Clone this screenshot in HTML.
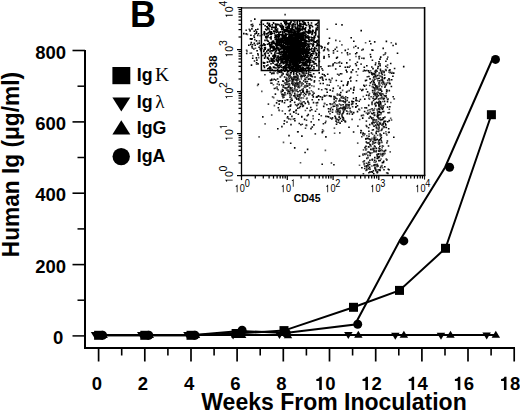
<!DOCTYPE html>
<html><head><meta charset="utf-8"><style>
html,body{margin:0;padding:0;background:#fff;width:520px;height:412px;overflow:hidden}
svg{display:block}
</style></head><body>
<svg width="520" height="412" viewBox="0 0 520 412">
<defs>
<path id="one_b" d="M372,0 L372,-710 L262,-710 C248,-650 200,-602 78,-592 L78,-486 L233,-486 L233,0 Z"/>
<path id="one_r" d="M309,0 L309,-709 L252,-709 C238,-650 190,-612 109,-602 L109,-535 L223,-535 L223,0 Z"/>
</defs>
<rect width="520" height="412" fill="#fff"/>
<g stroke="#000" fill="none" stroke-linecap="butt">
<path d="M85,50 V348.2" stroke-width="2"/>
<path d="M84,348 H515" stroke-width="1.8"/>
<path d="M72.5,335.9 H85" stroke-width="1.5"/>
<path d="M77.5,300.2 H85" stroke-width="1.5"/>
<path d="M72.5,264.6 H85" stroke-width="1.6"/>
<path d="M77.5,228.9 H85" stroke-width="1.5"/>
<path d="M72.5,193.2 H85" stroke-width="1.6"/>
<path d="M77.5,157.5 H85" stroke-width="1.5"/>
<path d="M72.5,121.9 H85" stroke-width="1.6"/>
<path d="M77.5,86.2 H85" stroke-width="1.5"/>
<path d="M72.5,50.5 H85" stroke-width="1.6"/>
<path d="M98.6,348 V361.5" stroke-width="1.7"/>
<path d="M121.7,348 V355.5" stroke-width="1.6"/>
<path d="M144.8,348 V361.5" stroke-width="1.7"/>
<path d="M167.9,348 V355.5" stroke-width="1.6"/>
<path d="M191.0,348 V361.5" stroke-width="1.7"/>
<path d="M214.1,348 V355.5" stroke-width="1.6"/>
<path d="M237.1,348 V361.5" stroke-width="1.7"/>
<path d="M260.2,348 V355.5" stroke-width="1.6"/>
<path d="M283.3,348 V361.5" stroke-width="1.7"/>
<path d="M306.4,348 V355.5" stroke-width="1.6"/>
<path d="M329.5,348 V361.5" stroke-width="1.7"/>
<path d="M352.6,348 V355.5" stroke-width="1.6"/>
<path d="M375.7,348 V361.5" stroke-width="1.7"/>
<path d="M398.8,348 V355.5" stroke-width="1.6"/>
<path d="M421.9,348 V361.5" stroke-width="1.7"/>
<path d="M445.0,348 V355.5" stroke-width="1.6"/>
<path d="M468.0,348 V361.5" stroke-width="1.7"/>
<path d="M491.1,348 V355.5" stroke-width="1.6"/>
<path d="M514.2,348 V361.5" stroke-width="1.7"/>
</g>
<g font-family="Liberation Sans" font-weight="bold" font-size="18.5" fill="#000">
<text x="66" y="58.6" text-anchor="end">800</text>
<text x="66" y="129.5" text-anchor="end">600</text>
<text x="66" y="201.2" text-anchor="end">400</text>
<text x="66" y="273" text-anchor="end">200</text>
<text x="63.2" y="343.5" text-anchor="end">0</text>
<text x="96.8" y="390" text-anchor="middle">0</text>
<text x="143.0" y="390" text-anchor="middle">2</text>
<text x="189.2" y="390" text-anchor="middle">4</text>
<text x="235.3" y="390" text-anchor="middle">6</text>
<text x="281.5" y="390" text-anchor="middle">8</text>
<use href="#one_b" transform="translate(314.91,390) scale(0.0185)"/>
<text x="325.20" y="390">0</text>
<use href="#one_b" transform="translate(361.09,390) scale(0.0185)"/>
<text x="371.38" y="390">2</text>
<use href="#one_b" transform="translate(407.27,390) scale(0.0185)"/>
<text x="417.56" y="390">4</text>
<use href="#one_b" transform="translate(453.45,390) scale(0.0185)"/>
<text x="463.74" y="390">6</text>
<use href="#one_b" transform="translate(499.63,390) scale(0.0185)"/>
<text x="509.92" y="390">8</text>
</g>
<text x="334" y="410.3" text-anchor="middle" font-family="Liberation Sans" font-weight="bold" font-size="23">Weeks From Inoculation</text>
<text transform="translate(18.6,164.6) rotate(-90) scale(0.962,1)" text-anchor="middle" font-family="Liberation Sans" font-weight="bold" font-size="23.6">Human Ig (μg/ml)</text>
<text x="143" y="26.9" text-anchor="middle" font-family="Liberation Sans" font-weight="bold" font-size="36">B</text>
<g stroke="#000" stroke-width="2" fill="none">
<path d="M98.6,335.3 L144.8,335.3 L191.0,335.3 L236.1,333.5 L284.0,330.6 L353.5,307.3 L399.5,290.4 L445.5,248.3 L491.4,114.7"/>
<path d="M98.6,335.3 L144.8,335.3 L191.0,335.3 L240.0,331.0 L285.3,333.0 L355.0,324.5 L399.5,241.0 L445.0,167.5 L492.0,60.0"/>
<path d="M98.6,335 H496"/>
</g>
<g fill="#000">
<path d="M90.8,332.0 H99.3 L95.1,339.0 Z"/>
<path d="M137.0,332.0 H145.5 L141.3,339.0 Z"/>
<path d="M183.2,332.0 H191.7 L187.5,339.0 Z"/>
<path d="M228.9,332.5 H237.4 L233.1,339.5 Z"/>
<path d="M275.2,332.0 H283.8 L279.5,339.0 Z"/>
<path d="M344.1,332.0 H352.6 L348.3,339.0 Z"/>
<path d="M391.1,332.7 H399.6 L395.3,339.7 Z"/>
<path d="M436.7,332.7 H445.2 L441.0,339.7 Z"/>
<path d="M482.4,332.5 H490.9 L486.7,339.5 Z"/>
<path d="M99.3,338.0 H107.8 L103.6,331.0 Z"/>
<path d="M145.5,338.0 H154.0 L149.8,331.0 Z"/>
<path d="M191.7,338.0 H200.2 L196.0,331.0 Z"/>
<path d="M237.9,338.0 H246.4 L242.1,331.0 Z"/>
<path d="M283.8,338.3 H292.2 L288.0,331.3 Z"/>
<path d="M354.1,337.7 H362.6 L358.3,330.7 Z"/>
<path d="M399.6,337.7 H408.1 L403.9,330.7 Z"/>
<path d="M446.2,337.7 H454.7 L450.5,330.7 Z"/>
<path d="M491.6,337.7 H500.1 L495.8,330.7 Z"/>
<rect x="94.1" y="330.8" width="9" height="9"/>
<rect x="140.3" y="330.8" width="9" height="9"/>
<rect x="186.5" y="330.8" width="9" height="9"/>
<rect x="231.6" y="329.0" width="9" height="9"/>
<rect x="279.5" y="326.1" width="9" height="9"/>
<rect x="349.0" y="302.8" width="9" height="9"/>
<rect x="395.0" y="285.9" width="9" height="9"/>
<rect x="441.0" y="243.8" width="9" height="9"/>
<rect x="486.9" y="110.2" width="9" height="9"/>
<circle cx="102.6" cy="335.3" r="4.5"/>
<circle cx="148.8" cy="335.3" r="4.5"/>
<circle cx="195.0" cy="335.3" r="4.5"/>
<circle cx="242.1" cy="330.3" r="4.5"/>
<circle cx="286.3" cy="333.0" r="4.5"/>
<circle cx="357.7" cy="324.3" r="4.5"/>
<circle cx="403.8" cy="240.9" r="4.5"/>
<circle cx="449.6" cy="167.3" r="4.5"/>
<circle cx="495.5" cy="59.4" r="4.5"/>
</g>
<g fill="#000">
<rect x="112.4" y="67" width="17.9" height="17.2"/>
<path d="M112.4,97.4 H130.3 L121.3,111.5 Z"/>
<path d="M112.4,134.4 H130.3 L121.3,120.3 Z"/>
<circle cx="121.2" cy="156.6" r="8.7"/>
</g>
<g font-family="Liberation Sans" font-weight="bold" font-size="17.8" fill="#000">
<text x="136.8" y="80.9">Ig<tspan font-family="Liberation Serif" font-weight="normal" font-size="19.5" dx="2.4">K</tspan></text>
<text x="136.8" y="107.5">Ig<tspan font-family="Liberation Serif" font-weight="normal" font-size="19" dx="2.6">λ</tspan></text>
<text x="136.8" y="134.4">IgG</text>
<text x="136.8" y="162">IgA</text>
</g>
<path fill="#000" d="M291.0 54.6h1.6v1.6h-1.6zM291.2 43.9h1.6v1.6h-1.6zM285.6 45.2h1.6v1.6h-1.6zM301.9 53.5h1.6v1.6h-1.6zM301.3 51.2h1.6v1.6h-1.6zM296.2 50.4h1.6v1.6h-1.6zM279.7 59.1h1.6v1.6h-1.6zM297.1 54.5h1.6v1.6h-1.6zM279.5 25.3h1.6v1.6h-1.6zM285.9 41.9h1.6v1.6h-1.6zM295.4 47.4h1.6v1.6h-1.6zM297.2 39.7h1.6v1.6h-1.6zM295.5 53.1h1.6v1.6h-1.6zM287.7 70.3h1.6v1.6h-1.6zM297.5 63.6h1.6v1.6h-1.6zM288.0 38.4h1.6v1.6h-1.6zM290.2 46.6h1.6v1.6h-1.6zM298.1 51.2h1.6v1.6h-1.6zM289.4 35.6h1.6v1.6h-1.6zM288.8 63.9h1.6v1.6h-1.6zM286.5 51.2h1.6v1.6h-1.6zM296.4 28.6h1.6v1.6h-1.6zM293.4 65.0h1.6v1.6h-1.6zM276.9 43.8h1.6v1.6h-1.6zM292.2 37.4h1.6v1.6h-1.6zM297.0 47.2h1.6v1.6h-1.6zM281.3 58.8h1.6v1.6h-1.6zM298.4 60.3h1.6v1.6h-1.6zM304.5 52.7h1.6v1.6h-1.6zM294.0 31.1h1.6v1.6h-1.6zM297.9 40.0h1.6v1.6h-1.6zM289.4 31.6h1.6v1.6h-1.6zM285.3 41.1h1.6v1.6h-1.6zM303.3 21.6h1.6v1.6h-1.6zM281.3 51.1h1.6v1.6h-1.6zM304.5 55.5h1.6v1.6h-1.6zM295.9 38.4h1.6v1.6h-1.6zM284.0 60.7h1.6v1.6h-1.6zM301.8 50.0h1.6v1.6h-1.6zM295.0 53.6h1.6v1.6h-1.6zM305.8 56.0h1.6v1.6h-1.6zM297.1 55.1h1.6v1.6h-1.6zM280.5 64.7h1.6v1.6h-1.6zM300.6 54.9h1.6v1.6h-1.6zM277.2 39.8h1.6v1.6h-1.6zM299.7 24.5h1.6v1.6h-1.6zM291.5 61.3h1.6v1.6h-1.6zM282.5 68.9h1.6v1.6h-1.6zM297.4 46.0h1.6v1.6h-1.6zM295.6 56.4h1.6v1.6h-1.6zM294.0 62.9h1.6v1.6h-1.6zM287.7 42.6h1.6v1.6h-1.6zM301.3 48.3h1.6v1.6h-1.6zM286.0 60.3h1.6v1.6h-1.6zM304.7 42.2h1.6v1.6h-1.6zM282.0 46.2h1.6v1.6h-1.6zM291.8 44.1h1.6v1.6h-1.6zM304.2 34.6h1.6v1.6h-1.6zM303.1 31.5h1.6v1.6h-1.6zM286.7 56.2h1.6v1.6h-1.6zM302.0 59.2h1.6v1.6h-1.6zM295.8 49.9h1.6v1.6h-1.6zM294.2 55.5h1.6v1.6h-1.6zM291.6 51.6h1.6v1.6h-1.6zM297.6 48.0h1.6v1.6h-1.6zM299.1 55.4h1.6v1.6h-1.6zM309.1 52.2h1.6v1.6h-1.6zM289.6 43.2h1.6v1.6h-1.6zM292.9 60.0h1.6v1.6h-1.6zM290.3 53.0h1.6v1.6h-1.6zM284.0 51.2h1.6v1.6h-1.6zM296.2 51.1h1.6v1.6h-1.6zM289.6 56.5h1.6v1.6h-1.6zM295.3 41.2h1.6v1.6h-1.6zM312.4 52.6h1.6v1.6h-1.6zM288.6 46.7h1.6v1.6h-1.6zM291.2 47.2h1.6v1.6h-1.6zM271.2 41.7h1.6v1.6h-1.6zM301.1 32.8h1.6v1.6h-1.6zM292.5 60.4h1.6v1.6h-1.6zM299.8 67.4h1.6v1.6h-1.6zM279.4 43.4h1.6v1.6h-1.6zM290.3 56.1h1.6v1.6h-1.6zM301.7 29.2h1.6v1.6h-1.6zM298.5 28.6h1.6v1.6h-1.6zM294.4 63.5h1.6v1.6h-1.6zM291.8 50.5h1.6v1.6h-1.6zM299.4 49.8h1.6v1.6h-1.6zM292.3 67.9h1.6v1.6h-1.6zM301.4 44.2h1.6v1.6h-1.6zM315.0 33.1h1.6v1.6h-1.6zM300.3 44.5h1.6v1.6h-1.6zM294.1 57.2h1.6v1.6h-1.6zM294.8 56.3h1.6v1.6h-1.6zM280.8 28.4h1.6v1.6h-1.6zM297.9 35.5h1.6v1.6h-1.6zM284.8 28.9h1.6v1.6h-1.6zM303.1 57.7h1.6v1.6h-1.6zM304.8 35.8h1.6v1.6h-1.6zM293.0 33.2h1.6v1.6h-1.6zM299.1 68.7h1.6v1.6h-1.6zM285.9 68.3h1.6v1.6h-1.6zM300.9 45.7h1.6v1.6h-1.6zM277.2 66.3h1.6v1.6h-1.6zM292.2 40.2h1.6v1.6h-1.6zM296.2 53.3h1.6v1.6h-1.6zM305.0 34.7h1.6v1.6h-1.6zM302.1 67.3h1.6v1.6h-1.6zM304.6 45.7h1.6v1.6h-1.6zM287.0 61.2h1.6v1.6h-1.6zM293.9 49.6h1.6v1.6h-1.6zM304.4 44.6h1.6v1.6h-1.6zM274.6 43.0h1.6v1.6h-1.6zM278.2 58.6h1.6v1.6h-1.6zM295.5 40.1h1.6v1.6h-1.6zM292.9 58.8h1.6v1.6h-1.6zM293.6 65.2h1.6v1.6h-1.6zM292.5 61.5h1.6v1.6h-1.6zM304.9 68.9h1.6v1.6h-1.6zM287.6 59.4h1.6v1.6h-1.6zM278.0 33.9h1.6v1.6h-1.6zM277.3 61.9h1.6v1.6h-1.6zM283.1 47.8h1.6v1.6h-1.6zM291.5 47.6h1.6v1.6h-1.6zM288.3 51.0h1.6v1.6h-1.6zM307.3 48.6h1.6v1.6h-1.6zM297.2 61.0h1.6v1.6h-1.6zM291.4 31.6h1.6v1.6h-1.6zM288.6 62.0h1.6v1.6h-1.6zM279.8 40.2h1.6v1.6h-1.6zM301.1 58.3h1.6v1.6h-1.6zM293.1 58.5h1.6v1.6h-1.6zM294.3 32.7h1.6v1.6h-1.6zM280.5 39.7h1.6v1.6h-1.6zM300.4 40.6h1.6v1.6h-1.6zM285.8 38.0h1.6v1.6h-1.6zM280.7 46.5h1.6v1.6h-1.6zM283.6 52.7h1.6v1.6h-1.6zM274.1 52.3h1.6v1.6h-1.6zM287.9 22.8h1.6v1.6h-1.6zM298.8 44.4h1.6v1.6h-1.6zM275.2 36.6h1.6v1.6h-1.6zM295.3 42.0h1.6v1.6h-1.6zM299.2 57.7h1.6v1.6h-1.6zM298.3 52.2h1.6v1.6h-1.6zM303.7 56.6h1.6v1.6h-1.6zM296.6 20.9h1.6v1.6h-1.6zM300.2 65.0h1.6v1.6h-1.6zM290.6 41.9h1.6v1.6h-1.6zM308.5 25.1h1.6v1.6h-1.6zM285.6 57.0h1.6v1.6h-1.6zM308.1 46.4h1.6v1.6h-1.6zM297.5 59.7h1.6v1.6h-1.6zM285.8 46.8h1.6v1.6h-1.6zM295.3 58.7h1.6v1.6h-1.6zM292.7 45.5h1.6v1.6h-1.6zM284.9 43.3h1.6v1.6h-1.6zM300.1 49.3h1.6v1.6h-1.6zM286.2 37.1h1.6v1.6h-1.6zM314.3 62.8h1.6v1.6h-1.6zM298.0 54.2h1.6v1.6h-1.6zM306.5 53.6h1.6v1.6h-1.6zM292.5 54.8h1.6v1.6h-1.6zM277.4 61.4h1.6v1.6h-1.6zM295.6 38.9h1.6v1.6h-1.6zM281.8 39.3h1.6v1.6h-1.6zM295.3 50.4h1.6v1.6h-1.6zM289.8 35.3h1.6v1.6h-1.6zM310.0 61.5h1.6v1.6h-1.6zM283.4 30.5h1.6v1.6h-1.6zM306.6 60.9h1.6v1.6h-1.6zM307.6 58.5h1.6v1.6h-1.6zM286.0 51.4h1.6v1.6h-1.6zM275.7 38.3h1.6v1.6h-1.6zM292.5 54.8h1.6v1.6h-1.6zM287.2 46.4h1.6v1.6h-1.6zM296.7 52.9h1.6v1.6h-1.6zM298.1 50.7h1.6v1.6h-1.6zM290.4 58.3h1.6v1.6h-1.6zM293.4 37.3h1.6v1.6h-1.6zM288.0 48.0h1.6v1.6h-1.6zM292.1 50.0h1.6v1.6h-1.6zM293.0 50.3h1.6v1.6h-1.6zM291.9 31.6h1.6v1.6h-1.6zM296.4 61.7h1.6v1.6h-1.6zM296.5 45.5h1.6v1.6h-1.6zM296.6 35.4h1.6v1.6h-1.6zM277.8 48.8h1.6v1.6h-1.6zM285.6 57.6h1.6v1.6h-1.6zM284.7 68.5h1.6v1.6h-1.6zM289.9 30.2h1.6v1.6h-1.6zM286.9 54.8h1.6v1.6h-1.6zM297.0 50.3h1.6v1.6h-1.6zM304.9 57.2h1.6v1.6h-1.6zM292.8 55.8h1.6v1.6h-1.6zM306.2 60.6h1.6v1.6h-1.6zM301.2 33.9h1.6v1.6h-1.6zM291.8 57.5h1.6v1.6h-1.6zM290.6 61.9h1.6v1.6h-1.6zM297.8 59.8h1.6v1.6h-1.6zM302.9 45.2h1.6v1.6h-1.6zM290.3 59.4h1.6v1.6h-1.6zM300.8 48.1h1.6v1.6h-1.6zM283.7 50.4h1.6v1.6h-1.6zM295.9 62.7h1.6v1.6h-1.6zM299.3 48.3h1.6v1.6h-1.6zM299.8 55.0h1.6v1.6h-1.6zM294.6 48.7h1.6v1.6h-1.6zM291.1 56.9h1.6v1.6h-1.6zM284.6 39.8h1.6v1.6h-1.6zM293.0 29.0h1.6v1.6h-1.6zM289.5 21.9h1.6v1.6h-1.6zM287.5 55.4h1.6v1.6h-1.6zM297.5 47.3h1.6v1.6h-1.6zM291.1 29.6h1.6v1.6h-1.6zM307.6 54.7h1.6v1.6h-1.6zM301.7 36.5h1.6v1.6h-1.6zM291.5 24.3h1.6v1.6h-1.6zM299.2 60.2h1.6v1.6h-1.6zM277.8 47.3h1.6v1.6h-1.6zM298.0 25.1h1.6v1.6h-1.6zM278.4 34.2h1.6v1.6h-1.6zM288.0 29.8h1.6v1.6h-1.6zM293.3 51.2h1.6v1.6h-1.6zM298.1 57.1h1.6v1.6h-1.6zM305.0 63.1h1.6v1.6h-1.6zM282.5 41.4h1.6v1.6h-1.6zM284.5 34.0h1.6v1.6h-1.6zM292.3 48.1h1.6v1.6h-1.6zM296.9 27.4h1.6v1.6h-1.6zM283.1 47.7h1.6v1.6h-1.6zM291.4 44.0h1.6v1.6h-1.6zM292.5 38.1h1.6v1.6h-1.6zM298.6 52.6h1.6v1.6h-1.6zM292.3 39.3h1.6v1.6h-1.6zM285.1 48.5h1.6v1.6h-1.6zM281.0 50.6h1.6v1.6h-1.6zM294.2 30.1h1.6v1.6h-1.6zM291.0 43.9h1.6v1.6h-1.6zM296.7 56.0h1.6v1.6h-1.6zM292.7 36.9h1.6v1.6h-1.6zM291.8 47.1h1.6v1.6h-1.6zM298.9 51.8h1.6v1.6h-1.6zM287.2 30.4h1.6v1.6h-1.6zM290.0 38.4h1.6v1.6h-1.6zM284.1 46.5h1.6v1.6h-1.6zM289.1 49.4h1.6v1.6h-1.6zM297.2 42.6h1.6v1.6h-1.6zM311.6 43.8h1.6v1.6h-1.6zM301.8 49.6h1.6v1.6h-1.6zM287.0 51.2h1.6v1.6h-1.6zM297.8 78.4h1.6v1.6h-1.6zM295.6 64.6h1.6v1.6h-1.6zM299.1 60.3h1.6v1.6h-1.6zM297.1 46.0h1.6v1.6h-1.6zM297.1 34.0h1.6v1.6h-1.6zM302.5 34.8h1.6v1.6h-1.6zM291.2 48.3h1.6v1.6h-1.6zM302.3 48.3h1.6v1.6h-1.6zM286.5 51.4h1.6v1.6h-1.6zM297.7 57.2h1.6v1.6h-1.6zM286.8 70.8h1.6v1.6h-1.6zM306.3 48.2h1.6v1.6h-1.6zM295.1 42.4h1.6v1.6h-1.6zM304.3 38.8h1.6v1.6h-1.6zM298.4 41.8h1.6v1.6h-1.6zM287.4 57.3h1.6v1.6h-1.6zM303.7 47.9h1.6v1.6h-1.6zM287.6 58.5h1.6v1.6h-1.6zM292.6 52.0h1.6v1.6h-1.6zM305.2 62.7h1.6v1.6h-1.6zM288.8 77.7h1.6v1.6h-1.6zM293.0 58.2h1.6v1.6h-1.6zM287.8 47.4h1.6v1.6h-1.6zM279.0 71.2h1.6v1.6h-1.6zM303.9 32.2h1.6v1.6h-1.6zM281.0 26.9h1.6v1.6h-1.6zM302.4 42.0h1.6v1.6h-1.6zM292.5 43.9h1.6v1.6h-1.6zM292.0 33.9h1.6v1.6h-1.6zM293.2 29.3h1.6v1.6h-1.6zM292.4 52.0h1.6v1.6h-1.6zM296.7 45.0h1.6v1.6h-1.6zM285.8 50.1h1.6v1.6h-1.6zM289.1 68.4h1.6v1.6h-1.6zM299.1 46.5h1.6v1.6h-1.6zM289.2 38.9h1.6v1.6h-1.6zM285.5 43.4h1.6v1.6h-1.6zM295.4 54.7h1.6v1.6h-1.6zM287.4 48.2h1.6v1.6h-1.6zM315.4 23.7h1.6v1.6h-1.6zM288.8 50.2h1.6v1.6h-1.6zM294.2 53.3h1.6v1.6h-1.6zM291.1 52.8h1.6v1.6h-1.6zM293.4 58.0h1.6v1.6h-1.6zM277.9 36.5h1.6v1.6h-1.6zM293.0 34.6h1.6v1.6h-1.6zM284.6 56.2h1.6v1.6h-1.6zM287.8 56.3h1.6v1.6h-1.6zM299.0 52.0h1.6v1.6h-1.6zM297.1 46.6h1.6v1.6h-1.6zM281.7 47.6h1.6v1.6h-1.6zM296.6 41.1h1.6v1.6h-1.6zM292.2 57.7h1.6v1.6h-1.6zM286.0 56.3h1.6v1.6h-1.6zM307.9 40.8h1.6v1.6h-1.6zM294.2 46.0h1.6v1.6h-1.6zM305.3 52.1h1.6v1.6h-1.6zM300.2 39.0h1.6v1.6h-1.6zM292.9 47.9h1.6v1.6h-1.6zM278.8 66.7h1.6v1.6h-1.6zM300.2 25.3h1.6v1.6h-1.6zM299.0 46.3h1.6v1.6h-1.6zM296.6 52.8h1.6v1.6h-1.6zM281.0 45.2h1.6v1.6h-1.6zM304.9 40.5h1.6v1.6h-1.6zM284.8 30.3h1.6v1.6h-1.6zM283.2 52.4h1.6v1.6h-1.6zM306.5 53.6h1.6v1.6h-1.6zM288.8 39.2h1.6v1.6h-1.6zM297.2 55.1h1.6v1.6h-1.6zM284.9 32.8h1.6v1.6h-1.6zM295.3 51.2h1.6v1.6h-1.6zM282.5 45.4h1.6v1.6h-1.6zM288.7 54.0h1.6v1.6h-1.6zM292.1 46.9h1.6v1.6h-1.6zM290.2 61.7h1.6v1.6h-1.6zM304.1 43.2h1.6v1.6h-1.6zM299.8 38.2h1.6v1.6h-1.6zM293.6 57.7h1.6v1.6h-1.6zM305.1 43.0h1.6v1.6h-1.6zM292.4 50.6h1.6v1.6h-1.6zM281.0 48.2h1.6v1.6h-1.6zM287.6 52.8h1.6v1.6h-1.6zM284.0 22.3h1.6v1.6h-1.6zM293.3 51.4h1.6v1.6h-1.6zM288.6 59.6h1.6v1.6h-1.6zM290.8 40.1h1.6v1.6h-1.6zM296.8 27.6h1.6v1.6h-1.6zM287.6 47.7h1.6v1.6h-1.6zM299.8 45.9h1.6v1.6h-1.6zM295.5 39.5h1.6v1.6h-1.6zM295.4 69.6h1.6v1.6h-1.6zM287.8 48.2h1.6v1.6h-1.6zM294.4 61.3h1.6v1.6h-1.6zM283.1 20.7h1.6v1.6h-1.6zM297.8 58.3h1.6v1.6h-1.6zM298.0 82.2h1.6v1.6h-1.6zM294.6 51.3h1.6v1.6h-1.6zM300.4 52.8h1.6v1.6h-1.6zM306.3 31.9h1.6v1.6h-1.6zM299.5 43.2h1.6v1.6h-1.6zM300.4 76.0h1.6v1.6h-1.6zM293.0 44.7h1.6v1.6h-1.6zM289.0 37.1h1.6v1.6h-1.6zM288.0 56.3h1.6v1.6h-1.6zM293.3 48.9h1.6v1.6h-1.6zM291.6 59.9h1.6v1.6h-1.6zM297.0 46.2h1.6v1.6h-1.6zM298.3 46.0h1.6v1.6h-1.6zM283.8 66.9h1.6v1.6h-1.6zM296.7 35.6h1.6v1.6h-1.6zM301.6 52.5h1.6v1.6h-1.6zM280.5 68.9h1.6v1.6h-1.6zM295.7 59.6h1.6v1.6h-1.6zM294.6 46.1h1.6v1.6h-1.6zM280.6 60.6h1.6v1.6h-1.6zM293.2 44.3h1.6v1.6h-1.6zM295.8 49.0h1.6v1.6h-1.6zM298.4 43.2h1.6v1.6h-1.6zM292.7 20.2h1.6v1.6h-1.6zM289.6 56.8h1.6v1.6h-1.6zM303.7 43.3h1.6v1.6h-1.6zM292.0 68.6h1.6v1.6h-1.6zM290.4 57.5h1.6v1.6h-1.6zM306.4 48.5h1.6v1.6h-1.6zM302.8 38.8h1.6v1.6h-1.6zM294.7 47.0h1.6v1.6h-1.6zM293.9 62.7h1.6v1.6h-1.6zM312.1 39.3h1.6v1.6h-1.6zM288.4 54.5h1.6v1.6h-1.6zM284.6 54.5h1.6v1.6h-1.6zM297.6 44.4h1.6v1.6h-1.6zM297.2 27.9h1.6v1.6h-1.6zM299.1 27.9h1.6v1.6h-1.6zM287.4 40.8h1.6v1.6h-1.6zM289.8 59.2h1.6v1.6h-1.6zM293.7 42.8h1.6v1.6h-1.6zM297.3 68.6h1.6v1.6h-1.6zM293.0 52.8h1.6v1.6h-1.6zM302.9 51.5h1.6v1.6h-1.6zM282.7 80.4h1.6v1.6h-1.6zM310.7 22.2h1.6v1.6h-1.6zM292.7 53.4h1.6v1.6h-1.6zM300.7 56.7h1.6v1.6h-1.6zM290.8 34.3h1.6v1.6h-1.6zM293.8 61.4h1.6v1.6h-1.6zM284.3 34.6h1.6v1.6h-1.6zM292.8 22.8h1.6v1.6h-1.6zM290.9 42.3h1.6v1.6h-1.6zM296.6 38.9h1.6v1.6h-1.6zM285.9 42.9h1.6v1.6h-1.6zM292.6 39.4h1.6v1.6h-1.6zM293.1 57.8h1.6v1.6h-1.6zM302.5 70.2h1.6v1.6h-1.6zM286.7 42.5h1.6v1.6h-1.6zM273.1 72.7h1.6v1.6h-1.6zM287.2 47.6h1.6v1.6h-1.6zM297.2 30.3h1.6v1.6h-1.6zM296.7 47.7h1.6v1.6h-1.6zM278.4 51.8h1.6v1.6h-1.6zM302.6 23.7h1.6v1.6h-1.6zM299.5 50.7h1.6v1.6h-1.6zM296.8 53.7h1.6v1.6h-1.6zM303.4 45.1h1.6v1.6h-1.6zM300.0 42.7h1.6v1.6h-1.6zM298.8 37.4h1.6v1.6h-1.6zM292.1 70.5h1.6v1.6h-1.6zM296.6 45.9h1.6v1.6h-1.6zM283.8 37.7h1.6v1.6h-1.6zM294.5 60.2h1.6v1.6h-1.6zM296.4 54.8h1.6v1.6h-1.6zM292.7 65.6h1.6v1.6h-1.6zM289.9 40.9h1.6v1.6h-1.6zM300.1 48.8h1.6v1.6h-1.6zM290.8 40.5h1.6v1.6h-1.6zM290.9 56.1h1.6v1.6h-1.6zM295.8 32.3h1.6v1.6h-1.6zM296.4 50.3h1.6v1.6h-1.6zM285.0 58.0h1.6v1.6h-1.6zM290.8 43.6h1.6v1.6h-1.6zM299.4 65.2h1.6v1.6h-1.6zM287.5 53.7h1.6v1.6h-1.6zM286.0 78.1h1.6v1.6h-1.6zM289.0 63.5h1.6v1.6h-1.6zM287.8 58.5h1.6v1.6h-1.6zM289.5 54.5h1.6v1.6h-1.6zM292.3 39.3h1.6v1.6h-1.6zM310.2 49.0h1.6v1.6h-1.6zM279.8 59.1h1.6v1.6h-1.6zM279.2 63.0h1.6v1.6h-1.6zM288.4 49.9h1.6v1.6h-1.6zM303.1 49.5h1.6v1.6h-1.6zM281.9 26.0h1.6v1.6h-1.6zM302.5 57.6h1.6v1.6h-1.6zM286.5 59.2h1.6v1.6h-1.6zM297.0 56.4h1.6v1.6h-1.6zM274.9 44.1h1.6v1.6h-1.6zM300.2 57.5h1.6v1.6h-1.6zM294.4 54.4h1.6v1.6h-1.6zM313.4 35.6h1.6v1.6h-1.6zM290.4 48.5h1.6v1.6h-1.6zM300.1 42.2h1.6v1.6h-1.6zM302.2 37.8h1.6v1.6h-1.6zM295.1 41.1h1.6v1.6h-1.6zM294.3 39.0h1.6v1.6h-1.6zM280.2 62.2h1.6v1.6h-1.6zM295.4 40.7h1.6v1.6h-1.6zM294.6 60.9h1.6v1.6h-1.6zM285.2 46.6h1.6v1.6h-1.6zM297.3 54.8h1.6v1.6h-1.6zM290.3 20.6h1.6v1.6h-1.6zM302.9 52.3h1.6v1.6h-1.6zM293.1 44.4h1.6v1.6h-1.6zM295.1 42.5h1.6v1.6h-1.6zM284.8 38.4h1.6v1.6h-1.6zM288.2 40.0h1.6v1.6h-1.6zM283.7 56.3h1.6v1.6h-1.6zM282.5 56.6h1.6v1.6h-1.6zM284.9 52.6h1.6v1.6h-1.6zM304.0 50.6h1.6v1.6h-1.6zM287.2 48.6h1.6v1.6h-1.6zM294.2 25.5h1.6v1.6h-1.6zM288.1 50.1h1.6v1.6h-1.6zM289.2 49.0h1.6v1.6h-1.6zM298.9 58.0h1.6v1.6h-1.6zM300.2 55.7h1.6v1.6h-1.6zM290.7 47.8h1.6v1.6h-1.6zM290.8 43.9h1.6v1.6h-1.6zM291.6 25.6h1.6v1.6h-1.6zM290.3 47.7h1.6v1.6h-1.6zM285.2 47.7h1.6v1.6h-1.6zM297.1 45.9h1.6v1.6h-1.6zM291.3 24.3h1.6v1.6h-1.6zM300.8 82.5h1.6v1.6h-1.6zM273.0 49.7h1.6v1.6h-1.6zM297.2 44.1h1.6v1.6h-1.6zM299.8 52.8h1.6v1.6h-1.6zM293.2 40.4h1.6v1.6h-1.6zM298.1 41.7h1.6v1.6h-1.6zM294.8 41.4h1.6v1.6h-1.6zM275.0 47.6h1.6v1.6h-1.6zM294.6 57.8h1.6v1.6h-1.6zM286.0 47.6h1.6v1.6h-1.6zM297.9 49.9h1.6v1.6h-1.6zM285.7 23.0h1.6v1.6h-1.6zM299.9 67.9h1.6v1.6h-1.6zM300.4 58.6h1.6v1.6h-1.6zM288.1 38.7h1.6v1.6h-1.6zM300.1 36.1h1.6v1.6h-1.6zM278.5 35.0h1.6v1.6h-1.6zM287.5 38.5h1.6v1.6h-1.6zM294.9 38.3h1.6v1.6h-1.6zM303.5 47.0h1.6v1.6h-1.6zM284.3 65.0h1.6v1.6h-1.6zM288.3 50.9h1.6v1.6h-1.6zM292.9 43.9h1.6v1.6h-1.6zM295.6 39.0h1.6v1.6h-1.6zM282.9 38.1h1.6v1.6h-1.6zM292.8 48.7h1.6v1.6h-1.6zM297.4 49.6h1.6v1.6h-1.6zM286.7 38.8h1.6v1.6h-1.6zM276.0 45.8h1.6v1.6h-1.6zM296.9 54.9h1.6v1.6h-1.6zM292.0 45.7h1.6v1.6h-1.6zM300.5 48.2h1.6v1.6h-1.6zM298.9 55.6h1.6v1.6h-1.6zM294.7 65.0h1.6v1.6h-1.6zM288.4 43.3h1.6v1.6h-1.6zM286.5 37.6h1.6v1.6h-1.6zM305.4 70.9h1.6v1.6h-1.6zM293.2 55.4h1.6v1.6h-1.6zM302.4 58.5h1.6v1.6h-1.6zM302.6 31.6h1.6v1.6h-1.6zM287.9 53.9h1.6v1.6h-1.6zM304.5 49.4h1.6v1.6h-1.6zM286.1 43.4h1.6v1.6h-1.6zM287.7 36.8h1.6v1.6h-1.6zM305.0 39.9h1.6v1.6h-1.6zM302.5 52.4h1.6v1.6h-1.6zM288.1 53.3h1.6v1.6h-1.6zM306.0 56.1h1.6v1.6h-1.6zM303.1 49.3h1.6v1.6h-1.6zM297.1 45.4h1.6v1.6h-1.6zM296.4 64.9h1.6v1.6h-1.6zM281.6 47.2h1.6v1.6h-1.6zM294.9 40.6h1.6v1.6h-1.6zM290.5 58.2h1.6v1.6h-1.6zM309.0 56.2h1.6v1.6h-1.6zM295.6 27.8h1.6v1.6h-1.6zM308.4 49.0h1.6v1.6h-1.6zM292.7 33.5h1.6v1.6h-1.6zM292.5 33.8h1.6v1.6h-1.6zM293.6 54.1h1.6v1.6h-1.6zM293.2 51.6h1.6v1.6h-1.6zM286.2 66.6h1.6v1.6h-1.6zM287.8 24.4h1.6v1.6h-1.6zM291.5 38.1h1.6v1.6h-1.6zM284.9 43.4h1.6v1.6h-1.6zM295.3 32.6h1.6v1.6h-1.6zM291.9 66.5h1.6v1.6h-1.6zM298.5 46.0h1.6v1.6h-1.6zM294.0 46.4h1.6v1.6h-1.6zM292.6 57.5h1.6v1.6h-1.6zM292.8 36.4h1.6v1.6h-1.6zM298.2 40.1h1.6v1.6h-1.6zM284.6 33.4h1.6v1.6h-1.6zM278.0 52.7h1.6v1.6h-1.6zM287.9 23.7h1.6v1.6h-1.6zM281.1 56.0h1.6v1.6h-1.6zM286.8 43.2h1.6v1.6h-1.6zM295.6 65.6h1.6v1.6h-1.6zM308.5 61.4h1.6v1.6h-1.6zM294.1 50.4h1.6v1.6h-1.6zM307.4 66.6h1.6v1.6h-1.6zM290.5 54.0h1.6v1.6h-1.6zM295.3 48.7h1.6v1.6h-1.6zM289.0 30.8h1.6v1.6h-1.6zM288.7 27.9h1.6v1.6h-1.6zM302.8 55.0h1.6v1.6h-1.6zM283.4 66.1h1.6v1.6h-1.6zM300.1 23.2h1.6v1.6h-1.6zM307.7 58.5h1.6v1.6h-1.6zM309.5 32.0h1.6v1.6h-1.6zM297.2 53.5h1.6v1.6h-1.6zM294.6 50.2h1.6v1.6h-1.6zM301.4 28.6h1.6v1.6h-1.6zM283.1 29.9h1.6v1.6h-1.6zM288.5 40.1h1.6v1.6h-1.6zM295.9 51.5h1.6v1.6h-1.6zM293.3 39.2h1.6v1.6h-1.6zM289.5 60.4h1.6v1.6h-1.6zM299.1 49.3h1.6v1.6h-1.6zM290.4 68.2h1.6v1.6h-1.6zM288.2 56.4h1.6v1.6h-1.6zM302.2 44.5h1.6v1.6h-1.6zM299.6 33.5h1.6v1.6h-1.6zM301.1 50.6h1.6v1.6h-1.6zM280.3 56.7h1.6v1.6h-1.6zM285.9 64.7h1.6v1.6h-1.6zM287.6 45.9h1.6v1.6h-1.6zM295.3 43.7h1.6v1.6h-1.6zM295.1 40.8h1.6v1.6h-1.6zM298.4 48.1h1.6v1.6h-1.6zM302.3 48.4h1.6v1.6h-1.6zM278.7 49.2h1.6v1.6h-1.6zM296.7 61.9h1.6v1.6h-1.6zM284.3 68.1h1.6v1.6h-1.6zM291.7 79.1h1.6v1.6h-1.6zM291.8 56.8h1.6v1.6h-1.6zM290.1 33.5h1.6v1.6h-1.6zM301.8 59.8h1.6v1.6h-1.6zM305.3 59.1h1.6v1.6h-1.6zM288.4 26.4h1.6v1.6h-1.6zM287.8 39.2h1.6v1.6h-1.6zM286.5 55.6h1.6v1.6h-1.6zM295.6 44.5h1.6v1.6h-1.6zM294.4 46.1h1.6v1.6h-1.6zM294.7 57.8h1.6v1.6h-1.6zM300.7 39.1h1.6v1.6h-1.6zM280.9 66.6h1.6v1.6h-1.6zM293.9 62.4h1.6v1.6h-1.6zM279.9 43.7h1.6v1.6h-1.6zM293.2 29.3h1.6v1.6h-1.6zM288.9 57.4h1.6v1.6h-1.6zM301.6 68.7h1.6v1.6h-1.6zM286.1 29.8h1.6v1.6h-1.6zM297.2 60.2h1.6v1.6h-1.6zM294.5 31.1h1.6v1.6h-1.6zM299.3 58.3h1.6v1.6h-1.6zM297.4 41.7h1.6v1.6h-1.6zM295.4 58.3h1.6v1.6h-1.6zM288.5 24.0h1.6v1.6h-1.6zM295.6 54.3h1.6v1.6h-1.6zM293.1 59.6h1.6v1.6h-1.6zM288.3 46.9h1.6v1.6h-1.6zM290.6 55.4h1.6v1.6h-1.6zM305.8 44.7h1.6v1.6h-1.6zM309.4 67.9h1.6v1.6h-1.6zM299.3 55.6h1.6v1.6h-1.6zM307.2 45.7h1.6v1.6h-1.6zM292.1 34.2h1.6v1.6h-1.6zM296.8 65.5h1.6v1.6h-1.6zM297.3 53.5h1.6v1.6h-1.6zM291.4 50.2h1.6v1.6h-1.6zM281.6 61.6h1.6v1.6h-1.6zM289.7 33.6h1.6v1.6h-1.6zM287.0 37.3h1.6v1.6h-1.6zM299.8 61.8h1.6v1.6h-1.6zM282.1 60.0h1.6v1.6h-1.6zM300.1 40.5h1.6v1.6h-1.6zM281.1 38.3h1.6v1.6h-1.6zM287.9 52.5h1.6v1.6h-1.6zM290.1 21.6h1.6v1.6h-1.6zM294.9 28.1h1.6v1.6h-1.6zM300.2 32.3h1.6v1.6h-1.6zM287.5 36.9h1.6v1.6h-1.6zM288.7 64.9h1.6v1.6h-1.6zM299.8 55.8h1.6v1.6h-1.6zM295.6 27.9h1.6v1.6h-1.6zM288.8 40.8h1.6v1.6h-1.6zM285.2 54.6h1.6v1.6h-1.6zM287.1 38.8h1.6v1.6h-1.6zM284.6 21.3h1.6v1.6h-1.6zM297.8 65.3h1.6v1.6h-1.6zM294.4 35.3h1.6v1.6h-1.6zM271.4 50.2h1.6v1.6h-1.6zM302.7 51.9h1.6v1.6h-1.6zM300.4 67.2h1.6v1.6h-1.6zM302.0 42.3h1.6v1.6h-1.6zM301.4 58.1h1.6v1.6h-1.6zM280.7 42.7h1.6v1.6h-1.6zM281.6 46.6h1.6v1.6h-1.6zM297.6 34.1h1.6v1.6h-1.6zM276.6 64.9h1.6v1.6h-1.6zM296.0 67.1h1.6v1.6h-1.6zM282.4 61.8h1.6v1.6h-1.6zM291.3 51.5h1.6v1.6h-1.6zM291.8 61.0h1.6v1.6h-1.6zM301.3 49.1h1.6v1.6h-1.6zM282.1 57.6h1.6v1.6h-1.6zM289.2 56.2h1.6v1.6h-1.6zM295.1 69.1h1.6v1.6h-1.6zM302.1 42.1h1.6v1.6h-1.6zM295.8 70.9h1.6v1.6h-1.6zM288.7 53.6h1.6v1.6h-1.6zM302.5 64.3h1.6v1.6h-1.6zM297.1 30.8h1.6v1.6h-1.6zM282.9 51.2h1.6v1.6h-1.6zM286.1 62.8h1.6v1.6h-1.6zM299.2 26.3h1.6v1.6h-1.6zM286.5 50.2h1.6v1.6h-1.6zM289.1 46.0h1.6v1.6h-1.6zM296.8 37.5h1.6v1.6h-1.6zM296.7 39.7h1.6v1.6h-1.6zM288.6 55.0h1.6v1.6h-1.6zM288.4 51.7h1.6v1.6h-1.6zM305.8 48.4h1.6v1.6h-1.6zM291.8 57.6h1.6v1.6h-1.6zM290.1 62.1h1.6v1.6h-1.6zM282.7 56.0h1.6v1.6h-1.6zM288.9 37.6h1.6v1.6h-1.6zM307.2 36.9h1.6v1.6h-1.6zM307.1 56.6h1.6v1.6h-1.6zM304.6 35.3h1.6v1.6h-1.6zM302.6 66.9h1.6v1.6h-1.6zM292.1 46.3h1.6v1.6h-1.6zM312.6 50.3h1.6v1.6h-1.6zM289.6 39.8h1.6v1.6h-1.6zM296.6 52.3h1.6v1.6h-1.6zM294.4 70.4h1.6v1.6h-1.6zM290.4 54.2h1.6v1.6h-1.6zM304.7 34.9h1.6v1.6h-1.6zM282.2 33.7h1.6v1.6h-1.6zM284.7 24.0h1.6v1.6h-1.6zM296.6 23.9h1.6v1.6h-1.6zM297.0 66.9h1.6v1.6h-1.6zM280.1 43.9h1.6v1.6h-1.6zM277.7 58.1h1.6v1.6h-1.6zM287.1 44.5h1.6v1.6h-1.6zM293.4 55.1h1.6v1.6h-1.6zM290.2 48.2h1.6v1.6h-1.6zM288.6 49.5h1.6v1.6h-1.6zM283.6 48.8h1.6v1.6h-1.6zM277.5 41.6h1.6v1.6h-1.6zM308.3 49.0h1.6v1.6h-1.6zM282.9 51.3h1.6v1.6h-1.6zM285.2 26.5h1.6v1.6h-1.6zM287.1 57.6h1.6v1.6h-1.6zM296.1 46.7h1.6v1.6h-1.6zM285.6 34.0h1.6v1.6h-1.6zM303.8 51.2h1.6v1.6h-1.6zM285.4 20.6h1.6v1.6h-1.6zM282.0 80.2h1.6v1.6h-1.6zM283.8 47.0h1.6v1.6h-1.6zM294.7 46.0h1.6v1.6h-1.6zM290.8 30.1h1.6v1.6h-1.6zM284.6 70.0h1.6v1.6h-1.6zM286.9 59.0h1.6v1.6h-1.6zM279.4 44.4h1.6v1.6h-1.6zM295.1 61.5h1.6v1.6h-1.6zM284.0 55.7h1.6v1.6h-1.6zM296.1 38.4h1.6v1.6h-1.6zM296.8 36.3h1.6v1.6h-1.6zM286.6 47.8h1.6v1.6h-1.6zM271.3 46.6h1.6v1.6h-1.6zM285.0 29.0h1.6v1.6h-1.6zM289.6 57.9h1.6v1.6h-1.6zM289.8 64.5h1.6v1.6h-1.6zM283.7 30.9h1.6v1.6h-1.6zM305.4 53.2h1.6v1.6h-1.6zM300.6 37.3h1.6v1.6h-1.6zM299.4 51.4h1.6v1.6h-1.6zM298.2 48.3h1.6v1.6h-1.6zM302.7 39.6h1.6v1.6h-1.6zM285.3 28.8h1.6v1.6h-1.6zM302.3 38.4h1.6v1.6h-1.6zM284.7 35.8h1.6v1.6h-1.6zM289.4 31.5h1.6v1.6h-1.6zM290.7 39.8h1.6v1.6h-1.6zM288.6 35.5h1.6v1.6h-1.6zM293.3 42.0h1.6v1.6h-1.6zM293.9 51.2h1.6v1.6h-1.6zM288.7 37.7h1.6v1.6h-1.6zM299.2 27.5h1.6v1.6h-1.6zM287.3 44.2h1.6v1.6h-1.6zM290.3 60.9h1.6v1.6h-1.6zM289.5 60.5h1.6v1.6h-1.6zM281.3 24.4h1.6v1.6h-1.6zM302.8 53.7h1.6v1.6h-1.6zM296.9 49.6h1.6v1.6h-1.6zM296.9 32.2h1.6v1.6h-1.6zM300.6 41.1h1.6v1.6h-1.6zM300.9 49.1h1.6v1.6h-1.6zM277.2 31.3h1.6v1.6h-1.6zM302.0 46.2h1.6v1.6h-1.6zM289.8 51.2h1.6v1.6h-1.6zM289.6 40.9h1.6v1.6h-1.6zM293.8 49.9h1.6v1.6h-1.6zM305.1 48.6h1.6v1.6h-1.6zM306.7 61.8h1.6v1.6h-1.6zM294.0 49.8h1.6v1.6h-1.6zM291.9 38.5h1.6v1.6h-1.6zM292.5 39.7h1.6v1.6h-1.6zM306.1 54.9h1.6v1.6h-1.6zM289.4 23.1h1.6v1.6h-1.6zM292.6 42.6h1.6v1.6h-1.6zM284.3 33.2h1.6v1.6h-1.6zM275.0 55.4h1.6v1.6h-1.6zM292.8 46.1h1.6v1.6h-1.6zM304.6 49.7h1.6v1.6h-1.6zM294.3 43.2h1.6v1.6h-1.6zM288.2 67.5h1.6v1.6h-1.6zM301.0 70.3h1.6v1.6h-1.6zM290.2 48.4h1.6v1.6h-1.6zM286.0 60.6h1.6v1.6h-1.6zM281.9 55.3h1.6v1.6h-1.6zM301.8 66.3h1.6v1.6h-1.6zM285.5 62.2h1.6v1.6h-1.6zM287.3 38.2h1.6v1.6h-1.6zM282.4 63.0h1.6v1.6h-1.6zM306.2 40.3h1.6v1.6h-1.6zM286.9 43.6h1.6v1.6h-1.6zM313.1 61.1h1.6v1.6h-1.6zM288.7 24.7h1.6v1.6h-1.6zM287.6 63.4h1.6v1.6h-1.6zM307.9 44.5h1.6v1.6h-1.6zM287.5 41.4h1.6v1.6h-1.6zM277.9 59.8h1.6v1.6h-1.6zM284.3 61.8h1.6v1.6h-1.6zM279.3 31.5h1.6v1.6h-1.6zM295.3 38.1h1.6v1.6h-1.6zM299.3 48.1h1.6v1.6h-1.6zM283.6 56.1h1.6v1.6h-1.6zM299.7 23.1h1.6v1.6h-1.6zM307.6 54.5h1.6v1.6h-1.6zM299.1 23.8h1.6v1.6h-1.6zM287.2 43.5h1.6v1.6h-1.6zM301.6 29.0h1.6v1.6h-1.6zM285.9 21.6h1.6v1.6h-1.6zM291.1 52.5h1.6v1.6h-1.6zM279.5 40.3h1.6v1.6h-1.6zM297.1 68.6h1.6v1.6h-1.6zM298.3 44.1h1.6v1.6h-1.6zM283.6 35.8h1.6v1.6h-1.6zM287.7 49.9h1.6v1.6h-1.6zM292.6 69.7h1.6v1.6h-1.6zM295.3 34.1h1.6v1.6h-1.6zM305.4 60.3h1.6v1.6h-1.6zM293.8 38.6h1.6v1.6h-1.6zM278.0 34.7h1.6v1.6h-1.6zM300.3 37.6h1.6v1.6h-1.6zM282.4 50.5h1.6v1.6h-1.6zM295.0 55.9h1.6v1.6h-1.6zM298.2 66.3h1.6v1.6h-1.6zM286.3 60.7h1.6v1.6h-1.6zM285.1 57.0h1.6v1.6h-1.6zM294.4 51.2h1.6v1.6h-1.6zM300.7 47.8h1.6v1.6h-1.6zM301.9 59.4h1.6v1.6h-1.6zM294.1 40.6h1.6v1.6h-1.6zM287.0 41.1h1.6v1.6h-1.6zM291.4 47.7h1.6v1.6h-1.6zM316.8 56.3h1.6v1.6h-1.6zM299.2 36.8h1.6v1.6h-1.6zM287.3 43.9h1.6v1.6h-1.6zM294.5 34.5h1.6v1.6h-1.6zM305.9 40.7h1.6v1.6h-1.6zM292.9 51.6h1.6v1.6h-1.6zM294.5 55.8h1.6v1.6h-1.6zM295.2 50.1h1.6v1.6h-1.6zM277.9 38.7h1.6v1.6h-1.6zM274.3 56.2h1.6v1.6h-1.6zM295.5 45.5h1.6v1.6h-1.6zM286.4 40.4h1.6v1.6h-1.6zM307.8 70.5h1.6v1.6h-1.6zM292.5 64.7h1.6v1.6h-1.6zM280.3 22.8h1.6v1.6h-1.6zM289.1 36.6h1.6v1.6h-1.6zM288.5 50.4h1.6v1.6h-1.6zM317.2 39.4h1.6v1.6h-1.6zM293.4 51.6h1.6v1.6h-1.6zM292.7 60.1h1.6v1.6h-1.6zM307.2 31.8h1.6v1.6h-1.6zM294.3 44.6h1.6v1.6h-1.6zM295.9 28.1h1.6v1.6h-1.6zM297.2 50.5h1.6v1.6h-1.6zM290.0 38.2h1.6v1.6h-1.6zM281.7 36.1h1.6v1.6h-1.6zM298.6 55.1h1.6v1.6h-1.6zM292.8 54.7h1.6v1.6h-1.6zM288.2 48.9h1.6v1.6h-1.6zM293.3 55.2h1.6v1.6h-1.6zM292.4 46.1h1.6v1.6h-1.6zM291.9 39.6h1.6v1.6h-1.6zM310.9 54.7h1.6v1.6h-1.6zM296.4 77.8h1.6v1.6h-1.6zM304.2 27.8h1.6v1.6h-1.6zM298.6 58.9h1.6v1.6h-1.6zM308.1 65.1h1.6v1.6h-1.6zM299.2 32.7h1.6v1.6h-1.6zM286.0 51.5h1.6v1.6h-1.6zM297.0 34.7h1.6v1.6h-1.6zM289.9 42.8h1.6v1.6h-1.6zM293.5 52.4h1.6v1.6h-1.6zM290.7 31.9h1.6v1.6h-1.6zM302.9 68.7h1.6v1.6h-1.6zM292.2 61.3h1.6v1.6h-1.6zM296.6 56.6h1.6v1.6h-1.6zM296.9 38.1h1.6v1.6h-1.6zM297.6 61.1h1.6v1.6h-1.6zM285.8 73.6h1.6v1.6h-1.6zM308.9 57.7h1.6v1.6h-1.6zM290.3 40.2h1.6v1.6h-1.6zM286.5 49.5h1.6v1.6h-1.6zM292.7 56.7h1.6v1.6h-1.6zM311.2 47.6h1.6v1.6h-1.6zM298.4 54.2h1.6v1.6h-1.6zM295.2 45.3h1.6v1.6h-1.6zM292.0 37.3h1.6v1.6h-1.6zM294.4 47.7h1.6v1.6h-1.6zM295.6 36.9h1.6v1.6h-1.6zM293.3 48.6h1.6v1.6h-1.6zM297.8 34.2h1.6v1.6h-1.6zM296.4 60.8h1.6v1.6h-1.6zM297.8 43.2h1.6v1.6h-1.6zM289.1 44.9h1.6v1.6h-1.6zM298.8 68.2h1.6v1.6h-1.6zM291.7 39.6h1.6v1.6h-1.6zM296.0 50.7h1.6v1.6h-1.6zM285.7 38.4h1.6v1.6h-1.6zM292.2 56.7h1.6v1.6h-1.6zM283.5 34.8h1.6v1.6h-1.6zM297.0 32.1h1.6v1.6h-1.6zM293.9 52.6h1.6v1.6h-1.6zM292.1 34.8h1.6v1.6h-1.6zM292.5 43.7h1.6v1.6h-1.6zM295.7 37.1h1.6v1.6h-1.6zM301.7 26.2h1.6v1.6h-1.6zM291.6 48.1h1.6v1.6h-1.6zM300.7 40.1h1.6v1.6h-1.6zM297.4 40.6h1.6v1.6h-1.6zM298.9 70.6h1.6v1.6h-1.6zM289.8 53.8h1.6v1.6h-1.6zM285.6 60.7h1.6v1.6h-1.6zM302.7 48.5h1.6v1.6h-1.6zM283.9 53.2h1.6v1.6h-1.6zM302.2 62.2h1.6v1.6h-1.6zM299.5 24.2h1.6v1.6h-1.6zM287.6 66.5h1.6v1.6h-1.6zM283.2 62.7h1.6v1.6h-1.6zM308.1 57.9h1.6v1.6h-1.6zM302.0 43.7h1.6v1.6h-1.6zM283.2 46.7h1.6v1.6h-1.6zM291.4 47.4h1.6v1.6h-1.6zM298.6 46.1h1.6v1.6h-1.6zM294.5 53.5h1.6v1.6h-1.6zM293.0 72.0h1.6v1.6h-1.6zM296.5 49.1h1.6v1.6h-1.6zM291.3 39.9h1.6v1.6h-1.6zM303.8 50.0h1.6v1.6h-1.6zM284.4 40.7h1.6v1.6h-1.6zM291.9 42.2h1.6v1.6h-1.6zM301.7 32.9h1.6v1.6h-1.6zM296.9 49.9h1.6v1.6h-1.6zM283.6 48.6h1.6v1.6h-1.6zM292.2 54.5h1.6v1.6h-1.6zM289.4 51.9h1.6v1.6h-1.6zM279.7 33.9h1.6v1.6h-1.6zM299.3 61.5h1.6v1.6h-1.6zM292.9 40.2h1.6v1.6h-1.6zM301.7 20.8h1.6v1.6h-1.6zM286.6 56.7h1.6v1.6h-1.6zM298.2 34.6h1.6v1.6h-1.6zM277.9 66.9h1.6v1.6h-1.6zM294.2 36.3h1.6v1.6h-1.6zM293.4 59.7h1.6v1.6h-1.6zM272.3 62.4h1.6v1.6h-1.6zM298.9 20.9h1.6v1.6h-1.6zM299.2 24.9h1.6v1.6h-1.6zM302.1 53.2h1.6v1.6h-1.6zM311.0 40.1h1.6v1.6h-1.6zM293.0 61.6h1.6v1.6h-1.6zM287.9 38.8h1.6v1.6h-1.6zM290.0 47.1h1.6v1.6h-1.6zM284.3 54.3h1.6v1.6h-1.6zM297.3 48.9h1.6v1.6h-1.6zM306.6 43.7h1.6v1.6h-1.6zM303.5 40.9h1.6v1.6h-1.6zM299.0 22.8h1.6v1.6h-1.6zM294.6 45.7h1.6v1.6h-1.6zM289.0 40.1h1.6v1.6h-1.6zM290.2 38.6h1.6v1.6h-1.6zM275.5 40.2h1.6v1.6h-1.6zM288.6 41.2h1.6v1.6h-1.6zM284.5 46.2h1.6v1.6h-1.6zM299.3 44.7h1.6v1.6h-1.6zM289.1 65.6h1.6v1.6h-1.6zM300.8 60.0h1.6v1.6h-1.6zM302.2 43.7h1.6v1.6h-1.6zM292.0 62.5h1.6v1.6h-1.6zM288.6 46.4h1.6v1.6h-1.6zM296.0 52.8h1.6v1.6h-1.6zM290.8 60.8h1.6v1.6h-1.6zM291.6 57.4h1.6v1.6h-1.6zM301.6 56.6h1.6v1.6h-1.6zM298.9 32.9h1.6v1.6h-1.6zM282.5 40.0h1.6v1.6h-1.6zM296.8 67.5h1.6v1.6h-1.6zM283.2 52.0h1.6v1.6h-1.6zM286.2 38.5h1.6v1.6h-1.6zM290.8 57.0h1.6v1.6h-1.6zM294.7 63.3h1.6v1.6h-1.6zM285.1 59.6h1.6v1.6h-1.6zM300.4 48.9h1.6v1.6h-1.6zM296.8 40.7h1.6v1.6h-1.6zM284.3 42.7h1.6v1.6h-1.6zM287.9 85.6h1.6v1.6h-1.6zM289.1 69.5h1.6v1.6h-1.6zM294.6 52.1h1.6v1.6h-1.6zM298.9 37.9h1.6v1.6h-1.6zM300.3 52.9h1.6v1.6h-1.6zM280.9 55.8h1.6v1.6h-1.6zM297.4 53.9h1.6v1.6h-1.6zM305.7 42.6h1.6v1.6h-1.6zM297.1 57.7h1.6v1.6h-1.6zM285.8 63.6h1.6v1.6h-1.6zM281.4 31.1h1.6v1.6h-1.6zM297.2 33.8h1.6v1.6h-1.6zM292.1 26.6h1.6v1.6h-1.6zM293.6 33.3h1.6v1.6h-1.6zM295.7 28.1h1.6v1.6h-1.6zM296.6 44.5h1.6v1.6h-1.6zM293.5 47.1h1.6v1.6h-1.6zM294.0 30.8h1.6v1.6h-1.6zM272.5 48.4h1.6v1.6h-1.6zM285.5 42.1h1.6v1.6h-1.6zM296.4 22.2h1.6v1.6h-1.6zM286.9 40.1h1.6v1.6h-1.6zM284.5 52.2h1.6v1.6h-1.6zM291.9 37.3h1.6v1.6h-1.6zM285.1 58.5h1.6v1.6h-1.6zM287.7 55.6h1.6v1.6h-1.6zM296.6 23.4h1.6v1.6h-1.6zM284.3 48.0h1.6v1.6h-1.6zM295.7 58.1h1.6v1.6h-1.6zM299.4 61.4h1.6v1.6h-1.6zM290.0 45.3h1.6v1.6h-1.6zM299.2 42.5h1.6v1.6h-1.6zM301.5 27.3h1.6v1.6h-1.6zM298.2 45.7h1.6v1.6h-1.6zM277.3 60.7h1.6v1.6h-1.6zM295.5 48.3h1.6v1.6h-1.6zM284.4 42.0h1.6v1.6h-1.6zM305.1 37.2h1.6v1.6h-1.6zM265.2 36.9h1.6v1.6h-1.6zM283.4 46.3h1.6v1.6h-1.6zM289.9 36.1h1.6v1.6h-1.6zM286.3 61.6h1.6v1.6h-1.6zM288.6 33.8h1.6v1.6h-1.6zM299.3 55.3h1.6v1.6h-1.6zM284.7 57.7h1.6v1.6h-1.6zM278.3 36.0h1.6v1.6h-1.6zM302.0 44.7h1.6v1.6h-1.6zM282.6 54.7h1.6v1.6h-1.6zM300.3 47.7h1.6v1.6h-1.6zM278.5 43.5h1.6v1.6h-1.6zM296.3 58.0h1.6v1.6h-1.6zM307.8 44.7h1.6v1.6h-1.6zM289.1 47.5h1.6v1.6h-1.6zM302.6 35.8h1.6v1.6h-1.6zM299.4 39.2h1.6v1.6h-1.6zM296.7 57.0h1.6v1.6h-1.6zM283.5 46.9h1.6v1.6h-1.6zM294.9 55.6h1.6v1.6h-1.6zM285.6 35.1h1.6v1.6h-1.6zM277.6 81.0h1.6v1.6h-1.6zM291.5 45.1h1.6v1.6h-1.6zM281.0 60.1h1.6v1.6h-1.6zM288.7 66.7h1.6v1.6h-1.6zM299.8 48.3h1.6v1.6h-1.6zM298.8 33.5h1.6v1.6h-1.6zM290.4 40.5h1.6v1.6h-1.6zM282.8 48.2h1.6v1.6h-1.6zM291.8 66.7h1.6v1.6h-1.6zM266.2 39.3h1.6v1.6h-1.6zM285.7 42.0h1.6v1.6h-1.6zM296.4 53.2h1.6v1.6h-1.6zM293.2 41.8h1.6v1.6h-1.6zM297.0 52.7h1.6v1.6h-1.6zM278.3 44.6h1.6v1.6h-1.6zM282.0 32.6h1.6v1.6h-1.6zM294.2 48.8h1.6v1.6h-1.6zM293.9 36.6h1.6v1.6h-1.6zM291.4 36.1h1.6v1.6h-1.6zM296.1 57.0h1.6v1.6h-1.6zM307.0 64.5h1.6v1.6h-1.6zM286.6 42.0h1.6v1.6h-1.6zM285.5 52.0h1.6v1.6h-1.6zM308.8 57.2h1.6v1.6h-1.6zM275.4 31.7h1.6v1.6h-1.6zM282.7 54.7h1.6v1.6h-1.6zM293.0 51.9h1.6v1.6h-1.6zM307.3 37.2h1.6v1.6h-1.6zM286.2 73.6h1.6v1.6h-1.6zM295.7 37.9h1.6v1.6h-1.6zM276.8 28.2h1.6v1.6h-1.6zM273.4 48.9h1.6v1.6h-1.6zM293.4 60.9h1.6v1.6h-1.6zM291.9 39.0h1.6v1.6h-1.6zM278.9 50.3h1.6v1.6h-1.6zM293.2 56.0h1.6v1.6h-1.6zM289.8 54.5h1.6v1.6h-1.6zM299.5 46.1h1.6v1.6h-1.6zM289.3 45.6h1.6v1.6h-1.6zM285.3 45.3h1.6v1.6h-1.6zM290.6 50.7h1.6v1.6h-1.6zM303.7 65.0h1.6v1.6h-1.6zM289.4 55.8h1.6v1.6h-1.6zM295.4 57.9h1.6v1.6h-1.6zM293.2 51.5h1.6v1.6h-1.6zM289.2 37.8h1.6v1.6h-1.6zM300.0 64.9h1.6v1.6h-1.6zM298.3 53.7h1.6v1.6h-1.6zM295.1 42.1h1.6v1.6h-1.6zM278.7 56.6h1.6v1.6h-1.6zM294.6 40.8h1.6v1.6h-1.6zM285.3 64.6h1.6v1.6h-1.6zM278.6 70.9h1.6v1.6h-1.6zM287.3 47.7h1.6v1.6h-1.6zM288.9 50.0h1.6v1.6h-1.6zM291.3 38.3h1.6v1.6h-1.6zM301.6 37.8h1.6v1.6h-1.6zM288.9 55.2h1.6v1.6h-1.6zM288.7 42.4h1.6v1.6h-1.6zM295.8 43.2h1.6v1.6h-1.6zM283.0 46.7h1.6v1.6h-1.6zM291.2 70.2h1.6v1.6h-1.6zM284.2 60.6h1.6v1.6h-1.6zM286.7 43.4h1.6v1.6h-1.6zM290.4 51.5h1.6v1.6h-1.6zM299.9 70.7h1.6v1.6h-1.6zM287.9 65.3h1.6v1.6h-1.6zM301.0 58.6h1.6v1.6h-1.6zM286.9 59.7h1.6v1.6h-1.6zM292.1 52.6h1.6v1.6h-1.6zM290.8 56.6h1.6v1.6h-1.6zM301.9 62.7h1.6v1.6h-1.6zM291.4 60.9h1.6v1.6h-1.6zM304.6 35.8h1.6v1.6h-1.6zM304.8 30.6h1.6v1.6h-1.6zM297.3 55.7h1.6v1.6h-1.6zM304.9 51.6h1.6v1.6h-1.6zM289.2 37.6h1.6v1.6h-1.6zM283.0 58.0h1.6v1.6h-1.6zM291.1 38.7h1.6v1.6h-1.6zM297.3 38.1h1.6v1.6h-1.6zM289.5 42.0h1.6v1.6h-1.6zM306.2 67.0h1.6v1.6h-1.6zM291.7 27.6h1.6v1.6h-1.6zM295.2 48.9h1.6v1.6h-1.6zM295.8 55.4h1.6v1.6h-1.6zM290.4 60.0h1.6v1.6h-1.6zM299.7 50.7h1.6v1.6h-1.6zM289.7 41.8h1.6v1.6h-1.6zM298.5 33.7h1.6v1.6h-1.6zM291.7 38.3h1.6v1.6h-1.6zM281.9 55.8h1.6v1.6h-1.6zM292.8 48.5h1.6v1.6h-1.6zM300.0 28.6h1.6v1.6h-1.6zM292.5 51.8h1.6v1.6h-1.6zM299.7 33.9h1.6v1.6h-1.6zM298.7 50.9h1.6v1.6h-1.6zM303.8 62.8h1.6v1.6h-1.6zM293.0 42.5h1.6v1.6h-1.6zM290.3 35.8h1.6v1.6h-1.6zM292.8 23.6h1.6v1.6h-1.6zM292.3 53.5h1.6v1.6h-1.6zM300.9 43.5h1.6v1.6h-1.6zM304.1 39.5h1.6v1.6h-1.6zM291.9 23.6h1.6v1.6h-1.6zM286.9 37.7h1.6v1.6h-1.6zM304.7 54.7h1.6v1.6h-1.6zM284.4 54.8h1.6v1.6h-1.6zM296.8 45.0h1.6v1.6h-1.6zM293.2 44.1h1.6v1.6h-1.6zM288.8 25.5h1.6v1.6h-1.6zM292.3 64.3h1.6v1.6h-1.6zM304.2 44.5h1.6v1.6h-1.6zM287.2 45.3h1.6v1.6h-1.6zM300.0 52.5h1.6v1.6h-1.6zM288.4 52.6h1.6v1.6h-1.6zM291.4 54.5h1.6v1.6h-1.6zM289.8 29.3h1.6v1.6h-1.6zM293.5 57.6h1.6v1.6h-1.6zM284.4 46.6h1.6v1.6h-1.6zM299.8 43.3h1.6v1.6h-1.6zM299.5 61.0h1.6v1.6h-1.6zM285.6 68.7h1.6v1.6h-1.6zM280.1 41.4h1.6v1.6h-1.6zM298.8 64.8h1.6v1.6h-1.6zM285.8 39.6h1.6v1.6h-1.6zM294.5 23.6h1.6v1.6h-1.6zM298.0 55.1h1.6v1.6h-1.6zM289.5 54.8h1.6v1.6h-1.6zM299.0 51.9h1.6v1.6h-1.6zM297.1 67.1h1.6v1.6h-1.6zM289.3 50.0h1.6v1.6h-1.6zM288.9 61.0h1.6v1.6h-1.6zM289.8 54.0h1.6v1.6h-1.6zM294.1 48.8h1.6v1.6h-1.6zM306.3 46.9h1.6v1.6h-1.6zM304.0 58.4h1.6v1.6h-1.6zM303.2 45.9h1.6v1.6h-1.6zM300.2 57.5h1.6v1.6h-1.6zM288.2 51.4h1.6v1.6h-1.6zM292.0 47.6h1.6v1.6h-1.6zM303.1 38.9h1.6v1.6h-1.6zM280.0 26.1h1.6v1.6h-1.6zM289.5 39.9h1.6v1.6h-1.6zM293.1 55.1h1.6v1.6h-1.6zM306.6 51.9h1.6v1.6h-1.6zM296.6 38.8h1.6v1.6h-1.6zM297.5 65.0h1.6v1.6h-1.6zM303.3 23.5h1.6v1.6h-1.6zM299.9 67.9h1.6v1.6h-1.6zM299.4 29.3h1.6v1.6h-1.6zM290.6 55.4h1.6v1.6h-1.6zM296.2 37.8h1.6v1.6h-1.6zM286.1 60.1h1.6v1.6h-1.6zM282.7 66.0h1.6v1.6h-1.6zM293.2 51.8h1.6v1.6h-1.6zM282.7 40.5h1.6v1.6h-1.6zM298.3 29.6h1.6v1.6h-1.6zM308.9 30.4h1.6v1.6h-1.6zM283.6 48.5h1.6v1.6h-1.6zM296.7 57.2h1.6v1.6h-1.6zM290.1 45.4h1.6v1.6h-1.6zM291.2 40.8h1.6v1.6h-1.6zM273.2 60.0h1.6v1.6h-1.6zM294.9 50.0h1.6v1.6h-1.6zM288.2 51.1h1.6v1.6h-1.6zM292.9 47.0h1.6v1.6h-1.6zM301.5 26.5h1.6v1.6h-1.6zM294.9 34.7h1.6v1.6h-1.6zM290.6 66.7h1.6v1.6h-1.6zM284.7 46.8h1.6v1.6h-1.6zM288.5 59.9h1.6v1.6h-1.6zM285.5 27.0h1.6v1.6h-1.6zM296.9 43.6h1.6v1.6h-1.6zM290.5 61.5h1.6v1.6h-1.6zM286.2 43.3h1.6v1.6h-1.6zM294.1 53.2h1.6v1.6h-1.6zM289.0 60.9h1.6v1.6h-1.6zM310.2 42.9h1.6v1.6h-1.6zM307.4 21.7h1.6v1.6h-1.6zM303.8 43.7h1.6v1.6h-1.6zM294.1 43.8h1.6v1.6h-1.6zM288.1 32.1h1.6v1.6h-1.6zM290.0 64.2h1.6v1.6h-1.6zM301.8 43.7h1.6v1.6h-1.6zM288.9 39.2h1.6v1.6h-1.6zM283.8 70.5h1.6v1.6h-1.6zM298.1 49.5h1.6v1.6h-1.6zM289.2 35.2h1.6v1.6h-1.6zM303.1 57.7h1.6v1.6h-1.6zM285.7 60.3h1.6v1.6h-1.6zM284.5 56.0h1.6v1.6h-1.6zM285.6 42.8h1.6v1.6h-1.6zM296.8 53.4h1.6v1.6h-1.6zM300.8 37.6h1.6v1.6h-1.6zM305.1 64.8h1.6v1.6h-1.6zM292.9 53.8h1.6v1.6h-1.6zM287.0 46.1h1.6v1.6h-1.6zM282.9 49.1h1.6v1.6h-1.6zM294.5 64.8h1.6v1.6h-1.6zM300.3 58.2h1.6v1.6h-1.6zM290.2 45.2h1.6v1.6h-1.6zM290.4 50.8h1.6v1.6h-1.6zM278.2 57.6h1.6v1.6h-1.6zM281.0 41.6h1.6v1.6h-1.6zM293.2 41.6h1.6v1.6h-1.6zM305.8 46.8h1.6v1.6h-1.6zM305.1 62.6h1.6v1.6h-1.6zM289.2 53.0h1.6v1.6h-1.6zM303.0 43.8h1.6v1.6h-1.6zM293.7 41.0h1.6v1.6h-1.6zM293.5 43.6h1.6v1.6h-1.6zM293.6 60.5h1.6v1.6h-1.6zM303.7 49.7h1.6v1.6h-1.6zM294.6 58.7h1.6v1.6h-1.6zM290.8 34.8h1.6v1.6h-1.6zM301.5 36.3h1.6v1.6h-1.6zM300.1 36.0h1.6v1.6h-1.6zM307.1 35.0h1.6v1.6h-1.6zM299.5 66.7h1.6v1.6h-1.6zM285.6 66.5h1.6v1.6h-1.6zM286.7 26.0h1.6v1.6h-1.6zM298.5 56.8h1.6v1.6h-1.6zM292.6 44.2h1.6v1.6h-1.6zM290.1 44.4h1.6v1.6h-1.6zM279.3 40.9h1.6v1.6h-1.6zM306.8 67.3h1.6v1.6h-1.6zM290.2 39.1h1.6v1.6h-1.6zM296.0 61.3h1.6v1.6h-1.6zM298.6 33.4h1.6v1.6h-1.6zM294.2 49.8h1.6v1.6h-1.6zM304.0 62.9h1.6v1.6h-1.6zM297.0 63.2h1.6v1.6h-1.6zM290.0 67.2h1.6v1.6h-1.6zM289.7 52.9h1.6v1.6h-1.6zM300.1 36.6h1.6v1.6h-1.6zM287.6 26.1h1.6v1.6h-1.6zM294.3 47.3h1.6v1.6h-1.6zM290.5 54.2h1.6v1.6h-1.6zM276.7 47.7h1.6v1.6h-1.6zM293.7 44.7h1.6v1.6h-1.6zM299.1 69.9h1.6v1.6h-1.6zM289.6 36.3h1.6v1.6h-1.6zM288.4 49.2h1.6v1.6h-1.6zM297.5 37.3h1.6v1.6h-1.6zM300.7 35.2h1.6v1.6h-1.6zM299.4 53.3h1.6v1.6h-1.6zM296.6 74.9h1.6v1.6h-1.6zM291.0 45.9h1.6v1.6h-1.6zM296.7 58.8h1.6v1.6h-1.6zM282.7 51.4h1.6v1.6h-1.6zM287.3 55.9h1.6v1.6h-1.6zM303.5 48.6h1.6v1.6h-1.6zM292.2 50.3h1.6v1.6h-1.6zM270.3 57.6h1.6v1.6h-1.6zM297.3 50.1h1.6v1.6h-1.6zM290.0 38.9h1.6v1.6h-1.6zM291.6 63.1h1.6v1.6h-1.6zM289.5 63.1h1.6v1.6h-1.6zM294.9 44.8h1.6v1.6h-1.6zM267.1 36.1h1.6v1.6h-1.6zM309.0 27.6h1.6v1.6h-1.6zM276.7 30.3h1.6v1.6h-1.6zM283.1 53.6h1.6v1.6h-1.6zM312.0 37.0h1.6v1.6h-1.6zM282.5 67.4h1.6v1.6h-1.6zM289.8 28.3h1.6v1.6h-1.6zM281.8 35.2h1.6v1.6h-1.6zM276.5 40.5h1.6v1.6h-1.6zM303.6 49.7h1.6v1.6h-1.6zM276.7 46.6h1.6v1.6h-1.6zM291.5 55.2h1.6v1.6h-1.6zM286.3 51.1h1.6v1.6h-1.6zM321.3 46.3h1.6v1.6h-1.6zM275.4 49.4h1.6v1.6h-1.6zM279.4 40.0h1.6v1.6h-1.6zM293.7 49.5h1.6v1.6h-1.6zM286.9 56.4h1.6v1.6h-1.6zM288.2 27.5h1.6v1.6h-1.6zM303.6 40.1h1.6v1.6h-1.6zM308.5 36.2h1.6v1.6h-1.6zM299.2 49.2h1.6v1.6h-1.6zM274.9 63.9h1.6v1.6h-1.6zM263.8 57.3h1.6v1.6h-1.6zM306.7 51.7h1.6v1.6h-1.6zM300.7 38.3h1.6v1.6h-1.6zM290.8 48.0h1.6v1.6h-1.6zM297.1 54.5h1.6v1.6h-1.6zM288.0 35.6h1.6v1.6h-1.6zM282.9 50.5h1.6v1.6h-1.6zM267.1 28.2h1.6v1.6h-1.6zM285.1 37.6h1.6v1.6h-1.6zM286.1 41.6h1.6v1.6h-1.6zM286.6 51.4h1.6v1.6h-1.6zM298.0 61.1h1.6v1.6h-1.6zM306.2 30.9h1.6v1.6h-1.6zM300.2 40.5h1.6v1.6h-1.6zM279.4 65.6h1.6v1.6h-1.6zM281.9 33.5h1.6v1.6h-1.6zM285.1 33.5h1.6v1.6h-1.6zM305.5 50.1h1.6v1.6h-1.6zM311.2 50.5h1.6v1.6h-1.6zM282.1 59.1h1.6v1.6h-1.6zM281.6 38.8h1.6v1.6h-1.6zM288.6 45.5h1.6v1.6h-1.6zM308.2 36.8h1.6v1.6h-1.6zM296.1 44.6h1.6v1.6h-1.6zM272.8 30.3h1.6v1.6h-1.6zM287.8 50.4h1.6v1.6h-1.6zM295.6 51.5h1.6v1.6h-1.6zM291.7 39.0h1.6v1.6h-1.6zM297.2 31.5h1.6v1.6h-1.6zM271.6 40.5h1.6v1.6h-1.6zM270.3 38.1h1.6v1.6h-1.6zM280.2 37.5h1.6v1.6h-1.6zM290.4 34.2h1.6v1.6h-1.6zM284.9 21.9h1.6v1.6h-1.6zM293.1 33.1h1.6v1.6h-1.6zM279.4 48.3h1.6v1.6h-1.6zM255.7 40.1h1.6v1.6h-1.6zM292.4 46.4h1.6v1.6h-1.6zM269.4 48.1h1.6v1.6h-1.6zM293.2 31.9h1.6v1.6h-1.6zM301.8 44.3h1.6v1.6h-1.6zM291.3 38.9h1.6v1.6h-1.6zM298.9 46.3h1.6v1.6h-1.6zM307.5 51.1h1.6v1.6h-1.6zM282.1 42.0h1.6v1.6h-1.6zM304.3 40.1h1.6v1.6h-1.6zM296.5 52.1h1.6v1.6h-1.6zM292.9 47.9h1.6v1.6h-1.6zM293.0 34.7h1.6v1.6h-1.6zM308.5 43.2h1.6v1.6h-1.6zM282.0 35.3h1.6v1.6h-1.6zM296.2 30.2h1.6v1.6h-1.6zM310.0 59.3h1.6v1.6h-1.6zM310.8 53.1h1.6v1.6h-1.6zM266.6 61.2h1.6v1.6h-1.6zM309.0 51.6h1.6v1.6h-1.6zM262.6 61.8h1.6v1.6h-1.6zM310.8 38.3h1.6v1.6h-1.6zM292.9 55.5h1.6v1.6h-1.6zM289.8 59.9h1.6v1.6h-1.6zM292.2 54.4h1.6v1.6h-1.6zM292.2 24.9h1.6v1.6h-1.6zM295.1 62.8h1.6v1.6h-1.6zM307.5 68.3h1.6v1.6h-1.6zM299.1 36.9h1.6v1.6h-1.6zM288.3 57.3h1.6v1.6h-1.6zM259.6 47.7h1.6v1.6h-1.6zM303.0 63.0h1.6v1.6h-1.6zM277.5 36.1h1.6v1.6h-1.6zM263.7 31.2h1.6v1.6h-1.6zM298.8 73.1h1.6v1.6h-1.6zM274.3 63.7h1.6v1.6h-1.6zM297.2 38.3h1.6v1.6h-1.6zM290.0 48.0h1.6v1.6h-1.6zM324.0 46.8h1.6v1.6h-1.6zM305.3 63.6h1.6v1.6h-1.6zM298.5 49.9h1.6v1.6h-1.6zM288.3 39.4h1.6v1.6h-1.6zM294.8 44.5h1.6v1.6h-1.6zM293.6 69.7h1.6v1.6h-1.6zM289.5 41.4h1.6v1.6h-1.6zM280.1 44.7h1.6v1.6h-1.6zM284.6 47.8h1.6v1.6h-1.6zM278.5 71.3h1.6v1.6h-1.6zM303.6 56.1h1.6v1.6h-1.6zM301.4 56.2h1.6v1.6h-1.6zM300.8 64.2h1.6v1.6h-1.6zM305.7 63.4h1.6v1.6h-1.6zM283.7 45.0h1.6v1.6h-1.6zM280.4 58.0h1.6v1.6h-1.6zM303.1 38.7h1.6v1.6h-1.6zM309.1 29.8h1.6v1.6h-1.6zM289.7 53.7h1.6v1.6h-1.6zM290.5 50.3h1.6v1.6h-1.6zM308.2 49.5h1.6v1.6h-1.6zM275.0 54.7h1.6v1.6h-1.6zM289.6 46.6h1.6v1.6h-1.6zM282.7 26.1h1.6v1.6h-1.6zM272.8 40.2h1.6v1.6h-1.6zM307.8 29.2h1.6v1.6h-1.6zM280.4 52.2h1.6v1.6h-1.6zM279.8 54.0h1.6v1.6h-1.6zM284.0 49.2h1.6v1.6h-1.6zM292.5 45.0h1.6v1.6h-1.6zM264.3 25.0h1.6v1.6h-1.6zM290.4 64.2h1.6v1.6h-1.6zM283.0 52.3h1.6v1.6h-1.6zM293.4 51.6h1.6v1.6h-1.6zM305.5 24.6h1.6v1.6h-1.6zM295.0 42.6h1.6v1.6h-1.6zM286.4 33.4h1.6v1.6h-1.6zM279.5 31.0h1.6v1.6h-1.6zM275.0 79.2h1.6v1.6h-1.6zM315.8 45.1h1.6v1.6h-1.6zM301.8 31.7h1.6v1.6h-1.6zM293.1 64.6h1.6v1.6h-1.6zM290.4 31.3h1.6v1.6h-1.6zM287.5 31.4h1.6v1.6h-1.6zM270.6 41.8h1.6v1.6h-1.6zM285.2 33.9h1.6v1.6h-1.6zM278.1 32.3h1.6v1.6h-1.6zM294.5 64.0h1.6v1.6h-1.6zM267.4 48.7h1.6v1.6h-1.6zM274.1 42.8h1.6v1.6h-1.6zM292.5 52.6h1.6v1.6h-1.6zM307.5 37.4h1.6v1.6h-1.6zM272.8 42.4h1.6v1.6h-1.6zM295.3 35.5h1.6v1.6h-1.6zM304.1 68.0h1.6v1.6h-1.6zM270.2 49.9h1.6v1.6h-1.6zM294.0 41.9h1.6v1.6h-1.6zM270.2 63.0h1.6v1.6h-1.6zM294.2 38.5h1.6v1.6h-1.6zM297.5 53.8h1.6v1.6h-1.6zM302.2 52.9h1.6v1.6h-1.6zM297.0 28.9h1.6v1.6h-1.6zM284.8 46.8h1.6v1.6h-1.6zM285.5 30.6h1.6v1.6h-1.6zM264.4 48.4h1.6v1.6h-1.6zM291.5 37.0h1.6v1.6h-1.6zM284.9 32.9h1.6v1.6h-1.6zM280.0 43.7h1.6v1.6h-1.6zM281.6 54.3h1.6v1.6h-1.6zM288.9 46.8h1.6v1.6h-1.6zM296.9 62.3h1.6v1.6h-1.6zM299.8 48.1h1.6v1.6h-1.6zM288.6 34.0h1.6v1.6h-1.6zM286.0 54.3h1.6v1.6h-1.6zM294.3 39.7h1.6v1.6h-1.6zM271.5 24.1h1.6v1.6h-1.6zM295.7 59.0h1.6v1.6h-1.6zM296.5 26.3h1.6v1.6h-1.6zM287.9 48.0h1.6v1.6h-1.6zM277.6 49.7h1.6v1.6h-1.6zM288.1 33.6h1.6v1.6h-1.6zM272.8 56.1h1.6v1.6h-1.6zM296.2 32.9h1.6v1.6h-1.6zM276.2 57.1h1.6v1.6h-1.6zM299.7 40.8h1.6v1.6h-1.6zM314.3 41.0h1.6v1.6h-1.6zM275.6 59.9h1.6v1.6h-1.6zM288.2 49.7h1.6v1.6h-1.6zM291.6 31.3h1.6v1.6h-1.6zM273.7 42.4h1.6v1.6h-1.6zM311.5 31.3h1.6v1.6h-1.6zM310.8 48.0h1.6v1.6h-1.6zM274.8 48.6h1.6v1.6h-1.6zM299.3 32.7h1.6v1.6h-1.6zM274.8 51.0h1.6v1.6h-1.6zM263.1 43.1h1.6v1.6h-1.6zM279.2 24.8h1.6v1.6h-1.6zM287.5 47.3h1.6v1.6h-1.6zM282.9 28.9h1.6v1.6h-1.6zM294.1 21.2h1.6v1.6h-1.6zM298.8 51.7h1.6v1.6h-1.6zM315.5 57.0h1.6v1.6h-1.6zM296.2 48.6h1.6v1.6h-1.6zM291.4 27.0h1.6v1.6h-1.6zM312.3 52.2h1.6v1.6h-1.6zM286.8 29.4h1.6v1.6h-1.6zM312.6 52.2h1.6v1.6h-1.6zM273.7 54.1h1.6v1.6h-1.6zM318.6 44.7h1.6v1.6h-1.6zM296.8 39.3h1.6v1.6h-1.6zM281.8 59.6h1.6v1.6h-1.6zM289.2 55.8h1.6v1.6h-1.6zM286.6 54.9h1.6v1.6h-1.6zM303.1 31.2h1.6v1.6h-1.6zM275.4 44.0h1.6v1.6h-1.6zM303.1 48.8h1.6v1.6h-1.6zM309.1 26.3h1.6v1.6h-1.6zM298.2 36.5h1.6v1.6h-1.6zM292.5 49.4h1.6v1.6h-1.6zM276.9 41.9h1.6v1.6h-1.6zM274.1 48.6h1.6v1.6h-1.6zM278.6 38.3h1.6v1.6h-1.6zM294.2 36.1h1.6v1.6h-1.6zM307.7 36.3h1.6v1.6h-1.6zM303.4 48.8h1.6v1.6h-1.6zM275.9 42.0h1.6v1.6h-1.6zM278.8 40.1h1.6v1.6h-1.6zM287.1 69.7h1.6v1.6h-1.6zM284.9 66.3h1.6v1.6h-1.6zM297.5 27.3h1.6v1.6h-1.6zM257.4 54.2h1.6v1.6h-1.6zM262.1 54.7h1.6v1.6h-1.6zM306.0 50.3h1.6v1.6h-1.6zM288.0 41.6h1.6v1.6h-1.6zM294.8 40.9h1.6v1.6h-1.6zM283.2 40.0h1.6v1.6h-1.6zM308.0 36.6h1.6v1.6h-1.6zM296.5 29.4h1.6v1.6h-1.6zM280.6 26.4h1.6v1.6h-1.6zM288.1 54.3h1.6v1.6h-1.6zM295.4 38.3h1.6v1.6h-1.6zM299.9 40.3h1.6v1.6h-1.6zM296.4 48.7h1.6v1.6h-1.6zM272.1 55.5h1.6v1.6h-1.6zM287.6 37.5h1.6v1.6h-1.6zM312.7 52.5h1.6v1.6h-1.6zM318.6 51.9h1.6v1.6h-1.6zM288.0 54.8h1.6v1.6h-1.6zM279.6 39.0h1.6v1.6h-1.6zM282.9 42.0h1.6v1.6h-1.6zM302.3 38.5h1.6v1.6h-1.6zM295.7 38.3h1.6v1.6h-1.6zM288.0 47.3h1.6v1.6h-1.6zM275.4 58.7h1.6v1.6h-1.6zM294.1 62.3h1.6v1.6h-1.6zM304.9 53.7h1.6v1.6h-1.6zM288.8 30.3h1.6v1.6h-1.6zM287.8 38.8h1.6v1.6h-1.6zM294.6 38.7h1.6v1.6h-1.6zM335.3 23.4h1.6v1.6h-1.6zM308.0 38.6h1.6v1.6h-1.6zM287.5 57.5h1.6v1.6h-1.6zM291.0 28.6h1.6v1.6h-1.6zM297.0 42.4h1.6v1.6h-1.6zM275.7 34.9h1.6v1.6h-1.6zM298.0 49.1h1.6v1.6h-1.6zM297.1 36.7h1.6v1.6h-1.6zM294.4 43.4h1.6v1.6h-1.6zM270.9 72.9h1.6v1.6h-1.6zM288.3 41.3h1.6v1.6h-1.6zM282.8 58.3h1.6v1.6h-1.6zM291.4 68.1h1.6v1.6h-1.6zM302.4 67.2h1.6v1.6h-1.6zM289.3 50.1h1.6v1.6h-1.6zM284.7 42.7h1.6v1.6h-1.6zM266.0 37.1h1.6v1.6h-1.6zM277.2 36.2h1.6v1.6h-1.6zM308.6 48.5h1.6v1.6h-1.6zM308.7 56.6h1.6v1.6h-1.6zM304.3 58.6h1.6v1.6h-1.6zM282.2 55.8h1.6v1.6h-1.6zM286.3 37.8h1.6v1.6h-1.6zM308.3 74.2h1.6v1.6h-1.6zM276.9 68.4h1.6v1.6h-1.6zM303.0 33.6h1.6v1.6h-1.6zM295.0 50.0h1.6v1.6h-1.6zM296.4 40.2h1.6v1.6h-1.6zM272.4 45.4h1.6v1.6h-1.6zM303.5 55.6h1.6v1.6h-1.6zM300.6 59.9h1.6v1.6h-1.6zM276.7 44.4h1.6v1.6h-1.6zM295.9 58.5h1.6v1.6h-1.6zM293.3 52.0h1.6v1.6h-1.6zM292.9 73.3h1.6v1.6h-1.6zM326.8 48.2h1.6v1.6h-1.6zM264.5 46.8h1.6v1.6h-1.6zM270.3 35.8h1.6v1.6h-1.6zM294.2 68.1h1.6v1.6h-1.6zM297.7 54.0h1.6v1.6h-1.6zM305.7 47.7h1.6v1.6h-1.6zM278.6 43.7h1.6v1.6h-1.6zM295.9 41.3h1.6v1.6h-1.6zM281.4 40.2h1.6v1.6h-1.6zM269.3 31.2h1.6v1.6h-1.6zM289.7 40.1h1.6v1.6h-1.6zM291.5 63.9h1.6v1.6h-1.6zM295.3 44.6h1.6v1.6h-1.6zM274.1 30.5h1.6v1.6h-1.6zM296.4 33.2h1.6v1.6h-1.6zM297.2 30.5h1.6v1.6h-1.6zM292.9 44.0h1.6v1.6h-1.6zM305.4 39.7h1.6v1.6h-1.6zM285.6 48.3h1.6v1.6h-1.6zM291.8 67.8h1.6v1.6h-1.6zM287.3 37.8h1.6v1.6h-1.6zM286.4 51.4h1.6v1.6h-1.6zM294.4 54.3h1.6v1.6h-1.6zM271.0 78.4h1.6v1.6h-1.6zM317.6 44.6h1.6v1.6h-1.6zM273.5 47.1h1.6v1.6h-1.6zM291.2 25.1h1.6v1.6h-1.6zM297.6 63.6h1.6v1.6h-1.6zM305.9 24.7h1.6v1.6h-1.6zM310.9 57.2h1.6v1.6h-1.6zM285.8 51.8h1.6v1.6h-1.6zM312.9 40.5h1.6v1.6h-1.6zM290.8 37.5h1.6v1.6h-1.6zM311.5 32.0h1.6v1.6h-1.6zM304.4 23.1h1.6v1.6h-1.6zM277.5 36.9h1.6v1.6h-1.6zM303.0 23.2h1.6v1.6h-1.6zM299.7 36.4h1.6v1.6h-1.6zM308.9 40.8h1.6v1.6h-1.6zM298.0 42.7h1.6v1.6h-1.6zM316.9 40.1h1.6v1.6h-1.6zM290.6 71.7h1.6v1.6h-1.6zM292.1 54.2h1.6v1.6h-1.6zM280.4 47.7h1.6v1.6h-1.6zM258.3 46.4h1.6v1.6h-1.6zM281.7 24.8h1.6v1.6h-1.6zM270.6 60.4h1.6v1.6h-1.6zM297.2 24.6h1.6v1.6h-1.6zM317.2 35.6h1.6v1.6h-1.6zM285.7 48.3h1.6v1.6h-1.6zM274.6 23.2h1.6v1.6h-1.6zM280.2 60.9h1.6v1.6h-1.6zM304.7 23.7h1.6v1.6h-1.6zM308.4 45.5h1.6v1.6h-1.6zM298.2 45.7h1.6v1.6h-1.6zM297.0 31.5h1.6v1.6h-1.6zM277.9 35.5h1.6v1.6h-1.6zM285.7 53.3h1.6v1.6h-1.6zM273.4 66.5h1.6v1.6h-1.6zM281.9 37.1h1.6v1.6h-1.6zM301.2 50.8h1.6v1.6h-1.6zM286.1 30.6h1.6v1.6h-1.6zM276.6 23.5h1.6v1.6h-1.6zM307.5 59.6h1.6v1.6h-1.6zM318.0 51.7h1.6v1.6h-1.6zM295.8 55.2h1.6v1.6h-1.6zM304.7 41.5h1.6v1.6h-1.6zM296.1 74.0h1.6v1.6h-1.6zM266.5 26.1h1.6v1.6h-1.6zM277.1 55.2h1.6v1.6h-1.6zM308.1 40.4h1.6v1.6h-1.6zM300.7 44.3h1.6v1.6h-1.6zM295.3 37.7h1.6v1.6h-1.6zM290.6 44.9h1.6v1.6h-1.6zM264.8 52.2h1.6v1.6h-1.6zM290.9 58.0h1.6v1.6h-1.6zM306.3 55.5h1.6v1.6h-1.6zM302.7 32.2h1.6v1.6h-1.6zM308.5 32.2h1.6v1.6h-1.6zM309.6 54.0h1.6v1.6h-1.6zM255.6 57.1h1.6v1.6h-1.6zM276.7 60.7h1.6v1.6h-1.6zM281.2 35.0h1.6v1.6h-1.6zM268.7 42.1h1.6v1.6h-1.6zM305.7 35.9h1.6v1.6h-1.6zM317.7 54.3h1.6v1.6h-1.6zM283.2 28.7h1.6v1.6h-1.6zM267.3 52.5h1.6v1.6h-1.6zM309.8 30.7h1.6v1.6h-1.6zM291.0 41.3h1.6v1.6h-1.6zM287.3 51.8h1.6v1.6h-1.6zM303.3 59.7h1.6v1.6h-1.6zM286.9 43.0h1.6v1.6h-1.6zM271.6 59.6h1.6v1.6h-1.6zM283.3 36.2h1.6v1.6h-1.6zM292.0 33.4h1.6v1.6h-1.6zM275.9 41.0h1.6v1.6h-1.6zM312.5 42.2h1.6v1.6h-1.6zM298.6 25.2h1.6v1.6h-1.6zM285.2 24.2h1.6v1.6h-1.6zM289.5 53.2h1.6v1.6h-1.6zM266.0 33.1h1.6v1.6h-1.6zM294.8 32.6h1.6v1.6h-1.6zM302.5 58.0h1.6v1.6h-1.6zM297.4 39.2h1.6v1.6h-1.6zM290.3 36.5h1.6v1.6h-1.6zM289.1 49.3h1.6v1.6h-1.6zM286.7 58.1h1.6v1.6h-1.6zM296.0 56.1h1.6v1.6h-1.6zM300.3 41.8h1.6v1.6h-1.6zM284.1 58.6h1.6v1.6h-1.6zM300.0 51.8h1.6v1.6h-1.6zM279.4 53.5h1.6v1.6h-1.6zM302.5 42.5h1.6v1.6h-1.6zM300.4 74.4h1.6v1.6h-1.6zM263.8 53.2h1.6v1.6h-1.6zM274.0 26.6h1.6v1.6h-1.6zM287.6 52.4h1.6v1.6h-1.6zM291.8 29.2h1.6v1.6h-1.6zM270.2 37.5h1.6v1.6h-1.6zM291.2 33.8h1.6v1.6h-1.6zM269.2 68.7h1.6v1.6h-1.6zM278.8 42.9h1.6v1.6h-1.6zM283.0 37.1h1.6v1.6h-1.6zM291.6 41.0h1.6v1.6h-1.6zM300.0 29.0h1.6v1.6h-1.6zM289.9 55.4h1.6v1.6h-1.6zM308.1 52.5h1.6v1.6h-1.6zM291.5 23.9h1.6v1.6h-1.6zM267.8 58.3h1.6v1.6h-1.6zM300.8 52.7h1.6v1.6h-1.6zM275.7 29.0h1.6v1.6h-1.6zM293.3 31.1h1.6v1.6h-1.6zM314.0 36.6h1.6v1.6h-1.6zM282.8 56.7h1.6v1.6h-1.6zM295.8 32.8h1.6v1.6h-1.6zM273.2 41.6h1.6v1.6h-1.6zM300.1 54.5h1.6v1.6h-1.6zM305.2 50.8h1.6v1.6h-1.6zM261.7 44.6h1.6v1.6h-1.6zM281.3 29.0h1.6v1.6h-1.6zM274.9 55.4h1.6v1.6h-1.6zM286.7 71.7h1.6v1.6h-1.6zM304.0 62.0h1.6v1.6h-1.6zM291.5 28.5h1.6v1.6h-1.6zM316.8 27.1h1.6v1.6h-1.6zM272.7 21.9h1.6v1.6h-1.6zM306.9 61.0h1.6v1.6h-1.6zM285.1 26.5h1.6v1.6h-1.6zM290.1 50.2h1.6v1.6h-1.6zM268.7 29.2h1.6v1.6h-1.6zM289.5 54.6h1.6v1.6h-1.6zM292.1 51.1h1.6v1.6h-1.6zM295.6 32.5h1.6v1.6h-1.6zM289.2 39.9h1.6v1.6h-1.6zM298.0 34.5h1.6v1.6h-1.6zM312.1 45.4h1.6v1.6h-1.6zM298.7 53.6h1.6v1.6h-1.6zM306.2 50.5h1.6v1.6h-1.6zM265.4 36.4h1.6v1.6h-1.6zM318.3 51.5h1.6v1.6h-1.6zM299.2 51.4h1.6v1.6h-1.6zM281.6 35.7h1.6v1.6h-1.6zM281.5 60.8h1.6v1.6h-1.6zM296.3 69.4h1.6v1.6h-1.6zM298.3 70.9h1.6v1.6h-1.6zM297.7 28.8h1.6v1.6h-1.6zM316.6 49.6h1.6v1.6h-1.6zM308.5 47.9h1.6v1.6h-1.6zM286.2 47.3h1.6v1.6h-1.6zM274.5 28.6h1.6v1.6h-1.6zM277.9 37.8h1.6v1.6h-1.6zM271.1 43.6h1.6v1.6h-1.6zM295.5 72.8h1.6v1.6h-1.6zM318.1 44.3h1.6v1.6h-1.6zM304.0 42.0h1.6v1.6h-1.6zM296.8 44.5h1.6v1.6h-1.6zM283.0 46.0h1.6v1.6h-1.6zM269.2 51.0h1.6v1.6h-1.6zM286.7 30.1h1.6v1.6h-1.6zM285.7 52.6h1.6v1.6h-1.6zM281.0 51.5h1.6v1.6h-1.6zM299.4 66.5h1.6v1.6h-1.6zM275.0 43.5h1.6v1.6h-1.6zM298.6 65.7h1.6v1.6h-1.6zM294.9 55.4h1.6v1.6h-1.6zM269.3 37.0h1.6v1.6h-1.6zM315.5 41.1h1.6v1.6h-1.6zM286.9 23.0h1.6v1.6h-1.6zM300.4 48.6h1.6v1.6h-1.6zM287.3 25.6h1.6v1.6h-1.6zM289.8 58.1h1.6v1.6h-1.6zM302.0 62.0h1.6v1.6h-1.6zM303.8 44.4h1.6v1.6h-1.6zM300.0 47.4h1.6v1.6h-1.6zM271.3 68.7h1.6v1.6h-1.6zM296.5 30.5h1.6v1.6h-1.6zM296.7 49.0h1.6v1.6h-1.6zM305.8 65.0h1.6v1.6h-1.6zM313.7 31.9h1.6v1.6h-1.6zM263.4 48.9h1.6v1.6h-1.6zM296.0 49.9h1.6v1.6h-1.6zM274.5 38.5h1.6v1.6h-1.6zM293.9 55.3h1.6v1.6h-1.6zM307.0 43.2h1.6v1.6h-1.6zM289.4 31.3h1.6v1.6h-1.6zM301.9 20.1h1.6v1.6h-1.6zM292.6 46.7h1.6v1.6h-1.6zM295.5 63.1h1.6v1.6h-1.6zM289.5 46.3h1.6v1.6h-1.6zM303.7 23.5h1.6v1.6h-1.6zM286.7 45.9h1.6v1.6h-1.6zM305.2 33.9h1.6v1.6h-1.6zM303.0 50.3h1.6v1.6h-1.6zM268.9 24.5h1.6v1.6h-1.6zM269.7 46.9h1.6v1.6h-1.6zM294.1 55.1h1.6v1.6h-1.6zM303.2 37.3h1.6v1.6h-1.6zM306.9 56.4h1.6v1.6h-1.6zM298.0 51.7h1.6v1.6h-1.6zM271.8 50.0h1.6v1.6h-1.6zM275.6 28.4h1.6v1.6h-1.6zM285.8 46.9h1.6v1.6h-1.6zM290.2 40.4h1.6v1.6h-1.6zM276.1 47.6h1.6v1.6h-1.6zM280.0 25.4h1.6v1.6h-1.6zM292.4 65.2h1.6v1.6h-1.6zM285.0 30.2h1.6v1.6h-1.6zM311.7 68.8h1.6v1.6h-1.6zM286.6 42.1h1.6v1.6h-1.6zM294.2 86.1h1.6v1.6h-1.6zM293.0 58.8h1.6v1.6h-1.6zM274.6 27.8h1.6v1.6h-1.6zM297.5 46.5h1.6v1.6h-1.6zM317.7 41.2h1.6v1.6h-1.6zM295.6 46.0h1.6v1.6h-1.6zM295.3 65.5h1.6v1.6h-1.6zM310.4 36.5h1.6v1.6h-1.6zM301.2 39.7h1.6v1.6h-1.6zM292.6 47.2h1.6v1.6h-1.6zM291.3 38.5h1.6v1.6h-1.6zM314.3 41.3h1.6v1.6h-1.6zM301.5 68.4h1.6v1.6h-1.6zM300.4 59.3h1.6v1.6h-1.6zM311.8 60.2h1.6v1.6h-1.6zM316.7 25.1h1.6v1.6h-1.6zM320.3 45.4h1.6v1.6h-1.6zM264.9 36.1h1.6v1.6h-1.6zM270.1 44.7h1.6v1.6h-1.6zM268.7 30.9h1.6v1.6h-1.6zM295.4 47.2h1.6v1.6h-1.6zM279.1 41.7h1.6v1.6h-1.6zM289.5 46.0h1.6v1.6h-1.6zM303.2 23.1h1.6v1.6h-1.6zM307.8 60.1h1.6v1.6h-1.6zM287.7 27.7h1.6v1.6h-1.6zM298.1 31.7h1.6v1.6h-1.6zM286.2 27.2h1.6v1.6h-1.6zM315.7 47.7h1.6v1.6h-1.6zM282.0 26.4h1.6v1.6h-1.6zM302.4 61.9h1.6v1.6h-1.6zM308.8 26.8h1.6v1.6h-1.6zM282.8 36.2h1.6v1.6h-1.6zM304.2 28.9h1.6v1.6h-1.6zM295.7 68.0h1.6v1.6h-1.6zM304.5 22.3h1.6v1.6h-1.6zM267.0 27.3h1.6v1.6h-1.6zM300.4 50.1h1.6v1.6h-1.6zM291.1 43.4h1.6v1.6h-1.6zM285.0 50.7h1.6v1.6h-1.6zM298.0 65.1h1.6v1.6h-1.6zM302.6 59.4h1.6v1.6h-1.6zM312.3 61.3h1.6v1.6h-1.6zM301.7 23.4h1.6v1.6h-1.6zM299.8 61.9h1.6v1.6h-1.6zM286.3 63.3h1.6v1.6h-1.6zM272.7 66.3h1.6v1.6h-1.6zM286.9 55.2h1.6v1.6h-1.6zM276.6 36.1h1.6v1.6h-1.6zM281.8 37.2h1.6v1.6h-1.6zM268.1 42.8h1.6v1.6h-1.6zM316.0 52.7h1.6v1.6h-1.6zM313.3 57.8h1.6v1.6h-1.6zM308.2 68.7h1.6v1.6h-1.6zM303.6 34.9h1.6v1.6h-1.6zM276.5 41.4h1.6v1.6h-1.6zM264.1 32.8h1.6v1.6h-1.6zM310.9 65.3h1.6v1.6h-1.6zM280.8 58.2h1.6v1.6h-1.6zM304.8 63.8h1.6v1.6h-1.6zM305.9 47.0h1.6v1.6h-1.6zM268.7 60.8h1.6v1.6h-1.6zM279.9 51.5h1.6v1.6h-1.6zM282.8 47.3h1.6v1.6h-1.6zM315.1 29.6h1.6v1.6h-1.6zM291.7 52.5h1.6v1.6h-1.6zM292.1 66.1h1.6v1.6h-1.6zM285.0 64.9h1.6v1.6h-1.6zM300.2 67.5h1.6v1.6h-1.6zM267.8 32.0h1.6v1.6h-1.6zM278.5 64.6h1.6v1.6h-1.6zM263.7 34.2h1.6v1.6h-1.6zM301.7 68.5h1.6v1.6h-1.6zM272.5 42.6h1.6v1.6h-1.6zM300.1 54.5h1.6v1.6h-1.6zM303.3 57.4h1.6v1.6h-1.6zM276.4 34.1h1.6v1.6h-1.6zM264.5 54.5h1.6v1.6h-1.6zM274.3 34.2h1.6v1.6h-1.6zM315.1 52.2h1.6v1.6h-1.6zM294.9 52.8h1.6v1.6h-1.6zM295.3 54.7h1.6v1.6h-1.6zM279.4 25.0h1.6v1.6h-1.6zM266.6 22.7h1.6v1.6h-1.6zM282.5 28.7h1.6v1.6h-1.6zM269.1 45.2h1.6v1.6h-1.6zM315.4 54.3h1.6v1.6h-1.6zM277.8 58.2h1.6v1.6h-1.6zM272.6 26.7h1.6v1.6h-1.6zM279.4 41.2h1.6v1.6h-1.6zM300.2 42.9h1.6v1.6h-1.6zM302.3 26.5h1.6v1.6h-1.6zM313.3 38.1h1.6v1.6h-1.6zM307.9 23.4h1.6v1.6h-1.6zM307.8 32.6h1.6v1.6h-1.6zM309.2 59.7h1.6v1.6h-1.6zM299.2 35.0h1.6v1.6h-1.6zM263.5 30.9h1.6v1.6h-1.6zM311.9 29.4h1.6v1.6h-1.6zM298.6 49.6h1.6v1.6h-1.6zM298.7 30.5h1.6v1.6h-1.6zM270.8 26.6h1.6v1.6h-1.6zM316.1 40.0h1.6v1.6h-1.6zM298.2 48.8h1.6v1.6h-1.6zM275.1 25.0h1.6v1.6h-1.6zM263.8 62.1h1.6v1.6h-1.6zM270.0 67.3h1.6v1.6h-1.6zM282.6 56.0h1.6v1.6h-1.6zM270.5 59.0h1.6v1.6h-1.6zM276.6 39.2h1.6v1.6h-1.6zM291.2 27.2h1.6v1.6h-1.6zM276.4 59.4h1.6v1.6h-1.6zM278.4 39.9h1.6v1.6h-1.6zM304.3 32.5h1.6v1.6h-1.6zM273.5 32.3h1.6v1.6h-1.6zM283.7 39.2h1.6v1.6h-1.6zM297.6 44.2h1.6v1.6h-1.6zM310.0 24.4h1.6v1.6h-1.6zM298.8 61.3h1.6v1.6h-1.6zM275.7 23.4h1.6v1.6h-1.6zM286.7 27.4h1.6v1.6h-1.6zM287.8 55.4h1.6v1.6h-1.6zM268.1 27.5h1.6v1.6h-1.6zM288.9 30.2h1.6v1.6h-1.6zM275.5 42.7h1.6v1.6h-1.6zM269.4 25.2h1.6v1.6h-1.6zM282.5 44.1h1.6v1.6h-1.6zM313.6 48.1h1.6v1.6h-1.6zM266.9 32.5h1.6v1.6h-1.6zM303.2 48.5h1.6v1.6h-1.6zM310.0 67.2h1.6v1.6h-1.6zM309.3 27.2h1.6v1.6h-1.6zM314.0 46.7h1.6v1.6h-1.6zM275.9 30.0h1.6v1.6h-1.6zM309.7 32.0h1.6v1.6h-1.6zM267.5 34.5h1.6v1.6h-1.6zM312.9 43.7h1.6v1.6h-1.6zM302.5 25.5h1.6v1.6h-1.6zM287.5 36.9h1.6v1.6h-1.6zM274.1 53.2h1.6v1.6h-1.6zM282.5 27.6h1.6v1.6h-1.6zM316.1 44.6h1.6v1.6h-1.6zM272.7 22.5h1.6v1.6h-1.6zM298.3 46.2h1.6v1.6h-1.6zM264.3 44.1h1.6v1.6h-1.6zM303.0 47.2h1.6v1.6h-1.6zM275.6 45.5h1.6v1.6h-1.6zM295.7 52.6h1.6v1.6h-1.6zM270.8 59.8h1.6v1.6h-1.6zM314.1 56.8h1.6v1.6h-1.6zM309.3 39.3h1.6v1.6h-1.6zM311.7 30.5h1.6v1.6h-1.6zM275.3 50.1h1.6v1.6h-1.6zM311.7 25.9h1.6v1.6h-1.6zM274.7 23.7h1.6v1.6h-1.6zM286.7 28.6h1.6v1.6h-1.6zM273.3 57.2h1.6v1.6h-1.6zM294.5 66.2h1.6v1.6h-1.6zM284.7 53.9h1.6v1.6h-1.6zM263.7 66.6h1.6v1.6h-1.6zM275.6 44.4h1.6v1.6h-1.6zM290.6 66.6h1.6v1.6h-1.6zM289.6 68.6h1.6v1.6h-1.6zM296.5 32.2h1.6v1.6h-1.6zM308.0 31.5h1.6v1.6h-1.6zM317.0 43.5h1.6v1.6h-1.6zM275.2 67.2h1.6v1.6h-1.6zM280.4 41.1h1.6v1.6h-1.6zM281.5 53.4h1.6v1.6h-1.6zM264.2 39.6h1.6v1.6h-1.6zM271.8 60.9h1.6v1.6h-1.6zM263.0 50.6h1.6v1.6h-1.6zM276.9 43.3h1.6v1.6h-1.6zM293.3 55.5h1.6v1.6h-1.6zM270.4 33.3h1.6v1.6h-1.6zM269.5 67.1h1.6v1.6h-1.6zM271.1 28.4h1.6v1.6h-1.6zM291.2 49.3h1.6v1.6h-1.6zM310.9 24.7h1.6v1.6h-1.6zM275.7 29.9h1.6v1.6h-1.6zM294.6 43.3h1.6v1.6h-1.6zM285.1 63.8h1.6v1.6h-1.6zM298.7 62.4h1.6v1.6h-1.6zM314.7 34.6h1.6v1.6h-1.6zM313.9 41.2h1.6v1.6h-1.6zM265.8 65.0h1.6v1.6h-1.6zM268.6 22.8h1.6v1.6h-1.6zM278.6 35.6h1.6v1.6h-1.6zM315.2 62.9h1.6v1.6h-1.6zM285.7 46.9h1.6v1.6h-1.6zM308.8 59.9h1.6v1.6h-1.6zM298.3 46.1h1.6v1.6h-1.6zM269.3 33.5h1.6v1.6h-1.6zM298.5 49.6h1.6v1.6h-1.6zM306.3 64.2h1.6v1.6h-1.6zM315.0 31.1h1.6v1.6h-1.6zM267.1 64.2h1.6v1.6h-1.6zM293.8 30.5h1.6v1.6h-1.6zM300.4 34.0h1.6v1.6h-1.6zM275.8 39.2h1.6v1.6h-1.6zM291.3 53.8h1.6v1.6h-1.6zM267.0 56.8h1.6v1.6h-1.6zM296.7 44.2h1.6v1.6h-1.6zM299.3 59.6h1.6v1.6h-1.6zM263.5 44.3h1.6v1.6h-1.6zM299.6 55.3h1.6v1.6h-1.6zM298.0 30.5h1.6v1.6h-1.6zM314.8 58.9h1.6v1.6h-1.6zM275.6 42.2h1.6v1.6h-1.6zM314.7 31.7h1.6v1.6h-1.6zM285.1 67.2h1.6v1.6h-1.6zM311.6 32.9h1.6v1.6h-1.6zM302.7 38.9h1.6v1.6h-1.6zM298.8 58.0h1.6v1.6h-1.6zM269.9 32.5h1.6v1.6h-1.6zM274.6 34.5h1.6v1.6h-1.6zM264.9 28.4h1.6v1.6h-1.6zM284.9 41.8h1.6v1.6h-1.6zM267.2 49.4h1.6v1.6h-1.6zM313.9 49.1h1.6v1.6h-1.6zM282.2 55.1h1.6v1.6h-1.6zM286.6 30.2h1.6v1.6h-1.6zM289.0 22.8h1.6v1.6h-1.6zM299.5 29.6h1.6v1.6h-1.6zM283.0 67.2h1.6v1.6h-1.6zM304.4 61.3h1.6v1.6h-1.6zM297.7 51.8h1.6v1.6h-1.6zM301.1 67.4h1.6v1.6h-1.6zM273.6 58.0h1.6v1.6h-1.6zM279.2 34.0h1.6v1.6h-1.6zM307.4 50.3h1.6v1.6h-1.6zM308.9 63.1h1.6v1.6h-1.6zM294.8 31.3h1.6v1.6h-1.6zM263.8 47.1h1.6v1.6h-1.6zM302.2 34.8h1.6v1.6h-1.6zM266.8 22.2h1.6v1.6h-1.6zM272.4 54.7h1.6v1.6h-1.6zM263.2 32.8h1.6v1.6h-1.6zM277.3 55.4h1.6v1.6h-1.6zM316.3 22.9h1.6v1.6h-1.6zM269.2 65.9h1.6v1.6h-1.6zM315.4 29.0h1.6v1.6h-1.6zM281.1 46.5h1.6v1.6h-1.6zM280.3 41.6h1.6v1.6h-1.6zM288.9 34.2h1.6v1.6h-1.6zM266.0 25.9h1.6v1.6h-1.6zM271.8 26.3h1.6v1.6h-1.6zM296.7 54.7h1.6v1.6h-1.6zM277.2 59.2h1.6v1.6h-1.6zM302.4 38.1h1.6v1.6h-1.6zM289.6 30.9h1.6v1.6h-1.6zM313.2 48.3h1.6v1.6h-1.6zM265.8 29.2h1.6v1.6h-1.6zM300.4 40.1h1.6v1.6h-1.6zM301.7 32.8h1.6v1.6h-1.6zM306.0 59.7h1.6v1.6h-1.6zM268.1 49.6h1.6v1.6h-1.6zM273.3 55.3h1.6v1.6h-1.6zM306.4 59.2h1.6v1.6h-1.6zM275.5 26.4h1.6v1.6h-1.6zM298.8 48.6h1.6v1.6h-1.6zM270.5 31.1h1.6v1.6h-1.6zM294.5 27.1h1.6v1.6h-1.6zM297.2 33.3h1.6v1.6h-1.6zM277.0 41.9h1.6v1.6h-1.6zM291.8 56.0h1.6v1.6h-1.6zM264.7 56.0h1.6v1.6h-1.6zM274.9 35.7h1.6v1.6h-1.6zM297.5 54.5h1.6v1.6h-1.6zM296.2 64.4h1.6v1.6h-1.6zM274.1 36.6h1.6v1.6h-1.6zM298.8 34.3h1.6v1.6h-1.6zM271.5 32.6h1.6v1.6h-1.6zM304.7 60.9h1.6v1.6h-1.6zM301.7 67.1h1.6v1.6h-1.6zM305.9 36.6h1.6v1.6h-1.6zM280.0 55.9h1.6v1.6h-1.6zM266.0 50.6h1.6v1.6h-1.6zM267.8 24.3h1.6v1.6h-1.6zM290.7 29.1h1.6v1.6h-1.6zM313.3 63.2h1.6v1.6h-1.6zM287.9 31.3h1.6v1.6h-1.6zM269.5 45.8h1.6v1.6h-1.6zM291.1 39.1h1.6v1.6h-1.6zM301.7 46.9h1.6v1.6h-1.6zM304.9 27.0h1.6v1.6h-1.6zM266.8 40.2h1.6v1.6h-1.6zM289.1 33.9h1.6v1.6h-1.6zM299.1 32.4h1.6v1.6h-1.6zM280.2 44.4h1.6v1.6h-1.6zM301.5 58.2h1.6v1.6h-1.6zM283.1 43.0h1.6v1.6h-1.6zM313.1 65.9h1.6v1.6h-1.6zM296.4 26.9h1.6v1.6h-1.6zM287.6 51.9h1.6v1.6h-1.6zM278.0 23.8h1.6v1.6h-1.6zM316.0 64.8h1.6v1.6h-1.6zM270.0 43.9h1.6v1.6h-1.6zM296.4 36.1h1.6v1.6h-1.6zM266.7 57.3h1.6v1.6h-1.6zM304.6 42.6h1.6v1.6h-1.6zM267.6 40.5h1.6v1.6h-1.6zM268.1 67.3h1.6v1.6h-1.6zM265.8 35.5h1.6v1.6h-1.6zM304.5 28.3h1.6v1.6h-1.6zM268.8 25.3h1.6v1.6h-1.6zM271.9 47.0h1.6v1.6h-1.6zM308.0 29.9h1.6v1.6h-1.6zM272.4 58.0h1.6v1.6h-1.6zM286.0 37.9h1.6v1.6h-1.6zM269.7 33.4h1.6v1.6h-1.6zM315.5 27.5h1.6v1.6h-1.6zM277.0 56.8h1.6v1.6h-1.6zM311.2 64.5h1.6v1.6h-1.6zM288.5 67.0h1.6v1.6h-1.6zM295.6 35.6h1.6v1.6h-1.6zM288.1 55.7h1.6v1.6h-1.6zM302.6 28.1h1.6v1.6h-1.6zM273.5 67.0h1.6v1.6h-1.6zM268.8 60.2h1.6v1.6h-1.6zM281.3 33.7h1.6v1.6h-1.6zM276.8 44.1h1.6v1.6h-1.6zM316.5 29.0h1.6v1.6h-1.6zM304.9 36.1h1.6v1.6h-1.6zM310.5 79.2h1.6v1.6h-1.6zM283.6 60.8h1.6v1.6h-1.6zM312.5 30.2h1.6v1.6h-1.6zM312.4 44.7h1.6v1.6h-1.6zM289.7 69.0h1.6v1.6h-1.6zM276.2 63.2h1.6v1.6h-1.6zM283.6 56.7h1.6v1.6h-1.6zM299.5 93.4h1.6v1.6h-1.6zM263.1 65.1h1.6v1.6h-1.6zM299.1 35.9h1.6v1.6h-1.6zM278.9 33.7h1.6v1.6h-1.6zM298.9 40.9h1.6v1.6h-1.6zM270.9 45.6h1.6v1.6h-1.6zM301.5 33.4h1.6v1.6h-1.6zM301.5 42.4h1.6v1.6h-1.6zM328.7 37.5h1.6v1.6h-1.6zM276.5 23.9h1.6v1.6h-1.6zM338.3 62.0h1.6v1.6h-1.6zM266.7 43.5h1.6v1.6h-1.6zM296.9 67.8h1.6v1.6h-1.6zM292.0 59.2h1.6v1.6h-1.6zM289.4 54.1h1.6v1.6h-1.6zM297.0 36.3h1.6v1.6h-1.6zM300.1 53.2h1.6v1.6h-1.6zM291.1 36.7h1.6v1.6h-1.6zM268.4 54.8h1.6v1.6h-1.6zM313.4 36.1h1.6v1.6h-1.6zM281.8 45.8h1.6v1.6h-1.6zM253.5 30.4h1.6v1.6h-1.6zM264.6 47.3h1.6v1.6h-1.6zM283.7 38.2h1.6v1.6h-1.6zM277.2 64.5h1.6v1.6h-1.6zM323.3 55.8h1.6v1.6h-1.6zM257.2 63.1h1.6v1.6h-1.6zM282.5 53.8h1.6v1.6h-1.6zM248.0 44.5h1.6v1.6h-1.6zM297.5 31.8h1.6v1.6h-1.6zM297.4 36.7h1.6v1.6h-1.6zM270.5 57.9h1.6v1.6h-1.6zM298.1 66.2h1.6v1.6h-1.6zM273.4 78.5h1.6v1.6h-1.6zM256.3 49.9h1.6v1.6h-1.6zM296.3 37.8h1.6v1.6h-1.6zM317.7 36.5h1.6v1.6h-1.6zM293.4 54.2h1.6v1.6h-1.6zM279.6 45.9h1.6v1.6h-1.6zM262.6 23.5h1.6v1.6h-1.6zM263.1 62.5h1.6v1.6h-1.6zM290.9 66.0h1.6v1.6h-1.6zM266.7 61.5h1.6v1.6h-1.6zM281.6 51.7h1.6v1.6h-1.6zM313.9 50.6h1.6v1.6h-1.6zM293.5 65.3h1.6v1.6h-1.6zM277.2 48.7h1.6v1.6h-1.6zM250.5 23.9h1.6v1.6h-1.6zM285.5 87.8h1.6v1.6h-1.6zM299.0 47.0h1.6v1.6h-1.6zM316.4 42.6h1.6v1.6h-1.6zM299.8 53.9h1.6v1.6h-1.6zM302.5 21.2h1.6v1.6h-1.6zM308.7 67.3h1.6v1.6h-1.6zM270.9 79.3h1.6v1.6h-1.6zM292.5 63.3h1.6v1.6h-1.6zM305.1 67.4h1.6v1.6h-1.6zM277.0 38.5h1.6v1.6h-1.6zM300.9 61.9h1.6v1.6h-1.6zM305.5 56.7h1.6v1.6h-1.6zM303.1 70.9h1.6v1.6h-1.6zM276.3 52.4h1.6v1.6h-1.6zM280.8 43.9h1.6v1.6h-1.6zM296.6 56.8h1.6v1.6h-1.6zM273.6 60.7h1.6v1.6h-1.6zM272.1 58.4h1.6v1.6h-1.6zM283.3 31.4h1.6v1.6h-1.6zM319.6 82.7h1.6v1.6h-1.6zM289.6 49.0h1.6v1.6h-1.6zM314.7 23.8h1.6v1.6h-1.6zM313.3 40.3h1.6v1.6h-1.6zM273.6 56.9h1.6v1.6h-1.6zM306.0 65.1h1.6v1.6h-1.6zM317.3 21.6h1.6v1.6h-1.6zM268.8 43.8h1.6v1.6h-1.6zM296.9 59.0h1.6v1.6h-1.6zM312.9 53.0h1.6v1.6h-1.6zM264.1 53.0h1.6v1.6h-1.6zM274.6 70.0h1.6v1.6h-1.6zM270.6 52.6h1.6v1.6h-1.6zM267.0 67.9h1.6v1.6h-1.6zM296.2 34.9h1.6v1.6h-1.6zM275.7 64.4h1.6v1.6h-1.6zM257.5 83.5h1.6v1.6h-1.6zM273.3 46.1h1.6v1.6h-1.6zM307.6 51.8h1.6v1.6h-1.6zM332.4 63.2h1.6v1.6h-1.6zM302.4 61.5h1.6v1.6h-1.6zM309.6 55.5h1.6v1.6h-1.6zM277.6 55.3h1.6v1.6h-1.6zM296.0 62.5h1.6v1.6h-1.6zM289.6 86.7h1.6v1.6h-1.6zM275.6 63.9h1.6v1.6h-1.6zM294.1 85.8h1.6v1.6h-1.6zM292.0 68.7h1.6v1.6h-1.6zM296.1 98.3h1.6v1.6h-1.6zM285.8 56.9h1.6v1.6h-1.6zM284.2 87.1h1.6v1.6h-1.6zM322.4 82.7h1.6v1.6h-1.6zM292.5 77.3h1.6v1.6h-1.6zM302.5 90.4h1.6v1.6h-1.6zM295.7 89.8h1.6v1.6h-1.6zM281.2 93.6h1.6v1.6h-1.6zM287.1 89.3h1.6v1.6h-1.6zM299.9 65.0h1.6v1.6h-1.6zM306.7 85.1h1.6v1.6h-1.6zM307.7 78.3h1.6v1.6h-1.6zM277.2 70.8h1.6v1.6h-1.6zM291.5 89.2h1.6v1.6h-1.6zM293.2 75.6h1.6v1.6h-1.6zM293.8 68.1h1.6v1.6h-1.6zM293.0 76.4h1.6v1.6h-1.6zM290.0 76.1h1.6v1.6h-1.6zM281.7 88.7h1.6v1.6h-1.6zM301.0 67.7h1.6v1.6h-1.6zM288.5 84.3h1.6v1.6h-1.6zM292.2 80.5h1.6v1.6h-1.6zM293.6 78.2h1.6v1.6h-1.6zM288.6 75.1h1.6v1.6h-1.6zM295.1 82.5h1.6v1.6h-1.6zM282.8 85.2h1.6v1.6h-1.6zM292.8 66.3h1.6v1.6h-1.6zM299.9 69.2h1.6v1.6h-1.6zM298.1 99.1h1.6v1.6h-1.6zM285.0 79.0h1.6v1.6h-1.6zM282.5 84.8h1.6v1.6h-1.6zM279.7 75.7h1.6v1.6h-1.6zM289.0 79.9h1.6v1.6h-1.6zM286.0 80.1h1.6v1.6h-1.6zM298.7 86.2h1.6v1.6h-1.6zM297.2 91.0h1.6v1.6h-1.6zM286.7 72.6h1.6v1.6h-1.6zM303.5 73.0h1.6v1.6h-1.6zM283.5 94.2h1.6v1.6h-1.6zM294.1 84.8h1.6v1.6h-1.6zM302.0 71.2h1.6v1.6h-1.6zM288.3 60.0h1.6v1.6h-1.6zM306.5 85.2h1.6v1.6h-1.6zM280.6 71.1h1.6v1.6h-1.6zM297.4 103.6h1.6v1.6h-1.6zM287.6 106.0h1.6v1.6h-1.6zM302.2 83.0h1.6v1.6h-1.6zM309.2 59.0h1.6v1.6h-1.6zM293.4 70.1h1.6v1.6h-1.6zM283.8 76.2h1.6v1.6h-1.6zM282.4 89.7h1.6v1.6h-1.6zM300.4 92.1h1.6v1.6h-1.6zM294.8 76.4h1.6v1.6h-1.6zM287.6 64.7h1.6v1.6h-1.6zM293.9 88.0h1.6v1.6h-1.6zM297.1 86.2h1.6v1.6h-1.6zM298.0 97.7h1.6v1.6h-1.6zM302.2 90.1h1.6v1.6h-1.6zM294.9 66.6h1.6v1.6h-1.6zM293.7 83.6h1.6v1.6h-1.6zM287.0 50.3h1.6v1.6h-1.6zM288.3 90.8h1.6v1.6h-1.6zM287.9 86.0h1.6v1.6h-1.6zM302.2 91.4h1.6v1.6h-1.6zM287.1 83.6h1.6v1.6h-1.6zM289.7 72.1h1.6v1.6h-1.6zM288.3 83.9h1.6v1.6h-1.6zM289.9 67.7h1.6v1.6h-1.6zM273.7 66.7h1.6v1.6h-1.6zM305.8 90.9h1.6v1.6h-1.6zM281.9 73.4h1.6v1.6h-1.6zM283.0 96.5h1.6v1.6h-1.6zM292.2 84.2h1.6v1.6h-1.6zM303.1 73.6h1.6v1.6h-1.6zM292.9 78.6h1.6v1.6h-1.6zM281.6 93.6h1.6v1.6h-1.6zM295.6 84.5h1.6v1.6h-1.6zM302.5 74.3h1.6v1.6h-1.6zM294.7 97.0h1.6v1.6h-1.6zM284.1 92.1h1.6v1.6h-1.6zM289.3 96.4h1.6v1.6h-1.6zM297.3 67.4h1.6v1.6h-1.6zM284.5 82.0h1.6v1.6h-1.6zM291.7 63.9h1.6v1.6h-1.6zM302.0 90.5h1.6v1.6h-1.6zM291.1 82.6h1.6v1.6h-1.6zM319.6 96.0h1.6v1.6h-1.6zM285.5 68.0h1.6v1.6h-1.6zM306.4 90.5h1.6v1.6h-1.6zM299.5 105.7h1.6v1.6h-1.6zM289.6 101.0h1.6v1.6h-1.6zM301.0 116.1h1.6v1.6h-1.6zM306.3 107.5h1.6v1.6h-1.6zM316.8 101.8h1.6v1.6h-1.6zM311.5 126.2h1.6v1.6h-1.6zM311.6 94.5h1.6v1.6h-1.6zM287.3 90.6h1.6v1.6h-1.6zM301.3 103.4h1.6v1.6h-1.6zM293.8 117.9h1.6v1.6h-1.6zM289.6 90.0h1.6v1.6h-1.6zM297.5 113.5h1.6v1.6h-1.6zM283.3 122.9h1.6v1.6h-1.6zM303.8 118.6h1.6v1.6h-1.6zM310.3 75.5h1.6v1.6h-1.6zM300.1 124.0h1.6v1.6h-1.6zM305.0 93.7h1.6v1.6h-1.6zM303.2 100.9h1.6v1.6h-1.6zM291.4 99.4h1.6v1.6h-1.6zM286.7 98.9h1.6v1.6h-1.6zM310.2 127.8h1.6v1.6h-1.6zM289.5 88.1h1.6v1.6h-1.6zM318.4 113.5h1.6v1.6h-1.6zM296.2 104.8h1.6v1.6h-1.6zM305.7 124.6h1.6v1.6h-1.6zM277.5 107.0h1.6v1.6h-1.6zM286.9 116.1h1.6v1.6h-1.6zM323.6 94.8h1.6v1.6h-1.6zM298.3 94.0h1.6v1.6h-1.6zM296.5 94.4h1.6v1.6h-1.6zM290.9 99.3h1.6v1.6h-1.6zM295.9 97.7h1.6v1.6h-1.6zM281.6 90.5h1.6v1.6h-1.6zM293.0 111.5h1.6v1.6h-1.6zM328.6 95.1h1.6v1.6h-1.6zM299.2 94.6h1.6v1.6h-1.6zM301.5 89.1h1.6v1.6h-1.6zM278.5 109.7h1.6v1.6h-1.6zM313.2 92.4h1.6v1.6h-1.6zM318.0 99.0h1.6v1.6h-1.6zM325.9 88.6h1.6v1.6h-1.6zM298.1 85.2h1.6v1.6h-1.6zM315.9 96.2h1.6v1.6h-1.6zM297.0 107.5h1.6v1.6h-1.6zM308.9 64.5h1.6v1.6h-1.6zM350.6 71.7h1.6v1.6h-1.6zM294.1 120.0h1.6v1.6h-1.6zM303.6 64.3h1.6v1.6h-1.6zM289.3 74.5h1.6v1.6h-1.6zM314.2 76.2h1.6v1.6h-1.6zM327.8 65.3h1.6v1.6h-1.6zM354.9 53.0h1.6v1.6h-1.6zM302.4 45.3h1.6v1.6h-1.6zM286.8 98.9h1.6v1.6h-1.6zM340.7 80.5h1.6v1.6h-1.6zM308.7 84.2h1.6v1.6h-1.6zM338.5 113.7h1.6v1.6h-1.6zM295.8 78.9h1.6v1.6h-1.6zM385.9 90.8h1.6v1.6h-1.6zM326.4 91.4h1.6v1.6h-1.6zM327.9 54.0h1.6v1.6h-1.6zM289.0 69.7h1.6v1.6h-1.6zM282.3 72.8h1.6v1.6h-1.6zM303.5 86.2h1.6v1.6h-1.6zM321.7 73.4h1.6v1.6h-1.6zM317.8 95.1h1.6v1.6h-1.6zM308.7 45.5h1.6v1.6h-1.6zM342.5 84.6h1.6v1.6h-1.6zM305.8 98.0h1.6v1.6h-1.6zM382.9 110.7h1.6v1.6h-1.6zM295.0 83.0h1.6v1.6h-1.6zM281.4 100.8h1.6v1.6h-1.6zM345.4 69.5h1.6v1.6h-1.6zM305.6 59.0h1.6v1.6h-1.6zM297.4 60.7h1.6v1.6h-1.6zM340.8 62.5h1.6v1.6h-1.6zM339.5 99.9h1.6v1.6h-1.6zM313.9 47.3h1.6v1.6h-1.6zM302.1 55.7h1.6v1.6h-1.6zM352.9 88.6h1.6v1.6h-1.6zM307.5 113.8h1.6v1.6h-1.6zM316.7 95.7h1.6v1.6h-1.6zM313.3 67.7h1.6v1.6h-1.6zM356.7 110.8h1.6v1.6h-1.6zM381.6 108.4h1.6v1.6h-1.6zM312.5 96.1h1.6v1.6h-1.6zM350.0 80.2h1.6v1.6h-1.6zM347.3 80.9h1.6v1.6h-1.6zM293.0 48.9h1.6v1.6h-1.6zM281.4 99.9h1.6v1.6h-1.6zM321.5 98.6h1.6v1.6h-1.6zM295.8 82.0h1.6v1.6h-1.6zM377.4 65.7h1.6v1.6h-1.6zM326.6 115.7h1.6v1.6h-1.6zM321.6 76.6h1.6v1.6h-1.6zM328.5 78.7h1.6v1.6h-1.6zM280.0 57.4h1.6v1.6h-1.6zM311.5 55.0h1.6v1.6h-1.6zM320.1 66.0h1.6v1.6h-1.6zM303.7 92.5h1.6v1.6h-1.6zM304.5 74.6h1.6v1.6h-1.6zM318.0 119.0h1.6v1.6h-1.6zM304.5 102.6h1.6v1.6h-1.6zM310.1 74.5h1.6v1.6h-1.6zM336.6 56.5h1.6v1.6h-1.6zM333.4 101.6h1.6v1.6h-1.6zM356.7 105.0h1.6v1.6h-1.6zM348.3 101.6h1.6v1.6h-1.6zM375.4 132.7h1.6v1.6h-1.6zM379.9 138.1h1.6v1.6h-1.6zM371.9 143.1h1.6v1.6h-1.6zM382.7 117.3h1.6v1.6h-1.6zM388.2 169.0h1.6v1.6h-1.6zM386.6 140.2h1.6v1.6h-1.6zM370.0 148.6h1.6v1.6h-1.6zM378.6 100.4h1.6v1.6h-1.6zM383.5 77.6h1.6v1.6h-1.6zM380.9 96.7h1.6v1.6h-1.6zM378.7 101.1h1.6v1.6h-1.6zM377.1 116.0h1.6v1.6h-1.6zM379.3 169.6h1.6v1.6h-1.6zM376.5 171.8h1.6v1.6h-1.6zM378.1 139.5h1.6v1.6h-1.6zM367.0 164.7h1.6v1.6h-1.6zM375.5 69.7h1.6v1.6h-1.6zM362.3 132.3h1.6v1.6h-1.6zM377.6 111.1h1.6v1.6h-1.6zM375.3 151.0h1.6v1.6h-1.6zM372.7 149.2h1.6v1.6h-1.6zM370.7 132.2h1.6v1.6h-1.6zM382.4 106.6h1.6v1.6h-1.6zM379.6 134.5h1.6v1.6h-1.6zM379.0 145.5h1.6v1.6h-1.6zM372.0 113.0h1.6v1.6h-1.6zM370.1 139.1h1.6v1.6h-1.6zM378.8 139.0h1.6v1.6h-1.6zM361.9 117.3h1.6v1.6h-1.6zM388.2 78.1h1.6v1.6h-1.6zM378.8 122.2h1.6v1.6h-1.6zM386.9 121.0h1.6v1.6h-1.6zM373.0 138.6h1.6v1.6h-1.6zM389.2 82.9h1.6v1.6h-1.6zM374.4 84.3h1.6v1.6h-1.6zM383.7 153.0h1.6v1.6h-1.6zM380.6 136.7h1.6v1.6h-1.6zM371.8 89.7h1.6v1.6h-1.6zM374.0 156.8h1.6v1.6h-1.6zM370.5 72.0h1.6v1.6h-1.6zM381.0 90.4h1.6v1.6h-1.6zM364.2 146.7h1.6v1.6h-1.6zM381.4 76.4h1.6v1.6h-1.6zM377.0 67.6h1.6v1.6h-1.6zM372.8 109.7h1.6v1.6h-1.6zM388.7 82.6h1.6v1.6h-1.6zM388.3 131.4h1.6v1.6h-1.6zM384.0 166.0h1.6v1.6h-1.6zM374.8 87.7h1.6v1.6h-1.6zM379.8 69.9h1.6v1.6h-1.6zM379.6 101.0h1.6v1.6h-1.6zM377.4 153.3h1.6v1.6h-1.6zM387.3 111.9h1.6v1.6h-1.6zM374.1 83.4h1.6v1.6h-1.6zM382.9 160.4h1.6v1.6h-1.6zM371.0 117.7h1.6v1.6h-1.6zM370.7 171.0h1.6v1.6h-1.6zM382.3 122.8h1.6v1.6h-1.6zM378.0 62.9h1.6v1.6h-1.6zM368.9 163.7h1.6v1.6h-1.6zM385.5 83.8h1.6v1.6h-1.6zM365.2 145.5h1.6v1.6h-1.6zM369.0 171.3h1.6v1.6h-1.6zM373.8 114.3h1.6v1.6h-1.6zM378.5 83.1h1.6v1.6h-1.6zM382.7 97.4h1.6v1.6h-1.6zM378.9 141.9h1.6v1.6h-1.6zM381.2 124.4h1.6v1.6h-1.6zM381.1 107.5h1.6v1.6h-1.6zM380.1 89.3h1.6v1.6h-1.6zM383.1 82.4h1.6v1.6h-1.6zM372.6 86.8h1.6v1.6h-1.6zM387.9 128.0h1.6v1.6h-1.6zM376.4 138.6h1.6v1.6h-1.6zM381.9 118.7h1.6v1.6h-1.6zM377.9 157.0h1.6v1.6h-1.6zM380.3 112.1h1.6v1.6h-1.6zM383.3 97.5h1.6v1.6h-1.6zM365.5 141.2h1.6v1.6h-1.6zM369.7 144.3h1.6v1.6h-1.6zM380.0 102.2h1.6v1.6h-1.6zM376.7 114.3h1.6v1.6h-1.6zM374.8 141.7h1.6v1.6h-1.6zM373.8 164.2h1.6v1.6h-1.6zM378.4 126.4h1.6v1.6h-1.6zM389.9 62.7h1.6v1.6h-1.6zM367.4 138.0h1.6v1.6h-1.6zM378.9 88.6h1.6v1.6h-1.6zM392.9 72.3h1.6v1.6h-1.6zM371.5 159.1h1.6v1.6h-1.6zM378.3 150.5h1.6v1.6h-1.6zM378.3 82.2h1.6v1.6h-1.6zM369.1 143.7h1.6v1.6h-1.6zM384.5 122.7h1.6v1.6h-1.6zM366.0 125.7h1.6v1.6h-1.6zM377.0 123.8h1.6v1.6h-1.6zM375.1 169.8h1.6v1.6h-1.6zM378.2 103.4h1.6v1.6h-1.6zM372.3 109.6h1.6v1.6h-1.6zM375.3 85.5h1.6v1.6h-1.6zM384.8 149.6h1.6v1.6h-1.6zM376.7 157.3h1.6v1.6h-1.6zM371.7 171.3h1.6v1.6h-1.6zM378.6 110.8h1.6v1.6h-1.6zM375.3 69.5h1.6v1.6h-1.6zM374.8 72.0h1.6v1.6h-1.6zM378.9 108.6h1.6v1.6h-1.6zM382.7 161.6h1.6v1.6h-1.6zM374.2 87.3h1.6v1.6h-1.6zM384.1 77.0h1.6v1.6h-1.6zM381.8 80.1h1.6v1.6h-1.6zM378.0 103.4h1.6v1.6h-1.6zM379.7 103.6h1.6v1.6h-1.6zM364.2 106.9h1.6v1.6h-1.6zM374.4 163.9h1.6v1.6h-1.6zM393.0 136.4h1.6v1.6h-1.6zM377.3 101.9h1.6v1.6h-1.6zM377.2 91.5h1.6v1.6h-1.6zM363.9 133.2h1.6v1.6h-1.6zM380.9 118.8h1.6v1.6h-1.6zM369.4 152.5h1.6v1.6h-1.6zM360.0 131.9h1.6v1.6h-1.6zM365.7 79.5h1.6v1.6h-1.6zM372.8 76.9h1.6v1.6h-1.6zM370.3 116.7h1.6v1.6h-1.6zM376.8 78.0h1.6v1.6h-1.6zM380.6 94.7h1.6v1.6h-1.6zM379.9 150.0h1.6v1.6h-1.6zM389.6 71.5h1.6v1.6h-1.6zM375.1 139.2h1.6v1.6h-1.6zM365.8 94.5h1.6v1.6h-1.6zM377.0 74.7h1.6v1.6h-1.6zM372.3 97.5h1.6v1.6h-1.6zM368.1 75.7h1.6v1.6h-1.6zM380.7 97.1h1.6v1.6h-1.6zM373.9 159.5h1.6v1.6h-1.6zM365.7 137.7h1.6v1.6h-1.6zM373.4 121.9h1.6v1.6h-1.6zM367.1 137.6h1.6v1.6h-1.6zM375.6 147.6h1.6v1.6h-1.6zM372.1 90.0h1.6v1.6h-1.6zM366.4 142.2h1.6v1.6h-1.6zM369.1 159.4h1.6v1.6h-1.6zM372.5 118.9h1.6v1.6h-1.6zM387.5 168.4h1.6v1.6h-1.6zM377.7 114.3h1.6v1.6h-1.6zM378.2 155.7h1.6v1.6h-1.6zM386.7 100.9h1.6v1.6h-1.6zM381.7 154.4h1.6v1.6h-1.6zM371.6 122.2h1.6v1.6h-1.6zM391.0 72.5h1.6v1.6h-1.6zM378.9 92.6h1.6v1.6h-1.6zM368.2 135.5h1.6v1.6h-1.6zM378.9 111.6h1.6v1.6h-1.6zM386.0 159.1h1.6v1.6h-1.6zM377.6 98.2h1.6v1.6h-1.6zM385.5 126.7h1.6v1.6h-1.6zM378.9 169.1h1.6v1.6h-1.6zM382.2 152.9h1.6v1.6h-1.6zM372.9 172.9h1.6v1.6h-1.6zM374.2 168.0h1.6v1.6h-1.6zM379.8 88.3h1.6v1.6h-1.6zM380.6 165.4h1.6v1.6h-1.6zM389.0 105.9h1.6v1.6h-1.6zM374.2 166.6h1.6v1.6h-1.6zM378.0 150.0h1.6v1.6h-1.6zM361.0 89.6h1.6v1.6h-1.6zM373.6 142.0h1.6v1.6h-1.6zM379.5 135.0h1.6v1.6h-1.6zM388.4 119.8h1.6v1.6h-1.6zM385.0 124.1h1.6v1.6h-1.6zM379.2 58.3h1.6v1.6h-1.6zM375.3 87.4h1.6v1.6h-1.6zM369.2 78.1h1.6v1.6h-1.6zM363.8 85.3h1.6v1.6h-1.6zM374.5 94.3h1.6v1.6h-1.6zM378.2 104.3h1.6v1.6h-1.6zM383.7 100.6h1.6v1.6h-1.6zM381.6 145.2h1.6v1.6h-1.6zM367.9 112.4h1.6v1.6h-1.6zM378.0 128.1h1.6v1.6h-1.6zM380.2 106.7h1.6v1.6h-1.6zM383.1 121.2h1.6v1.6h-1.6zM375.9 130.5h1.6v1.6h-1.6zM376.4 157.7h1.6v1.6h-1.6zM385.1 65.5h1.6v1.6h-1.6zM386.4 58.2h1.6v1.6h-1.6zM377.7 130.7h1.6v1.6h-1.6zM369.2 168.4h1.6v1.6h-1.6zM383.5 94.9h1.6v1.6h-1.6zM368.1 130.5h1.6v1.6h-1.6zM376.6 94.0h1.6v1.6h-1.6zM381.6 161.8h1.6v1.6h-1.6zM379.0 105.7h1.6v1.6h-1.6zM376.3 171.5h1.6v1.6h-1.6zM355.4 102.9h1.6v1.6h-1.6zM402.9 65.8h1.6v1.6h-1.6zM386.8 98.8h1.6v1.6h-1.6zM362.4 114.4h1.6v1.6h-1.6zM372.4 120.8h1.6v1.6h-1.6zM364.7 79.8h1.6v1.6h-1.6zM376.4 115.6h1.6v1.6h-1.6zM362.1 88.8h1.6v1.6h-1.6zM373.1 79.7h1.6v1.6h-1.6zM383.6 120.6h1.6v1.6h-1.6zM375.1 124.3h1.6v1.6h-1.6zM367.9 104.6h1.6v1.6h-1.6zM373.0 111.9h1.6v1.6h-1.6zM373.6 125.5h1.6v1.6h-1.6zM378.3 89.0h1.6v1.6h-1.6zM379.8 118.8h1.6v1.6h-1.6zM386.2 89.8h1.6v1.6h-1.6zM376.1 87.1h1.6v1.6h-1.6zM390.6 85.7h1.6v1.6h-1.6zM375.8 101.6h1.6v1.6h-1.6zM363.8 110.7h1.6v1.6h-1.6zM369.5 115.7h1.6v1.6h-1.6zM375.0 70.6h1.6v1.6h-1.6zM371.3 102.2h1.6v1.6h-1.6zM352.7 100.9h1.6v1.6h-1.6zM350.8 111.2h1.6v1.6h-1.6zM345.9 110.2h1.6v1.6h-1.6zM342.9 96.9h1.6v1.6h-1.6zM355.2 105.9h1.6v1.6h-1.6zM336.8 110.3h1.6v1.6h-1.6zM339.6 117.7h1.6v1.6h-1.6zM337.8 109.0h1.6v1.6h-1.6zM334.1 96.3h1.6v1.6h-1.6zM345.8 91.3h1.6v1.6h-1.6zM335.7 123.4h1.6v1.6h-1.6zM338.8 94.1h1.6v1.6h-1.6zM337.2 110.4h1.6v1.6h-1.6zM329.9 95.4h1.6v1.6h-1.6zM346.2 103.7h1.6v1.6h-1.6zM313.1 124.1h1.6v1.6h-1.6zM338.4 116.2h1.6v1.6h-1.6zM346.4 113.0h1.6v1.6h-1.6zM342.4 100.2h1.6v1.6h-1.6zM340.0 104.3h1.6v1.6h-1.6zM343.1 119.4h1.6v1.6h-1.6zM339.1 112.1h1.6v1.6h-1.6zM344.5 101.8h1.6v1.6h-1.6zM355.4 97.1h1.6v1.6h-1.6zM338.4 107.7h1.6v1.6h-1.6zM334.2 115.5h1.6v1.6h-1.6zM335.8 104.9h1.6v1.6h-1.6zM347.0 82.8h1.6v1.6h-1.6zM342.1 112.6h1.6v1.6h-1.6zM348.1 104.3h1.6v1.6h-1.6zM324.5 122.0h1.6v1.6h-1.6zM352.7 97.7h1.6v1.6h-1.6zM352.9 89.3h1.6v1.6h-1.6zM343.4 101.1h1.6v1.6h-1.6zM341.7 116.3h1.6v1.6h-1.6zM331.7 111.4h1.6v1.6h-1.6zM341.2 113.5h1.6v1.6h-1.6zM339.3 122.3h1.6v1.6h-1.6zM322.9 105.6h1.6v1.6h-1.6zM338.4 111.7h1.6v1.6h-1.6zM336.1 108.3h1.6v1.6h-1.6zM351.1 100.5h1.6v1.6h-1.6zM327.8 116.1h1.6v1.6h-1.6zM348.2 126.5h1.6v1.6h-1.6zM342.9 109.3h1.6v1.6h-1.6zM340.9 120.4h1.6v1.6h-1.6zM358.2 108.4h1.6v1.6h-1.6zM342.8 111.1h1.6v1.6h-1.6zM342.3 104.0h1.6v1.6h-1.6zM339.0 99.4h1.6v1.6h-1.6zM355.0 106.4h1.6v1.6h-1.6zM352.8 131.2h1.6v1.6h-1.6zM325.3 78.7h1.6v1.6h-1.6zM345.1 104.3h1.6v1.6h-1.6zM344.6 98.3h1.6v1.6h-1.6zM335.3 120.3h1.6v1.6h-1.6zM340.5 96.3h1.6v1.6h-1.6zM352.9 111.8h1.6v1.6h-1.6zM356.1 99.9h1.6v1.6h-1.6zM337.3 108.8h1.6v1.6h-1.6zM351.6 113.3h1.6v1.6h-1.6zM344.7 120.8h1.6v1.6h-1.6zM339.6 94.4h1.6v1.6h-1.6zM346.7 96.9h1.6v1.6h-1.6zM339.3 110.6h1.6v1.6h-1.6zM355.1 99.6h1.6v1.6h-1.6zM327.7 108.0h1.6v1.6h-1.6zM329.3 103.0h1.6v1.6h-1.6zM351.9 103.0h1.6v1.6h-1.6zM343.8 107.9h1.6v1.6h-1.6zM342.3 100.5h1.6v1.6h-1.6zM339.2 87.4h1.6v1.6h-1.6zM344.7 107.4h1.6v1.6h-1.6zM332.5 87.6h1.6v1.6h-1.6zM332.5 105.6h1.6v1.6h-1.6zM340.0 91.7h1.6v1.6h-1.6zM345.1 105.8h1.6v1.6h-1.6zM396.7 52.5h1.6v1.6h-1.6zM356.0 52.0h1.6v1.6h-1.6zM334.1 62.0h1.6v1.6h-1.6zM350.4 36.9h1.6v1.6h-1.6zM371.2 73.5h1.6v1.6h-1.6zM332.0 64.7h1.6v1.6h-1.6zM360.4 29.8h1.6v1.6h-1.6zM379.3 64.9h1.6v1.6h-1.6zM318.6 60.6h1.6v1.6h-1.6zM378.3 77.4h1.6v1.6h-1.6zM378.2 61.0h1.6v1.6h-1.6zM363.5 69.5h1.6v1.6h-1.6zM367.8 70.1h1.6v1.6h-1.6zM339.7 72.9h1.6v1.6h-1.6zM334.9 68.2h1.6v1.6h-1.6zM357.4 47.2h1.6v1.6h-1.6zM358.6 55.7h1.6v1.6h-1.6zM344.5 66.4h1.6v1.6h-1.6zM327.2 43.1h1.6v1.6h-1.6zM335.8 57.3h1.6v1.6h-1.6zM344.5 49.6h1.6v1.6h-1.6zM346.1 71.1h1.6v1.6h-1.6zM369.6 53.7h1.6v1.6h-1.6zM332.7 49.9h1.6v1.6h-1.6zM323.2 57.4h1.6v1.6h-1.6zM388.4 69.7h1.6v1.6h-1.6zM373.8 73.7h1.6v1.6h-1.6zM372.8 81.2h1.6v1.6h-1.6zM374.6 63.9h1.6v1.6h-1.6zM384.7 52.2h1.6v1.6h-1.6zM351.9 69.1h1.6v1.6h-1.6zM346.9 82.5h1.6v1.6h-1.6zM364.3 69.9h1.6v1.6h-1.6zM392.1 75.5h1.6v1.6h-1.6zM346.0 62.1h1.6v1.6h-1.6zM297.0 70.6h1.6v1.6h-1.6zM322.3 79.5h1.6v1.6h-1.6zM346.8 66.3h1.6v1.6h-1.6zM327.6 49.5h1.6v1.6h-1.6zM363.1 57.6h1.6v1.6h-1.6zM368.5 71.7h1.6v1.6h-1.6zM353.0 40.5h1.6v1.6h-1.6zM354.9 45.4h1.6v1.6h-1.6zM355.6 64.6h1.6v1.6h-1.6zM363.5 66.5h1.6v1.6h-1.6zM372.0 49.5h1.6v1.6h-1.6zM390.9 78.9h1.6v1.6h-1.6zM368.9 40.4h1.6v1.6h-1.6zM379.9 56.3h1.6v1.6h-1.6zM385.6 40.6h1.6v1.6h-1.6zM346.6 52.1h1.6v1.6h-1.6zM339.2 65.4h1.6v1.6h-1.6zM366.0 65.0h1.6v1.6h-1.6zM372.2 67.8h1.6v1.6h-1.6zM272.4 41.7h1.6v1.6h-1.6zM346.3 84.3h1.6v1.6h-1.6zM311.1 33.7h1.6v1.6h-1.6zM301.0 115.8h1.6v1.6h-1.6zM374.6 76.0h1.6v1.6h-1.6zM282.8 51.5h1.6v1.6h-1.6zM277.0 127.9h1.6v1.6h-1.6zM325.1 136.1h1.6v1.6h-1.6zM301.1 135.3h1.6v1.6h-1.6zM306.8 148.6h1.6v1.6h-1.6zM293.9 147.1h1.6v1.6h-1.6zM256.7 43.1h1.6v1.6h-1.6zM249.9 43.7h1.6v1.6h-1.6zM249.6 38.1h1.6v1.6h-1.6zM255.0 29.1h1.6v1.6h-1.6zM257.0 28.5h1.6v1.6h-1.6zM255.8 61.9h1.6v1.6h-1.6zM255.8 31.1h1.6v1.6h-1.6zM250.8 38.5h1.6v1.6h-1.6zM257.7 33.0h1.6v1.6h-1.6zM251.9 57.5h1.6v1.6h-1.6zM258.5 42.3h1.6v1.6h-1.6zM243.0 32.8h1.6v1.6h-1.6zM254.0 18.3h1.6v1.6h-1.6zM255.5 32.4h1.6v1.6h-1.6zM253.5 36.4h1.6v1.6h-1.6zM254.1 33.2h1.6v1.6h-1.6zM251.3 38.0h1.6v1.6h-1.6zM250.1 34.4h1.6v1.6h-1.6zM250.7 64.3h1.6v1.6h-1.6zM250.5 41.8h1.6v1.6h-1.6zM253.5 42.6h1.6v1.6h-1.6zM251.2 45.8h1.6v1.6h-1.6zM251.6 25.7h1.6v1.6h-1.6zM367.7 146.0h1.6v1.6h-1.6zM365.0 138.2h1.6v1.6h-1.6zM367.8 161.4h1.6v1.6h-1.6zM368.8 166.5h1.6v1.6h-1.6zM361.1 166.9h1.6v1.6h-1.6zM369.3 154.6h1.6v1.6h-1.6zM373.7 145.3h1.6v1.6h-1.6zM358.7 155.5h1.6v1.6h-1.6zM368.0 142.1h1.6v1.6h-1.6zM368.1 146.2h1.6v1.6h-1.6zM363.5 153.2h1.6v1.6h-1.6zM365.6 165.8h1.6v1.6h-1.6zM366.1 157.6h1.6v1.6h-1.6z"/>
<path fill="#333" d="M296.8 79.5h1.6v1.6h-1.6zM284.3 13.8h1.6v1.6h-1.6zM295.0 77.0h1.6v1.6h-1.6zM293.2 76.1h1.6v1.6h-1.6zM294.2 76.3h1.6v1.6h-1.6zM308.0 71.4h1.6v1.6h-1.6zM309.7 71.7h1.6v1.6h-1.6zM276.8 78.1h1.6v1.6h-1.6zM254.0 38.8h1.6v1.6h-1.6zM252.2 24.9h1.6v1.6h-1.6zM276.5 87.9h1.6v1.6h-1.6zM322.0 69.4h1.6v1.6h-1.6zM273.1 71.5h1.6v1.6h-1.6zM336.6 50.4h1.6v1.6h-1.6zM287.9 75.5h1.6v1.6h-1.6zM259.9 49.9h1.6v1.6h-1.6zM335.9 46.6h1.6v1.6h-1.6zM289.4 75.4h1.6v1.6h-1.6zM261.2 47.7h1.6v1.6h-1.6zM259.4 44.7h1.6v1.6h-1.6zM307.3 75.1h1.6v1.6h-1.6zM264.1 73.9h1.6v1.6h-1.6zM302.9 71.1h1.6v1.6h-1.6zM320.8 47.3h1.6v1.6h-1.6zM293.1 77.3h1.6v1.6h-1.6zM251.7 23.4h1.6v1.6h-1.6zM327.8 42.1h1.6v1.6h-1.6zM329.7 81.3h1.6v1.6h-1.6zM322.8 50.0h1.6v1.6h-1.6zM326.5 28.4h1.6v1.6h-1.6zM338.2 74.3h1.6v1.6h-1.6zM294.3 90.0h1.6v1.6h-1.6zM282.2 97.0h1.6v1.6h-1.6zM277.3 88.9h1.6v1.6h-1.6zM303.9 78.4h1.6v1.6h-1.6zM280.4 90.6h1.6v1.6h-1.6zM288.1 76.8h1.6v1.6h-1.6zM284.3 99.7h1.6v1.6h-1.6zM294.5 79.1h1.6v1.6h-1.6zM293.9 77.9h1.6v1.6h-1.6zM304.2 84.7h1.6v1.6h-1.6zM302.5 88.1h1.6v1.6h-1.6zM295.3 96.4h1.6v1.6h-1.6zM302.9 80.1h1.6v1.6h-1.6zM276.2 86.2h1.6v1.6h-1.6zM294.6 89.5h1.6v1.6h-1.6zM281.6 110.2h1.6v1.6h-1.6zM289.5 113.3h1.6v1.6h-1.6zM288.6 83.1h1.6v1.6h-1.6zM301.4 88.8h1.6v1.6h-1.6zM292.5 80.0h1.6v1.6h-1.6zM282.6 94.8h1.6v1.6h-1.6zM305.5 85.3h1.6v1.6h-1.6zM286.7 86.9h1.6v1.6h-1.6zM282.4 86.3h1.6v1.6h-1.6zM285.6 87.3h1.6v1.6h-1.6zM289.9 73.2h1.6v1.6h-1.6zM300.4 92.8h1.6v1.6h-1.6zM296.9 76.0h1.6v1.6h-1.6zM295.1 79.2h1.6v1.6h-1.6zM291.2 87.1h1.6v1.6h-1.6zM281.7 95.3h1.6v1.6h-1.6zM300.3 103.8h1.6v1.6h-1.6zM300.8 85.0h1.6v1.6h-1.6zM284.8 83.8h1.6v1.6h-1.6zM289.4 108.8h1.6v1.6h-1.6zM288.1 118.1h1.6v1.6h-1.6zM305.5 124.4h1.6v1.6h-1.6zM288.8 83.8h1.6v1.6h-1.6zM320.6 76.3h1.6v1.6h-1.6zM294.8 104.0h1.6v1.6h-1.6zM294.1 93.9h1.6v1.6h-1.6zM286.6 117.1h1.6v1.6h-1.6zM304.7 127.5h1.6v1.6h-1.6zM305.7 119.4h1.6v1.6h-1.6zM301.5 123.4h1.6v1.6h-1.6zM298.0 83.9h1.6v1.6h-1.6zM295.1 109.9h1.6v1.6h-1.6zM315.9 96.3h1.6v1.6h-1.6zM290.8 97.5h1.6v1.6h-1.6zM295.3 112.4h1.6v1.6h-1.6zM292.2 82.4h1.6v1.6h-1.6zM284.9 83.7h1.6v1.6h-1.6zM294.1 95.7h1.6v1.6h-1.6zM315.5 102.1h1.6v1.6h-1.6zM297.3 131.0h1.6v1.6h-1.6zM326.4 84.2h1.6v1.6h-1.6zM329.7 117.3h1.6v1.6h-1.6zM314.5 133.1h1.6v1.6h-1.6zM308.2 90.8h1.6v1.6h-1.6zM298.2 86.8h1.6v1.6h-1.6zM302.1 71.4h1.6v1.6h-1.6zM276.6 83.2h1.6v1.6h-1.6zM337.9 121.4h1.6v1.6h-1.6zM342.0 95.8h1.6v1.6h-1.6zM329.8 110.2h1.6v1.6h-1.6zM346.4 99.6h1.6v1.6h-1.6zM312.3 93.8h1.6v1.6h-1.6zM302.6 104.8h1.6v1.6h-1.6zM324.1 95.1h1.6v1.6h-1.6zM324.6 88.0h1.6v1.6h-1.6zM270.9 114.2h1.6v1.6h-1.6zM338.9 61.2h1.6v1.6h-1.6zM289.7 92.5h1.6v1.6h-1.6zM331.3 77.6h1.6v1.6h-1.6zM286.2 121.3h1.6v1.6h-1.6zM334.9 118.0h1.6v1.6h-1.6zM312.1 91.2h1.6v1.6h-1.6zM336.8 73.5h1.6v1.6h-1.6zM267.6 103.3h1.6v1.6h-1.6zM310.4 121.1h1.6v1.6h-1.6zM345.4 104.4h1.6v1.6h-1.6zM339.0 93.5h1.6v1.6h-1.6zM323.8 102.8h1.6v1.6h-1.6zM340.9 73.0h1.6v1.6h-1.6zM380.6 79.0h1.6v1.6h-1.6zM377.2 80.0h1.6v1.6h-1.6zM378.1 143.4h1.6v1.6h-1.6zM381.8 149.9h1.6v1.6h-1.6zM377.9 140.5h1.6v1.6h-1.6zM377.6 88.8h1.6v1.6h-1.6zM373.1 151.1h1.6v1.6h-1.6zM375.6 75.8h1.6v1.6h-1.6zM378.2 123.9h1.6v1.6h-1.6zM386.0 134.2h1.6v1.6h-1.6zM386.6 66.7h1.6v1.6h-1.6zM378.3 105.4h1.6v1.6h-1.6zM384.4 103.4h1.6v1.6h-1.6zM376.8 88.1h1.6v1.6h-1.6zM371.4 101.2h1.6v1.6h-1.6zM375.5 150.0h1.6v1.6h-1.6zM374.3 121.5h1.6v1.6h-1.6zM360.1 129.7h1.6v1.6h-1.6zM375.7 150.0h1.6v1.6h-1.6zM373.1 125.5h1.6v1.6h-1.6zM371.3 102.4h1.6v1.6h-1.6zM380.5 165.7h1.6v1.6h-1.6zM384.1 116.3h1.6v1.6h-1.6zM379.7 153.9h1.6v1.6h-1.6zM374.4 146.1h1.6v1.6h-1.6zM382.0 70.2h1.6v1.6h-1.6zM380.5 134.3h1.6v1.6h-1.6zM380.9 85.8h1.6v1.6h-1.6zM375.8 119.1h1.6v1.6h-1.6zM374.6 102.3h1.6v1.6h-1.6zM375.5 95.4h1.6v1.6h-1.6zM368.0 171.9h1.6v1.6h-1.6zM375.4 160.6h1.6v1.6h-1.6zM362.0 133.9h1.6v1.6h-1.6zM373.1 93.4h1.6v1.6h-1.6zM388.7 111.8h1.6v1.6h-1.6zM367.4 164.5h1.6v1.6h-1.6zM385.5 158.3h1.6v1.6h-1.6zM385.9 172.0h1.6v1.6h-1.6zM381.2 105.3h1.6v1.6h-1.6zM386.1 142.1h1.6v1.6h-1.6zM376.4 70.4h1.6v1.6h-1.6zM379.1 97.8h1.6v1.6h-1.6zM372.4 147.7h1.6v1.6h-1.6zM373.7 134.8h1.6v1.6h-1.6zM374.1 90.1h1.6v1.6h-1.6zM380.4 79.4h1.6v1.6h-1.6zM369.5 140.3h1.6v1.6h-1.6zM375.0 119.2h1.6v1.6h-1.6zM375.8 96.5h1.6v1.6h-1.6zM376.5 109.1h1.6v1.6h-1.6zM368.9 84.7h1.6v1.6h-1.6zM387.4 98.2h1.6v1.6h-1.6zM377.5 120.7h1.6v1.6h-1.6zM378.3 102.7h1.6v1.6h-1.6zM373.5 142.3h1.6v1.6h-1.6zM373.1 119.5h1.6v1.6h-1.6zM374.1 93.7h1.6v1.6h-1.6zM385.8 89.1h1.6v1.6h-1.6zM373.9 138.0h1.6v1.6h-1.6zM376.2 122.5h1.6v1.6h-1.6zM378.3 118.5h1.6v1.6h-1.6zM376.5 163.6h1.6v1.6h-1.6zM370.3 95.9h1.6v1.6h-1.6zM386.9 79.6h1.6v1.6h-1.6zM377.4 169.1h1.6v1.6h-1.6zM361.0 135.9h1.6v1.6h-1.6zM373.8 89.1h1.6v1.6h-1.6zM378.4 82.1h1.6v1.6h-1.6zM372.2 117.0h1.6v1.6h-1.6zM384.0 126.5h1.6v1.6h-1.6zM368.3 117.3h1.6v1.6h-1.6zM381.7 154.2h1.6v1.6h-1.6zM378.3 85.7h1.6v1.6h-1.6zM373.7 112.0h1.6v1.6h-1.6zM378.1 149.8h1.6v1.6h-1.6zM376.6 165.3h1.6v1.6h-1.6zM372.8 95.7h1.6v1.6h-1.6zM380.3 129.7h1.6v1.6h-1.6zM375.3 131.4h1.6v1.6h-1.6zM366.5 75.9h1.6v1.6h-1.6zM371.1 148.7h1.6v1.6h-1.6zM375.2 85.8h1.6v1.6h-1.6zM382.7 98.2h1.6v1.6h-1.6zM371.5 85.8h1.6v1.6h-1.6zM381.1 141.6h1.6v1.6h-1.6zM373.0 75.9h1.6v1.6h-1.6zM371.8 72.6h1.6v1.6h-1.6zM375.2 163.9h1.6v1.6h-1.6zM385.3 95.0h1.6v1.6h-1.6zM378.9 149.5h1.6v1.6h-1.6zM367.9 94.9h1.6v1.6h-1.6zM381.7 93.1h1.6v1.6h-1.6zM375.0 105.2h1.6v1.6h-1.6zM378.8 114.0h1.6v1.6h-1.6zM379.4 97.7h1.6v1.6h-1.6zM383.6 83.5h1.6v1.6h-1.6zM375.1 92.5h1.6v1.6h-1.6zM376.8 111.3h1.6v1.6h-1.6zM378.7 89.2h1.6v1.6h-1.6zM385.7 96.9h1.6v1.6h-1.6zM381.8 110.8h1.6v1.6h-1.6zM371.3 122.3h1.6v1.6h-1.6zM388.5 108.5h1.6v1.6h-1.6zM383.4 150.9h1.6v1.6h-1.6zM380.0 135.0h1.6v1.6h-1.6zM362.6 172.9h1.6v1.6h-1.6zM377.4 128.1h1.6v1.6h-1.6zM376.4 108.4h1.6v1.6h-1.6zM383.7 74.3h1.6v1.6h-1.6zM390.7 119.2h1.6v1.6h-1.6zM365.1 149.1h1.6v1.6h-1.6zM389.2 71.9h1.6v1.6h-1.6zM365.5 124.8h1.6v1.6h-1.6zM386.8 64.2h1.6v1.6h-1.6zM382.0 152.7h1.6v1.6h-1.6zM378.4 62.7h1.6v1.6h-1.6zM375.8 88.2h1.6v1.6h-1.6zM373.5 92.0h1.6v1.6h-1.6zM382.9 105.0h1.6v1.6h-1.6zM367.4 112.3h1.6v1.6h-1.6zM381.1 75.6h1.6v1.6h-1.6zM368.7 161.7h1.6v1.6h-1.6zM378.1 103.0h1.6v1.6h-1.6zM378.1 100.8h1.6v1.6h-1.6zM371.3 103.6h1.6v1.6h-1.6zM378.8 123.0h1.6v1.6h-1.6zM383.5 125.9h1.6v1.6h-1.6zM344.5 105.8h1.6v1.6h-1.6zM351.8 105.9h1.6v1.6h-1.6zM336.6 93.3h1.6v1.6h-1.6zM351.4 101.9h1.6v1.6h-1.6zM339.9 106.8h1.6v1.6h-1.6zM341.6 100.4h1.6v1.6h-1.6zM342.9 96.9h1.6v1.6h-1.6zM337.1 94.0h1.6v1.6h-1.6zM337.1 105.1h1.6v1.6h-1.6zM348.6 113.1h1.6v1.6h-1.6zM336.1 98.0h1.6v1.6h-1.6zM344.9 96.1h1.6v1.6h-1.6zM339.1 98.2h1.6v1.6h-1.6zM338.2 118.7h1.6v1.6h-1.6zM342.1 107.2h1.6v1.6h-1.6zM320.5 114.9h1.6v1.6h-1.6zM336.2 104.0h1.6v1.6h-1.6zM365.6 120.3h1.6v1.6h-1.6zM348.4 89.8h1.6v1.6h-1.6zM349.5 111.1h1.6v1.6h-1.6zM351.3 118.6h1.6v1.6h-1.6zM337.4 109.0h1.6v1.6h-1.6zM339.0 132.1h1.6v1.6h-1.6zM341.5 107.5h1.6v1.6h-1.6zM329.9 103.6h1.6v1.6h-1.6zM340.0 107.6h1.6v1.6h-1.6zM357.1 125.3h1.6v1.6h-1.6zM329.2 113.0h1.6v1.6h-1.6zM336.2 121.7h1.6v1.6h-1.6zM342.7 97.3h1.6v1.6h-1.6zM307.4 72.4h1.6v1.6h-1.6zM350.5 71.1h1.6v1.6h-1.6zM335.0 39.6h1.6v1.6h-1.6zM361.1 57.4h1.6v1.6h-1.6zM358.4 57.8h1.6v1.6h-1.6zM365.5 88.4h1.6v1.6h-1.6zM348.4 66.5h1.6v1.6h-1.6zM360.3 63.3h1.6v1.6h-1.6zM395.2 43.4h1.6v1.6h-1.6zM320.9 89.0h1.6v1.6h-1.6zM332.0 64.6h1.6v1.6h-1.6zM346.9 53.9h1.6v1.6h-1.6zM358.2 55.9h1.6v1.6h-1.6zM357.5 68.1h1.6v1.6h-1.6zM355.5 71.0h1.6v1.6h-1.6zM395.0 42.7h1.6v1.6h-1.6zM330.6 162.2h1.6v1.6h-1.6zM321.5 132.0h1.6v1.6h-1.6zM256.9 42.6h1.6v1.6h-1.6zM245.8 49.5h1.6v1.6h-1.6zM245.4 29.4h1.6v1.6h-1.6zM253.2 35.1h1.6v1.6h-1.6zM367.3 142.0h1.6v1.6h-1.6zM363.6 159.9h1.6v1.6h-1.6zM366.0 167.2h1.6v1.6h-1.6zM362.4 160.9h1.6v1.6h-1.6zM367.0 154.4h1.6v1.6h-1.6zM367.2 156.4h1.6v1.6h-1.6zM364.6 147.1h1.6v1.6h-1.6zM364.0 165.5h1.6v1.6h-1.6zM364.3 153.6h1.6v1.6h-1.6zM363.0 160.7h1.6v1.6h-1.6zM362.0 153.6h1.6v1.6h-1.6zM363.4 162.8h1.6v1.6h-1.6zM365.6 162.4h1.6v1.6h-1.6z"/>
<path fill="#555" d="M303.6 71.5h1.6v1.6h-1.6zM293.7 81.7h1.6v1.6h-1.6zM295.0 75.6h1.6v1.6h-1.6zM297.6 75.3h1.6v1.6h-1.6zM287.5 78.8h1.6v1.6h-1.6zM302.9 73.9h1.6v1.6h-1.6zM296.1 81.1h1.6v1.6h-1.6zM292.5 81.6h1.6v1.6h-1.6zM281.5 73.4h1.6v1.6h-1.6zM287.1 72.7h1.6v1.6h-1.6zM298.1 78.8h1.6v1.6h-1.6zM297.4 75.9h1.6v1.6h-1.6zM287.9 73.7h1.6v1.6h-1.6zM276.5 72.1h1.6v1.6h-1.6zM299.5 80.8h1.6v1.6h-1.6zM255.8 63.3h1.6v1.6h-1.6zM250.3 20.1h1.6v1.6h-1.6zM279.5 76.3h1.6v1.6h-1.6zM298.9 82.6h1.6v1.6h-1.6zM303.7 73.2h1.6v1.6h-1.6zM256.8 84.7h1.6v1.6h-1.6zM258.6 40.1h1.6v1.6h-1.6zM261.5 33.9h1.6v1.6h-1.6zM261.0 90.6h1.6v1.6h-1.6zM270.0 82.3h1.6v1.6h-1.6zM295.8 85.3h1.6v1.6h-1.6zM296.4 88.8h1.6v1.6h-1.6zM273.6 104.8h1.6v1.6h-1.6zM291.7 91.9h1.6v1.6h-1.6zM292.4 81.3h1.6v1.6h-1.6zM285.2 77.2h1.6v1.6h-1.6zM310.7 79.0h1.6v1.6h-1.6zM308.9 87.0h1.6v1.6h-1.6zM297.3 71.6h1.6v1.6h-1.6zM308.8 87.1h1.6v1.6h-1.6zM271.8 96.1h1.6v1.6h-1.6zM307.6 75.0h1.6v1.6h-1.6zM289.8 98.8h1.6v1.6h-1.6zM299.8 103.5h1.6v1.6h-1.6zM299.7 100.2h1.6v1.6h-1.6zM285.9 76.8h1.6v1.6h-1.6zM296.8 82.6h1.6v1.6h-1.6zM300.9 76.5h1.6v1.6h-1.6zM300.4 92.6h1.6v1.6h-1.6zM276.6 99.7h1.6v1.6h-1.6zM275.0 87.3h1.6v1.6h-1.6zM272.9 96.8h1.6v1.6h-1.6zM290.1 104.0h1.6v1.6h-1.6zM306.2 97.3h1.6v1.6h-1.6zM294.1 89.7h1.6v1.6h-1.6zM289.4 89.2h1.6v1.6h-1.6zM304.5 77.2h1.6v1.6h-1.6zM308.5 82.9h1.6v1.6h-1.6zM287.0 73.0h1.6v1.6h-1.6zM300.5 78.1h1.6v1.6h-1.6zM318.5 80.0h1.6v1.6h-1.6zM301.9 83.1h1.6v1.6h-1.6zM287.1 72.7h1.6v1.6h-1.6zM293.0 83.4h1.6v1.6h-1.6zM300.8 83.3h1.6v1.6h-1.6zM298.9 85.5h1.6v1.6h-1.6zM285.3 81.9h1.6v1.6h-1.6zM302.6 97.2h1.6v1.6h-1.6zM295.0 89.6h1.6v1.6h-1.6zM296.0 84.8h1.6v1.6h-1.6zM285.9 89.5h1.6v1.6h-1.6zM302.7 94.0h1.6v1.6h-1.6zM272.5 78.9h1.6v1.6h-1.6zM287.7 82.7h1.6v1.6h-1.6zM293.5 88.6h1.6v1.6h-1.6zM291.0 76.8h1.6v1.6h-1.6zM280.5 92.0h1.6v1.6h-1.6zM313.2 85.6h1.6v1.6h-1.6zM288.0 84.3h1.6v1.6h-1.6zM303.6 95.3h1.6v1.6h-1.6zM307.7 75.6h1.6v1.6h-1.6zM288.2 79.1h1.6v1.6h-1.6zM283.8 82.3h1.6v1.6h-1.6zM297.0 71.4h1.6v1.6h-1.6zM289.1 94.3h1.6v1.6h-1.6zM309.5 78.1h1.6v1.6h-1.6zM310.6 90.0h1.6v1.6h-1.6zM304.9 86.6h1.6v1.6h-1.6zM325.1 120.6h1.6v1.6h-1.6zM289.9 105.2h1.6v1.6h-1.6zM301.5 101.4h1.6v1.6h-1.6zM292.5 118.3h1.6v1.6h-1.6zM296.6 93.6h1.6v1.6h-1.6zM323.8 102.7h1.6v1.6h-1.6zM333.6 127.3h1.6v1.6h-1.6zM300.2 102.7h1.6v1.6h-1.6zM315.9 104.6h1.6v1.6h-1.6zM289.8 95.9h1.6v1.6h-1.6zM316.1 108.4h1.6v1.6h-1.6zM308.1 103.4h1.6v1.6h-1.6zM295.6 85.3h1.6v1.6h-1.6zM312.4 117.8h1.6v1.6h-1.6zM299.3 89.8h1.6v1.6h-1.6zM295.4 84.1h1.6v1.6h-1.6zM278.3 109.3h1.6v1.6h-1.6zM300.2 97.6h1.6v1.6h-1.6zM337.3 84.9h1.6v1.6h-1.6zM308.0 92.8h1.6v1.6h-1.6zM311.0 85.0h1.6v1.6h-1.6zM332.3 102.9h1.6v1.6h-1.6zM308.0 102.2h1.6v1.6h-1.6zM297.9 95.0h1.6v1.6h-1.6zM284.8 93.8h1.6v1.6h-1.6zM308.0 94.1h1.6v1.6h-1.6zM306.5 84.9h1.6v1.6h-1.6zM304.6 109.7h1.6v1.6h-1.6zM289.9 118.6h1.6v1.6h-1.6zM372.3 85.5h1.6v1.6h-1.6zM322.7 130.2h1.6v1.6h-1.6zM333.8 132.4h1.6v1.6h-1.6zM335.3 110.3h1.6v1.6h-1.6zM272.6 83.9h1.6v1.6h-1.6zM305.6 81.0h1.6v1.6h-1.6zM328.5 64.9h1.6v1.6h-1.6zM365.5 112.2h1.6v1.6h-1.6zM330.0 79.4h1.6v1.6h-1.6zM336.0 107.1h1.6v1.6h-1.6zM329.8 65.2h1.6v1.6h-1.6zM277.0 72.6h1.6v1.6h-1.6zM298.8 102.4h1.6v1.6h-1.6zM301.4 82.1h1.6v1.6h-1.6zM312.3 115.1h1.6v1.6h-1.6zM339.4 86.4h1.6v1.6h-1.6zM325.9 94.7h1.6v1.6h-1.6zM309.4 83.6h1.6v1.6h-1.6zM336.1 62.5h1.6v1.6h-1.6zM304.5 85.5h1.6v1.6h-1.6zM281.0 84.1h1.6v1.6h-1.6zM388.6 81.5h1.6v1.6h-1.6zM321.8 129.0h1.6v1.6h-1.6zM369.2 168.4h1.6v1.6h-1.6zM371.5 123.5h1.6v1.6h-1.6zM366.0 135.0h1.6v1.6h-1.6zM385.4 82.4h1.6v1.6h-1.6zM381.9 83.7h1.6v1.6h-1.6zM390.0 101.7h1.6v1.6h-1.6zM378.6 84.3h1.6v1.6h-1.6zM375.1 88.6h1.6v1.6h-1.6zM373.2 109.2h1.6v1.6h-1.6zM373.9 70.6h1.6v1.6h-1.6zM376.2 127.8h1.6v1.6h-1.6zM384.8 68.8h1.6v1.6h-1.6zM375.6 125.4h1.6v1.6h-1.6zM375.2 120.4h1.6v1.6h-1.6zM382.7 126.8h1.6v1.6h-1.6zM380.3 158.2h1.6v1.6h-1.6zM372.8 124.4h1.6v1.6h-1.6zM381.2 164.8h1.6v1.6h-1.6zM369.5 110.9h1.6v1.6h-1.6zM362.7 114.7h1.6v1.6h-1.6zM384.1 152.4h1.6v1.6h-1.6zM381.4 146.9h1.6v1.6h-1.6zM385.1 130.9h1.6v1.6h-1.6zM362.5 95.7h1.6v1.6h-1.6zM375.3 86.9h1.6v1.6h-1.6zM365.8 148.2h1.6v1.6h-1.6zM376.2 91.7h1.6v1.6h-1.6zM373.8 107.7h1.6v1.6h-1.6zM376.8 109.3h1.6v1.6h-1.6zM381.1 124.3h1.6v1.6h-1.6zM374.6 98.4h1.6v1.6h-1.6zM376.2 166.0h1.6v1.6h-1.6zM372.5 120.4h1.6v1.6h-1.6zM382.2 81.8h1.6v1.6h-1.6zM369.9 108.8h1.6v1.6h-1.6zM385.4 92.7h1.6v1.6h-1.6zM378.2 129.9h1.6v1.6h-1.6zM380.8 98.0h1.6v1.6h-1.6zM368.3 133.2h1.6v1.6h-1.6zM379.2 84.5h1.6v1.6h-1.6zM372.8 139.0h1.6v1.6h-1.6zM365.4 148.2h1.6v1.6h-1.6zM378.5 87.8h1.6v1.6h-1.6zM376.8 134.5h1.6v1.6h-1.6zM368.6 109.0h1.6v1.6h-1.6zM375.9 126.8h1.6v1.6h-1.6zM388.2 71.4h1.6v1.6h-1.6zM379.0 75.0h1.6v1.6h-1.6zM368.1 97.5h1.6v1.6h-1.6zM382.7 153.9h1.6v1.6h-1.6zM368.7 98.3h1.6v1.6h-1.6zM371.1 165.2h1.6v1.6h-1.6zM375.6 94.5h1.6v1.6h-1.6zM376.8 92.6h1.6v1.6h-1.6zM381.9 166.9h1.6v1.6h-1.6zM374.9 74.8h1.6v1.6h-1.6zM379.2 94.0h1.6v1.6h-1.6zM380.1 113.7h1.6v1.6h-1.6zM368.7 92.7h1.6v1.6h-1.6zM377.8 141.8h1.6v1.6h-1.6zM380.0 152.8h1.6v1.6h-1.6zM371.8 133.4h1.6v1.6h-1.6zM381.9 100.7h1.6v1.6h-1.6zM377.3 142.2h1.6v1.6h-1.6zM363.1 134.6h1.6v1.6h-1.6zM381.3 127.7h1.6v1.6h-1.6zM376.0 77.7h1.6v1.6h-1.6zM381.2 96.2h1.6v1.6h-1.6zM368.5 138.3h1.6v1.6h-1.6zM380.6 81.8h1.6v1.6h-1.6zM380.7 82.3h1.6v1.6h-1.6zM380.9 148.9h1.6v1.6h-1.6zM381.8 71.1h1.6v1.6h-1.6zM381.6 155.5h1.6v1.6h-1.6zM374.9 136.4h1.6v1.6h-1.6zM381.0 78.7h1.6v1.6h-1.6zM376.1 121.7h1.6v1.6h-1.6zM378.9 147.9h1.6v1.6h-1.6zM381.1 70.5h1.6v1.6h-1.6zM380.4 104.3h1.6v1.6h-1.6zM377.3 165.3h1.6v1.6h-1.6zM382.5 145.4h1.6v1.6h-1.6zM367.4 151.1h1.6v1.6h-1.6zM375.3 120.0h1.6v1.6h-1.6zM372.0 74.0h1.6v1.6h-1.6zM379.5 75.6h1.6v1.6h-1.6zM374.5 161.6h1.6v1.6h-1.6zM366.9 109.8h1.6v1.6h-1.6zM379.6 152.7h1.6v1.6h-1.6zM378.2 127.3h1.6v1.6h-1.6zM393.2 97.9h1.6v1.6h-1.6zM373.3 141.6h1.6v1.6h-1.6zM371.9 142.5h1.6v1.6h-1.6zM368.1 112.2h1.6v1.6h-1.6zM371.3 151.9h1.6v1.6h-1.6zM358.7 164.5h1.6v1.6h-1.6zM371.8 79.3h1.6v1.6h-1.6zM381.8 107.3h1.6v1.6h-1.6zM362.5 70.4h1.6v1.6h-1.6zM384.8 95.3h1.6v1.6h-1.6zM370.8 138.5h1.6v1.6h-1.6zM378.4 83.6h1.6v1.6h-1.6zM371.2 137.4h1.6v1.6h-1.6zM385.3 133.0h1.6v1.6h-1.6zM371.6 129.3h1.6v1.6h-1.6zM374.1 147.7h1.6v1.6h-1.6zM372.5 147.6h1.6v1.6h-1.6zM371.2 102.9h1.6v1.6h-1.6zM386.2 171.9h1.6v1.6h-1.6zM393.5 98.1h1.6v1.6h-1.6zM391.4 71.8h1.6v1.6h-1.6zM359.6 88.4h1.6v1.6h-1.6zM389.9 117.4h1.6v1.6h-1.6zM382.6 93.6h1.6v1.6h-1.6zM379.5 117.0h1.6v1.6h-1.6zM386.8 82.1h1.6v1.6h-1.6zM379.8 119.7h1.6v1.6h-1.6zM358.9 118.7h1.6v1.6h-1.6zM365.5 84.4h1.6v1.6h-1.6zM360.9 107.2h1.6v1.6h-1.6zM371.9 91.6h1.6v1.6h-1.6zM349.5 110.0h1.6v1.6h-1.6zM346.5 105.0h1.6v1.6h-1.6zM342.4 109.2h1.6v1.6h-1.6zM340.6 100.0h1.6v1.6h-1.6zM342.8 118.0h1.6v1.6h-1.6zM338.6 103.3h1.6v1.6h-1.6zM346.3 107.5h1.6v1.6h-1.6zM346.7 90.4h1.6v1.6h-1.6zM344.4 120.6h1.6v1.6h-1.6zM330.5 106.8h1.6v1.6h-1.6zM331.3 103.4h1.6v1.6h-1.6zM358.8 109.2h1.6v1.6h-1.6zM336.6 94.5h1.6v1.6h-1.6zM341.0 114.2h1.6v1.6h-1.6zM343.7 101.4h1.6v1.6h-1.6zM341.3 97.5h1.6v1.6h-1.6zM334.4 103.2h1.6v1.6h-1.6zM341.8 89.6h1.6v1.6h-1.6zM335.3 100.1h1.6v1.6h-1.6zM335.7 110.3h1.6v1.6h-1.6zM341.8 106.9h1.6v1.6h-1.6zM335.3 111.1h1.6v1.6h-1.6zM336.5 112.0h1.6v1.6h-1.6zM347.0 110.9h1.6v1.6h-1.6zM336.8 113.1h1.6v1.6h-1.6zM339.5 110.2h1.6v1.6h-1.6zM333.2 97.2h1.6v1.6h-1.6zM339.0 113.0h1.6v1.6h-1.6zM348.3 105.8h1.6v1.6h-1.6zM335.0 100.7h1.6v1.6h-1.6zM340.0 104.4h1.6v1.6h-1.6zM343.1 108.3h1.6v1.6h-1.6zM339.0 40.4h1.6v1.6h-1.6zM338.0 73.9h1.6v1.6h-1.6zM347.4 48.5h1.6v1.6h-1.6zM361.0 49.3h1.6v1.6h-1.6zM327.8 49.9h1.6v1.6h-1.6zM364.8 41.9h1.6v1.6h-1.6zM329.6 79.4h1.6v1.6h-1.6zM341.0 51.9h1.6v1.6h-1.6zM349.3 65.3h1.6v1.6h-1.6zM382.8 54.1h1.6v1.6h-1.6zM349.1 53.1h1.6v1.6h-1.6zM356.7 74.4h1.6v1.6h-1.6zM341.1 44.1h1.6v1.6h-1.6zM378.1 74.3h1.6v1.6h-1.6zM390.5 42.0h1.6v1.6h-1.6zM353.0 46.6h1.6v1.6h-1.6zM369.8 70.1h1.6v1.6h-1.6zM355.2 55.7h1.6v1.6h-1.6zM349.1 59.1h1.6v1.6h-1.6zM384.3 53.4h1.6v1.6h-1.6zM387.0 56.3h1.6v1.6h-1.6zM347.3 106.8h1.6v1.6h-1.6zM282.7 141.6h1.6v1.6h-1.6zM299.7 161.9h1.6v1.6h-1.6zM258.3 136.1h1.6v1.6h-1.6zM300.8 96.9h1.6v1.6h-1.6zM264.3 123.1h1.6v1.6h-1.6zM389.4 151.1h1.6v1.6h-1.6zM324.6 149.6h1.6v1.6h-1.6zM252.0 55.0h1.6v1.6h-1.6zM254.7 47.4h1.6v1.6h-1.6zM246.6 33.6h1.6v1.6h-1.6zM260.3 21.4h1.6v1.6h-1.6zM246.2 50.6h1.6v1.6h-1.6zM250.6 52.3h1.6v1.6h-1.6zM259.2 35.0h1.6v1.6h-1.6zM248.4 28.5h1.6v1.6h-1.6zM249.4 52.4h1.6v1.6h-1.6zM257.9 56.8h1.6v1.6h-1.6zM363.5 163.8h1.6v1.6h-1.6zM356.9 142.3h1.6v1.6h-1.6zM370.2 145.6h1.6v1.6h-1.6zM365.3 152.8h1.6v1.6h-1.6zM367.3 166.0h1.6v1.6h-1.6zM362.3 154.4h1.6v1.6h-1.6zM366.8 151.4h1.6v1.6h-1.6zM365.8 153.2h1.6v1.6h-1.6zM365.1 169.6h1.6v1.6h-1.6zM373.2 161.2h1.6v1.6h-1.6zM362.7 149.1h1.6v1.6h-1.6zM367.0 157.3h1.6v1.6h-1.6z"/>
<path fill="#111" d="M291.3 81.1h1.6v1.6h-1.6zM312.9 73.0h1.6v1.6h-1.6zM309.6 74.1h1.6v1.6h-1.6zM301.3 71.8h1.6v1.6h-1.6zM271.1 82.5h1.6v1.6h-1.6zM286.8 74.3h1.6v1.6h-1.6zM259.1 23.7h1.6v1.6h-1.6zM269.4 71.4h1.6v1.6h-1.6zM245.9 52.7h1.6v1.6h-1.6zM323.5 49.1h1.6v1.6h-1.6zM332.7 52.2h1.6v1.6h-1.6zM293.9 94.9h1.6v1.6h-1.6zM269.7 79.6h1.6v1.6h-1.6zM273.6 87.7h1.6v1.6h-1.6zM329.4 89.3h1.6v1.6h-1.6zM301.5 75.3h1.6v1.6h-1.6zM280.6 71.7h1.6v1.6h-1.6zM271.3 72.3h1.6v1.6h-1.6zM311.6 75.9h1.6v1.6h-1.6zM341.2 24.1h1.6v1.6h-1.6zM305.4 72.5h1.6v1.6h-1.6zM303.4 75.3h1.6v1.6h-1.6zM286.9 92.6h1.6v1.6h-1.6zM281.1 74.6h1.6v1.6h-1.6zM313.7 80.1h1.6v1.6h-1.6zM285.8 83.5h1.6v1.6h-1.6zM296.6 82.4h1.6v1.6h-1.6zM324.3 75.1h1.6v1.6h-1.6zM278.4 103.3h1.6v1.6h-1.6zM295.5 79.2h1.6v1.6h-1.6zM295.7 76.2h1.6v1.6h-1.6zM299.0 80.8h1.6v1.6h-1.6zM300.3 75.6h1.6v1.6h-1.6zM307.0 100.4h1.6v1.6h-1.6zM294.0 76.1h1.6v1.6h-1.6zM313.5 81.1h1.6v1.6h-1.6zM290.5 94.2h1.6v1.6h-1.6zM298.8 96.2h1.6v1.6h-1.6zM306.6 80.7h1.6v1.6h-1.6zM275.8 102.1h1.6v1.6h-1.6zM287.7 80.7h1.6v1.6h-1.6zM292.0 83.2h1.6v1.6h-1.6zM274.6 93.3h1.6v1.6h-1.6zM307.3 101.5h1.6v1.6h-1.6zM291.4 90.0h1.6v1.6h-1.6zM321.7 78.1h1.6v1.6h-1.6zM290.8 78.2h1.6v1.6h-1.6zM278.2 100.3h1.6v1.6h-1.6zM291.9 90.0h1.6v1.6h-1.6zM281.0 71.6h1.6v1.6h-1.6zM297.0 95.7h1.6v1.6h-1.6zM294.5 76.0h1.6v1.6h-1.6zM297.1 77.2h1.6v1.6h-1.6zM304.8 78.8h1.6v1.6h-1.6zM299.2 89.9h1.6v1.6h-1.6zM292.2 90.3h1.6v1.6h-1.6zM288.9 92.6h1.6v1.6h-1.6zM306.1 76.6h1.6v1.6h-1.6zM287.7 86.1h1.6v1.6h-1.6zM302.3 72.3h1.6v1.6h-1.6zM290.2 88.0h1.6v1.6h-1.6zM291.5 79.6h1.6v1.6h-1.6zM292.9 95.0h1.6v1.6h-1.6zM309.2 78.2h1.6v1.6h-1.6zM284.4 113.0h1.6v1.6h-1.6zM279.3 100.0h1.6v1.6h-1.6zM306.0 82.9h1.6v1.6h-1.6zM304.6 81.1h1.6v1.6h-1.6zM291.0 77.6h1.6v1.6h-1.6zM286.3 81.2h1.6v1.6h-1.6zM278.4 83.8h1.6v1.6h-1.6zM306.5 114.9h1.6v1.6h-1.6zM295.5 109.3h1.6v1.6h-1.6zM302.3 104.9h1.6v1.6h-1.6zM300.7 102.8h1.6v1.6h-1.6zM296.0 71.1h1.6v1.6h-1.6zM319.4 77.1h1.6v1.6h-1.6zM289.4 105.5h1.6v1.6h-1.6zM288.2 134.8h1.6v1.6h-1.6zM296.9 131.0h1.6v1.6h-1.6zM294.0 92.5h1.6v1.6h-1.6zM310.0 106.7h1.6v1.6h-1.6zM307.7 73.5h1.6v1.6h-1.6zM262.0 116.1h1.6v1.6h-1.6zM292.9 110.9h1.6v1.6h-1.6zM311.5 99.0h1.6v1.6h-1.6zM283.7 120.1h1.6v1.6h-1.6zM301.8 105.7h1.6v1.6h-1.6zM290.2 123.8h1.6v1.6h-1.6zM315.8 96.5h1.6v1.6h-1.6zM289.5 104.7h1.6v1.6h-1.6zM312.7 101.8h1.6v1.6h-1.6zM293.9 101.6h1.6v1.6h-1.6zM283.7 102.0h1.6v1.6h-1.6zM311.0 109.0h1.6v1.6h-1.6zM296.5 84.0h1.6v1.6h-1.6zM309.1 92.8h1.6v1.6h-1.6zM309.3 109.8h1.6v1.6h-1.6zM306.2 89.1h1.6v1.6h-1.6zM301.9 90.0h1.6v1.6h-1.6zM298.5 122.7h1.6v1.6h-1.6zM286.5 99.0h1.6v1.6h-1.6zM326.1 103.9h1.6v1.6h-1.6zM308.6 82.9h1.6v1.6h-1.6zM298.6 107.0h1.6v1.6h-1.6zM321.2 67.9h1.6v1.6h-1.6zM359.6 98.7h1.6v1.6h-1.6zM318.4 72.1h1.6v1.6h-1.6zM323.8 95.2h1.6v1.6h-1.6zM314.7 110.4h1.6v1.6h-1.6zM291.1 115.6h1.6v1.6h-1.6zM368.2 94.2h1.6v1.6h-1.6zM325.1 115.6h1.6v1.6h-1.6zM328.4 84.5h1.6v1.6h-1.6zM366.8 91.1h1.6v1.6h-1.6zM306.2 91.8h1.6v1.6h-1.6zM288.5 110.0h1.6v1.6h-1.6zM321.7 96.4h1.6v1.6h-1.6zM352.4 91.9h1.6v1.6h-1.6zM317.9 88.2h1.6v1.6h-1.6zM335.5 79.7h1.6v1.6h-1.6zM350.0 87.8h1.6v1.6h-1.6zM323.4 74.1h1.6v1.6h-1.6zM350.0 76.6h1.6v1.6h-1.6zM331.9 90.2h1.6v1.6h-1.6zM306.6 85.3h1.6v1.6h-1.6zM365.7 107.1h1.6v1.6h-1.6zM348.2 103.9h1.6v1.6h-1.6zM363.0 84.5h1.6v1.6h-1.6zM371.3 107.9h1.6v1.6h-1.6zM310.8 74.5h1.6v1.6h-1.6zM282.5 93.8h1.6v1.6h-1.6zM378.0 108.1h1.6v1.6h-1.6zM377.9 124.9h1.6v1.6h-1.6zM365.0 138.0h1.6v1.6h-1.6zM367.8 126.9h1.6v1.6h-1.6zM371.5 73.6h1.6v1.6h-1.6zM387.1 172.6h1.6v1.6h-1.6zM363.9 167.7h1.6v1.6h-1.6zM382.7 125.4h1.6v1.6h-1.6zM376.1 85.3h1.6v1.6h-1.6zM366.0 169.1h1.6v1.6h-1.6zM377.2 102.1h1.6v1.6h-1.6zM387.7 145.2h1.6v1.6h-1.6zM388.5 89.8h1.6v1.6h-1.6zM372.5 128.9h1.6v1.6h-1.6zM379.7 166.9h1.6v1.6h-1.6zM375.3 85.4h1.6v1.6h-1.6zM372.5 118.8h1.6v1.6h-1.6zM381.4 73.4h1.6v1.6h-1.6zM373.7 150.2h1.6v1.6h-1.6zM373.3 136.6h1.6v1.6h-1.6zM375.5 85.9h1.6v1.6h-1.6zM366.9 113.3h1.6v1.6h-1.6zM379.7 123.2h1.6v1.6h-1.6zM378.4 72.2h1.6v1.6h-1.6zM383.2 168.9h1.6v1.6h-1.6zM380.2 94.3h1.6v1.6h-1.6zM360.7 114.8h1.6v1.6h-1.6zM378.8 148.0h1.6v1.6h-1.6zM379.3 133.2h1.6v1.6h-1.6zM381.6 78.9h1.6v1.6h-1.6zM373.9 103.2h1.6v1.6h-1.6zM372.6 170.0h1.6v1.6h-1.6zM373.4 81.9h1.6v1.6h-1.6zM379.4 159.7h1.6v1.6h-1.6zM376.2 96.0h1.6v1.6h-1.6zM383.3 71.7h1.6v1.6h-1.6zM375.0 93.1h1.6v1.6h-1.6zM378.9 80.1h1.6v1.6h-1.6zM360.5 130.0h1.6v1.6h-1.6zM380.5 139.8h1.6v1.6h-1.6zM380.6 71.5h1.6v1.6h-1.6zM389.2 69.1h1.6v1.6h-1.6zM376.5 155.6h1.6v1.6h-1.6zM368.5 151.4h1.6v1.6h-1.6zM372.2 73.1h1.6v1.6h-1.6zM373.6 114.7h1.6v1.6h-1.6zM377.1 116.9h1.6v1.6h-1.6zM383.8 150.2h1.6v1.6h-1.6zM386.8 106.3h1.6v1.6h-1.6zM383.0 132.5h1.6v1.6h-1.6zM382.3 123.5h1.6v1.6h-1.6zM378.2 147.2h1.6v1.6h-1.6zM373.4 72.8h1.6v1.6h-1.6zM379.8 122.5h1.6v1.6h-1.6zM372.8 99.6h1.6v1.6h-1.6zM376.7 164.8h1.6v1.6h-1.6zM384.8 95.3h1.6v1.6h-1.6zM372.1 140.8h1.6v1.6h-1.6zM392.4 96.0h1.6v1.6h-1.6zM380.6 72.3h1.6v1.6h-1.6zM372.7 148.0h1.6v1.6h-1.6zM370.9 112.6h1.6v1.6h-1.6zM378.0 159.8h1.6v1.6h-1.6zM374.1 78.4h1.6v1.6h-1.6zM384.8 120.5h1.6v1.6h-1.6zM381.8 107.8h1.6v1.6h-1.6zM369.8 152.6h1.6v1.6h-1.6zM376.8 86.6h1.6v1.6h-1.6zM385.3 69.6h1.6v1.6h-1.6zM384.1 86.5h1.6v1.6h-1.6zM374.8 74.5h1.6v1.6h-1.6zM378.6 155.9h1.6v1.6h-1.6zM375.1 104.4h1.6v1.6h-1.6zM368.9 123.8h1.6v1.6h-1.6zM374.8 104.9h1.6v1.6h-1.6zM378.5 159.8h1.6v1.6h-1.6zM373.3 118.7h1.6v1.6h-1.6zM379.4 63.2h1.6v1.6h-1.6zM377.6 95.0h1.6v1.6h-1.6zM377.9 153.0h1.6v1.6h-1.6zM381.1 128.9h1.6v1.6h-1.6zM378.6 142.8h1.6v1.6h-1.6zM378.6 142.3h1.6v1.6h-1.6zM376.8 171.1h1.6v1.6h-1.6zM371.4 122.5h1.6v1.6h-1.6zM384.5 85.2h1.6v1.6h-1.6zM374.2 139.5h1.6v1.6h-1.6zM373.8 138.1h1.6v1.6h-1.6zM375.6 126.9h1.6v1.6h-1.6zM378.3 107.6h1.6v1.6h-1.6zM369.6 82.1h1.6v1.6h-1.6zM388.8 79.2h1.6v1.6h-1.6zM366.1 69.7h1.6v1.6h-1.6zM376.9 112.8h1.6v1.6h-1.6zM365.7 164.9h1.6v1.6h-1.6zM382.7 81.3h1.6v1.6h-1.6zM374.9 62.2h1.6v1.6h-1.6zM369.0 138.5h1.6v1.6h-1.6zM383.3 70.8h1.6v1.6h-1.6zM381.6 153.4h1.6v1.6h-1.6zM378.1 117.4h1.6v1.6h-1.6zM380.2 92.6h1.6v1.6h-1.6zM373.5 92.8h1.6v1.6h-1.6zM374.0 98.5h1.6v1.6h-1.6zM375.5 97.7h1.6v1.6h-1.6zM370.9 81.0h1.6v1.6h-1.6zM382.6 117.1h1.6v1.6h-1.6zM382.8 98.1h1.6v1.6h-1.6zM364.0 98.3h1.6v1.6h-1.6zM378.0 105.0h1.6v1.6h-1.6zM387.8 131.7h1.6v1.6h-1.6zM331.7 117.1h1.6v1.6h-1.6zM328.0 110.8h1.6v1.6h-1.6zM333.4 98.6h1.6v1.6h-1.6zM358.4 100.5h1.6v1.6h-1.6zM322.6 122.9h1.6v1.6h-1.6zM333.8 105.4h1.6v1.6h-1.6zM353.3 86.6h1.6v1.6h-1.6zM341.3 115.2h1.6v1.6h-1.6zM329.5 108.3h1.6v1.6h-1.6zM342.1 118.7h1.6v1.6h-1.6zM344.1 109.0h1.6v1.6h-1.6zM344.4 120.7h1.6v1.6h-1.6zM333.2 95.7h1.6v1.6h-1.6zM342.5 117.1h1.6v1.6h-1.6zM321.6 131.0h1.6v1.6h-1.6zM355.5 99.3h1.6v1.6h-1.6zM331.9 108.8h1.6v1.6h-1.6zM321.5 96.6h1.6v1.6h-1.6zM342.0 107.9h1.6v1.6h-1.6zM337.6 119.6h1.6v1.6h-1.6zM350.8 103.6h1.6v1.6h-1.6zM349.2 107.6h1.6v1.6h-1.6zM338.2 100.2h1.6v1.6h-1.6zM330.3 95.6h1.6v1.6h-1.6zM342.6 106.3h1.6v1.6h-1.6zM343.5 106.6h1.6v1.6h-1.6zM338.5 116.4h1.6v1.6h-1.6zM335.1 97.5h1.6v1.6h-1.6zM331.0 118.2h1.6v1.6h-1.6zM334.8 116.8h1.6v1.6h-1.6zM344.8 100.3h1.6v1.6h-1.6zM355.7 80.0h1.6v1.6h-1.6zM370.0 56.1h1.6v1.6h-1.6zM326.9 73.4h1.6v1.6h-1.6zM379.6 68.6h1.6v1.6h-1.6zM381.6 78.2h1.6v1.6h-1.6zM370.0 42.9h1.6v1.6h-1.6zM349.1 77.7h1.6v1.6h-1.6zM373.9 41.1h1.6v1.6h-1.6zM356.6 61.5h1.6v1.6h-1.6zM374.2 75.4h1.6v1.6h-1.6zM371.1 49.2h1.6v1.6h-1.6zM393.8 67.7h1.6v1.6h-1.6zM375.0 70.0h1.6v1.6h-1.6zM372.1 83.5h1.6v1.6h-1.6zM362.3 48.6h1.6v1.6h-1.6zM371.0 66.2h1.6v1.6h-1.6zM371.6 59.5h1.6v1.6h-1.6zM328.3 56.0h1.6v1.6h-1.6zM354.8 63.0h1.6v1.6h-1.6zM385.1 60.5h1.6v1.6h-1.6zM334.4 48.5h1.6v1.6h-1.6zM382.4 47.6h1.6v1.6h-1.6zM392.3 44.7h1.6v1.6h-1.6zM336.2 118.5h1.6v1.6h-1.6zM321.4 163.4h1.6v1.6h-1.6zM333.1 163.9h1.6v1.6h-1.6zM304.3 151.7h1.6v1.6h-1.6zM289.9 142.4h1.6v1.6h-1.6zM281.1 125.8h1.6v1.6h-1.6zM256.9 34.6h1.6v1.6h-1.6zM256.1 59.3h1.6v1.6h-1.6zM249.1 29.2h1.6v1.6h-1.6zM253.1 48.2h1.6v1.6h-1.6zM253.7 60.2h1.6v1.6h-1.6zM259.4 48.5h1.6v1.6h-1.6zM245.4 33.1h1.6v1.6h-1.6zM251.6 47.2h1.6v1.6h-1.6zM254.4 44.5h1.6v1.6h-1.6zM251.1 28.1h1.6v1.6h-1.6zM257.0 52.9h1.6v1.6h-1.6zM249.3 30.1h1.6v1.6h-1.6zM251.8 44.0h1.6v1.6h-1.6zM367.2 163.2h1.6v1.6h-1.6zM371.6 158.6h1.6v1.6h-1.6zM376.2 153.8h1.6v1.6h-1.6zM375.0 168.6h1.6v1.6h-1.6zM367.8 167.9h1.6v1.6h-1.6zM373.1 164.6h1.6v1.6h-1.6z"/>
<g stroke="#000" fill="none">
<path d="M241.5,7.8999999999999995 H424.6" stroke-width="1.8" stroke="#5a5a5a"/>
<path d="M424.6,7.0 V175.6" stroke-width="1.6"/>
<path d="M241.5,7.0 V176.4" stroke-width="1.3"/>
<path d="M240.9,175.6 H425.40000000000003" stroke-width="1.5"/>
<rect x="261.4" y="20.3" width="57.6" height="50.2" stroke-width="1.5"/>
<path d="M241.5,175.6 V180.1" stroke-width="1.25"/>
<path d="M241.5,175.6 H237.0" stroke-width="1.25"/>
<path d="M255.3,175.6 V178.6" stroke-width="1.25"/>
<path d="M241.5,163.0 H238.5" stroke-width="1.25"/>
<path d="M263.3,175.6 V178.6" stroke-width="1.25"/>
<path d="M241.5,155.6 H238.5" stroke-width="1.25"/>
<path d="M269.1,175.6 V178.6" stroke-width="1.25"/>
<path d="M241.5,150.3 H238.5" stroke-width="1.25"/>
<path d="M273.5,175.6 V178.6" stroke-width="1.25"/>
<path d="M241.5,146.2 H238.5" stroke-width="1.25"/>
<path d="M277.1,175.6 V178.6" stroke-width="1.25"/>
<path d="M241.5,142.9 H238.5" stroke-width="1.25"/>
<path d="M280.2,175.6 V178.6" stroke-width="1.25"/>
<path d="M241.5,140.1 H238.5" stroke-width="1.25"/>
<path d="M282.8,175.6 V178.6" stroke-width="1.25"/>
<path d="M241.5,137.7 H238.5" stroke-width="1.25"/>
<path d="M285.2,175.6 V178.6" stroke-width="1.25"/>
<path d="M241.5,135.5 H238.5" stroke-width="1.25"/>
<path d="M287.3,175.6 V180.1" stroke-width="1.25"/>
<path d="M241.5,133.6 H237.0" stroke-width="1.25"/>
<path d="M301.1,175.6 V178.6" stroke-width="1.25"/>
<path d="M241.5,121.0 H238.5" stroke-width="1.25"/>
<path d="M309.1,175.6 V178.6" stroke-width="1.25"/>
<path d="M241.5,113.6 H238.5" stroke-width="1.25"/>
<path d="M314.8,175.6 V178.6" stroke-width="1.25"/>
<path d="M241.5,108.3 H238.5" stroke-width="1.25"/>
<path d="M319.3,175.6 V178.6" stroke-width="1.25"/>
<path d="M241.5,104.2 H238.5" stroke-width="1.25"/>
<path d="M322.9,175.6 V178.6" stroke-width="1.25"/>
<path d="M241.5,100.9 H238.5" stroke-width="1.25"/>
<path d="M326.0,175.6 V178.6" stroke-width="1.25"/>
<path d="M241.5,98.1 H238.5" stroke-width="1.25"/>
<path d="M328.6,175.6 V178.6" stroke-width="1.25"/>
<path d="M241.5,95.7 H238.5" stroke-width="1.25"/>
<path d="M331.0,175.6 V178.6" stroke-width="1.25"/>
<path d="M241.5,93.5 H238.5" stroke-width="1.25"/>
<path d="M333.1,175.6 V180.1" stroke-width="1.25"/>
<path d="M241.5,91.6 H237.0" stroke-width="1.25"/>
<path d="M346.8,175.6 V178.6" stroke-width="1.25"/>
<path d="M241.5,79.0 H238.5" stroke-width="1.25"/>
<path d="M354.9,175.6 V178.6" stroke-width="1.25"/>
<path d="M241.5,71.6 H238.5" stroke-width="1.25"/>
<path d="M360.6,175.6 V178.6" stroke-width="1.25"/>
<path d="M241.5,66.3 H238.5" stroke-width="1.25"/>
<path d="M365.0,175.6 V178.6" stroke-width="1.25"/>
<path d="M241.5,62.2 H238.5" stroke-width="1.25"/>
<path d="M368.7,175.6 V178.6" stroke-width="1.25"/>
<path d="M241.5,58.9 H238.5" stroke-width="1.25"/>
<path d="M371.7,175.6 V178.6" stroke-width="1.25"/>
<path d="M241.5,56.1 H238.5" stroke-width="1.25"/>
<path d="M374.4,175.6 V178.6" stroke-width="1.25"/>
<path d="M241.5,53.7 H238.5" stroke-width="1.25"/>
<path d="M376.7,175.6 V178.6" stroke-width="1.25"/>
<path d="M241.5,51.5 H238.5" stroke-width="1.25"/>
<path d="M378.8,175.6 V180.1" stroke-width="1.25"/>
<path d="M241.5,49.6 H237.0" stroke-width="1.25"/>
<path d="M392.6,175.6 V178.6" stroke-width="1.25"/>
<path d="M241.5,37.0 H238.5" stroke-width="1.25"/>
<path d="M400.7,175.6 V178.6" stroke-width="1.25"/>
<path d="M241.5,29.6 H238.5" stroke-width="1.25"/>
<path d="M406.4,175.6 V178.6" stroke-width="1.25"/>
<path d="M241.5,24.3 H238.5" stroke-width="1.25"/>
<path d="M410.8,175.6 V178.6" stroke-width="1.25"/>
<path d="M241.5,20.2 H238.5" stroke-width="1.25"/>
<path d="M414.4,175.6 V178.6" stroke-width="1.25"/>
<path d="M241.5,16.9 H238.5" stroke-width="1.25"/>
<path d="M417.5,175.6 V178.6" stroke-width="1.25"/>
<path d="M241.5,14.1 H238.5" stroke-width="1.25"/>
<path d="M420.2,175.6 V178.6" stroke-width="1.25"/>
<path d="M241.5,11.7 H238.5" stroke-width="1.25"/>
<path d="M422.5,175.6 V178.6" stroke-width="1.25"/>
<path d="M241.5,9.5 H238.5" stroke-width="1.25"/>
<path d="M424.6,175.6 V179.6" stroke-width="1"/>
<path d="M241.5,7.6 H237.5" stroke-width="1"/>
</g>
<g font-family="Liberation Sans" font-size="10.5" fill="#000">
<g transform="translate(234.7,192.3) scale(0.87,1)"><use href="#one_r" transform="scale(0.0105)"/><text x="5.84" y="0">0</text><text x="11.48" y="-5.6">0</text></g>
<g transform="translate(280.8,192.3) scale(0.87,1)"><use href="#one_r" transform="scale(0.0105)"/><text x="5.84" y="0">0</text><use href="#one_r" transform="translate(11.48,-5.6) scale(0.0105)"/></g>
<g transform="translate(325.3,192.3) scale(0.87,1)"><use href="#one_r" transform="scale(0.0105)"/><text x="5.84" y="0">0</text><text x="11.48" y="-5.6">2</text></g>
<g transform="translate(370.3,192.3) scale(0.87,1)"><use href="#one_r" transform="scale(0.0105)"/><text x="5.84" y="0">0</text><text x="11.48" y="-5.6">3</text></g>
<g transform="translate(415.3,192.3) scale(0.87,1)"><use href="#one_r" transform="scale(0.0105)"/><text x="5.84" y="0">0</text><text x="11.48" y="-5.6">4</text></g>
<g transform="translate(232.7,182.9) rotate(-90)"><use href="#one_r" transform="scale(0.0105)"/><text x="5.84" y="0">0</text><text x="11.48" y="-5.6">0</text></g>
<g transform="translate(232.7,140.9) rotate(-90)"><use href="#one_r" transform="scale(0.0105)"/><text x="5.84" y="0">0</text><use href="#one_r" transform="translate(11.48,-5.6) scale(0.0105)"/></g>
<g transform="translate(232.7,99.4) rotate(-90)"><use href="#one_r" transform="scale(0.0105)"/><text x="5.84" y="0">0</text><text x="11.48" y="-5.6">2</text></g>
<g transform="translate(232.7,57.5) rotate(-90)"><use href="#one_r" transform="scale(0.0105)"/><text x="5.84" y="0">0</text><text x="11.48" y="-5.6">3</text></g>
<g transform="translate(232.7,18.0) rotate(-90)"><use href="#one_r" transform="scale(0.0105)"/><text x="5.84" y="0">0</text><text x="11.48" y="-5.6">4</text></g>
</g>
<text x="307.1" y="201.7" text-anchor="middle" font-family="Liberation Sans" font-weight="bold" font-size="10.5">CD45</text>
<text transform="translate(217.3,69.9) rotate(-90)" text-anchor="middle" font-family="Liberation Sans" font-weight="bold" font-size="11.3">CD38</text>
</svg>
</body></html>
